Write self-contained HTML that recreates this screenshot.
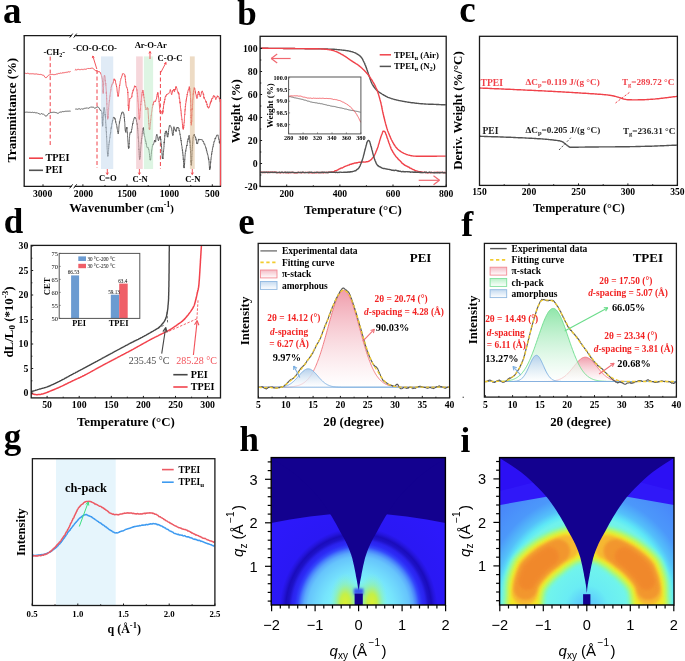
<!DOCTYPE html>
<html><head><meta charset="utf-8"><style>html,body{margin:0;padding:0;background:#fff;}svg{display:block;will-change:transform;}</style></head>
<body><svg width="685" height="661" viewBox="0 0 685 661">
<rect width="685" height="661" fill="#fff"/>
<text x="3" y="23.2" font-size="37" text-anchor="start" font-weight="bold" fill="#000" font-family="Liberation Serif" >a</text>
<line x1="50.2" y1="56.6" x2="50.2" y2="145" stroke="#f0424a" stroke-width="1" stroke-dasharray="4,2.5"/>
<line x1="97" y1="70" x2="97" y2="168" stroke="#f0424a" stroke-width="1" stroke-dasharray="4,2.5"/>
<line x1="160.4" y1="71" x2="160.4" y2="169" stroke="#f0424a" stroke-width="1" stroke-dasharray="4,2.5"/>
<path d="M24.6,112.3 L25.1,112 L25.6,112.3 L26.1,112.3 L26.6,112.1 L27.1,112.2 L27.6,112.2 L28.1,112.3 L28.6,112.3 L29.1,112.3 L29.6,112.3 L30.1,112.5 L30.6,112.3 L31.1,112.3 L31.6,112.5 L32.1,112.3 L32.6,112.3 L33.1,112.7 L33.6,112.5 L34.1,112.6 L34.6,112.4 L35.1,112.6 L35.6,112.8 L36.1,112.6 L36.6,112.9 L37.1,113.1 L37.6,112.9 L38.1,113.4 L38.6,113.5 L39.1,113.9 L39.6,113.9 L40.1,114.2 L40.6,114.2 L41.1,113.7 L41.6,113.6 L42.1,113.9 L42.6,114.1 L43.1,113.9 L43.6,114.2 L44.1,114.7 L44.6,115.1 L45.1,115.7 L45.6,116.1 L46.1,116.3 L46.6,116 L47.1,115.3 L47.6,114.6 L48.1,114.3 L48.6,113.4 L49.1,113.4 L49.6,113.2 L50.1,112.8 L50.6,112.6 L51.1,112.8 L51.6,112.4 L52.1,112.3 L52.6,112.4 L53.1,112.5 L53.6,112.2 L54.1,112.3 L54.6,112.3 L55.1,112.6 L55.6,112.5 L56.1,112.8 L56.6,112.7 L57.1,113 L57.6,113.3 L58.1,113.4 L58.6,113 L59.1,112.7 L59.6,112.3 L60.1,112.3 L60.6,112 L61.1,112.1 L61.6,112 L62.1,111.6 L62.6,111.6 L63.1,111.8 L63.6,111.6 L64.1,111.7 L64.6,111.4 L65.1,111.2 L65.6,111.3 L66.1,111.5 L66.6,111.2 L67.1,111.2 L67.6,111.2 L68.1,111.2 L68.6,111.2 L69.1,111.4 L69.6,111 L70.1,110.9 L70.6,111.3" fill="none" stroke="#5a5a5a" stroke-width="1.0" stroke-linejoin="round" />
<path d="M75.2,109.1 L75.4,109.1 L75.7,109.1 L76.1,109.1 L76.4,109.1 L76.8,109 L77.3,109.1 L77.7,109.4 L78.2,109.1 L78.7,108.8 L79.1,108.9 L79.6,108.8 L80,109 L80.4,109.2 L80.8,109.4 L81.2,109.2 L81.7,108.7 L82.1,109.1 L82.5,109.1 L82.9,109.2 L83.3,109 L83.7,108.7 L84.2,108.7 L84.6,108.2 L85,108.5 L85.4,108.3 L85.8,108.2 L86.2,108.2 L86.7,108 L87.1,108.1 L87.5,107.9 L87.9,108.3 L88.3,108.3 L88.8,108.1 L89.2,107.9 L89.6,107.7 L90,107.5 L90.4,107.1 L90.9,107.1 L91.3,107.1 L91.8,107.2 L92.2,107.4 L92.6,107.1 L93.1,107.1 L93.5,107.3 L93.9,107.4 L94.3,107.7 L94.7,108.3 L95,108 L95.5,107.9 L96,107.6 L96.4,107.4 L96.7,107.4 L97.1,107.1 L97.4,107 L97.7,106.9 L98,106.8 L98.3,107.2 L98.6,107.4 L98.9,108 L99.2,108.1 L99.5,108.7 L99.7,109.3 L99.9,109.2 L100.1,109.6 L100.3,110.4 L100.5,110.5 L100.8,110.2 L101,110.4 L101.2,111 L101.4,111.1 L101.6,111.6 L101.8,112.3 L101.9,112.5 L101.9,113.8 L102,113.7 L102,114.1 L102.1,114.6 L102.1,115.6 L102.1,115.7 L102.2,117 L102.2,117.8 L102.2,118.1 L102.2,117.6 L102.3,117.6 L102.3,118.4 L102.3,119.2 L102.3,120.1 L102.3,121.1 L102.3,121.6 L102.4,121.9 L102.4,122.5 L102.4,122 L102.4,123.2 L102.4,123 L102.4,122.9 L102.4,123.5 L102.4,124.1 L102.5,124.2 L102.5,124.7 L102.5,125.3 L102.5,125.8 L102.5,126 L102.6,125.7 L102.6,125.8 L102.6,126.3 L102.6,125.8 L102.7,125.5 L102.7,124.4 L102.7,124.7 L102.7,125.4 L102.8,125.1 L102.8,124.4 L102.8,124.4 L102.8,124.2 L102.9,124 L102.9,122.5 L102.9,121.5 L102.9,121.5 L103,121.2 L103,120.8 L103,119.5 L103.1,119.4 L103.1,119.7 L103.1,119.2 L103.1,119.3 L103.2,118.2 L103.2,117.2 L103.2,117.1 L103.3,116.5 L103.3,114.5 L103.3,113.5 L103.3,113.5 L103.4,112.9 L103.4,113.4 L103.4,113.4 L103.5,113 L103.5,112 L103.5,111.3 L103.6,111.2 L103.6,110.6 L103.6,110.5 L103.6,110.2 L103.7,110.2 L103.7,109.8 L103.8,108.8 L104,107.4 L104.1,107.4 L104.3,107.6 L104.4,109 L104.6,109.3 L104.7,110.2 L104.9,111.8 L105,113.3 L105,113.9 L105.1,114.1 L105.1,114.8 L105.1,114.4 L105.1,115.1 L105.2,114.5 L105.2,114.8 L105.2,115.4 L105.3,116 L105.3,116.1 L105.3,116.2 L105.3,116.1 L105.4,115.8 L105.4,116 L105.4,117.7 L105.5,117.4 L105.5,117.5 L105.5,117.8 L105.5,118.6 L105.6,119.3 L105.6,119.7 L105.6,119.9 L105.7,120.6 L105.7,120.7 L105.7,121.7 L105.7,122.9 L105.8,122.8 L105.8,123.4 L105.8,123.6 L105.9,124 L105.9,124 L105.9,124.8 L105.9,125.5 L106,126.6 L106,127.9 L106,127.3 L106.1,128.1 L106.1,128 L106.1,128.2 L106.2,128.3 L106.2,129.3 L106.2,130.3 L106.2,130.6 L106.3,131 L106.3,131.1 L106.3,131.4 L106.3,131.3 L106.4,132 L106.4,131.7 L106.4,133.6 L106.4,134.4 L106.5,134.2 L106.5,134.4 L106.5,134.7 L106.5,135.3 L106.6,135.9 L106.6,137.2 L106.6,137.1 L106.6,136.6 L106.6,137.5 L106.7,138.3 L106.7,138.4 L106.7,139.4 L106.7,139.8 L106.8,139.9 L106.8,140.6 L106.8,140.6 L106.8,141.2 L106.9,142.7 L106.9,143.5 L106.9,144 L106.9,144.2 L107,144.6 L107,144.5 L107,145.2 L107,145.4 L107,145.8 L107.1,147.1 L107.1,147.1 L107.1,147.6 L107.1,148.1 L107.2,149 L107.2,149.1 L107.2,149.7 L107.2,150.1 L107.3,150.3 L107.3,150.4 L107.3,150.4 L107.3,151.5 L107.4,151.4 L107.4,152.4 L107.4,153.2 L107.4,152.9 L107.5,152.7 L107.5,152.7 L107.5,153 L107.5,154 L107.6,153.8 L107.6,153.6 L107.6,153.4 L107.6,154 L107.7,154.6 L107.7,155.4 L107.7,155.3 L107.7,155.3 L107.8,155.2 L107.8,156.4 L107.9,156.4 L107.9,156.1 L108,155.3 L108,154.8 L108.1,154.4 L108.1,154 L108.1,153.9 L108.2,153.1 L108.2,153.5 L108.3,152.4 L108.3,152.2 L108.4,151.9 L108.4,151.5 L108.5,151.3 L108.5,150.4 L108.5,149.7 L108.6,149.5 L108.6,149.1 L108.7,148 L108.7,147.5 L108.8,146.1 L108.8,145.8 L108.9,144.3 L108.9,144.7 L109,143.8 L109,143.8 L109.1,143.4 L109.1,142.5 L109.2,142.4 L109.3,142.6 L109.3,141.5 L109.4,141.8 L109.4,141.2 L109.5,140.1 L109.5,139.6 L109.6,139.4 L109.6,139.3 L109.7,138.4 L109.7,137.8 L109.8,137.7 L109.9,137.4 L109.9,137.7 L110,137.2 L110,136.8 L110.1,135.6 L110.2,134.8 L110.2,134 L110.3,133.9 L110.3,133.9 L110.4,134.1 L110.5,133.8 L110.5,132.7 L110.6,132.2 L110.7,132.7 L110.7,131.9 L110.8,131.5 L110.8,130.3 L110.9,129.4 L111,129.2 L111,129 L111.1,129 L111.1,128.6 L111.2,127.6 L111.2,128.6 L111.3,128.1 L111.4,126.7 L111.5,127.1 L111.6,126.7 L111.6,125.9 L111.7,125.3 L111.8,125 L111.9,123.4 L112,123.7 L112.1,123.4 L112.2,123.2 L112.3,122.4 L112.3,121.8 L112.4,122.2 L112.5,120.1 L112.6,120.8 L112.7,121 L112.7,119.8 L112.8,119.5 L112.9,119.1 L113,118.8 L113.1,118.2 L113.1,117.8 L113.2,118 L113.6,117.2 L113.9,117.2 L114.2,117.5 L114.6,117.6 L114.7,118.7 L114.8,119.2 L114.9,118.3 L115,118.6 L115.1,118.8 L115.2,119.5 L115.4,119.4 L115.5,120.7 L115.6,120.8 L115.7,122.1 L115.8,121.8 L115.9,123 L116.1,123.3 L116.2,123.8 L116.3,124.1 L116.4,124.5 L116.5,124.2 L116.6,124.6 L116.6,124.9 L116.7,125.4 L116.8,125.9 L116.9,126.9 L117,127.5 L117,127.8 L117.1,127.6 L117.2,128.9 L117.3,129.1 L117.4,129.6 L117.5,130.4 L117.5,130.9 L117.6,131.4 L117.7,131.8 L117.8,131.4 L117.8,132.3 L117.9,132.6 L118,133.2 L118.1,133.2 L118.1,133 L118.2,133.7 L118.3,133.4 L118.3,133.6 L118.4,133.4 L118.4,133.2 L118.5,133.1 L118.5,132.7 L118.5,131.7 L118.6,131.2 L118.6,131.5 L118.7,130.7 L118.7,130 L118.7,129.6 L118.8,129.5 L118.8,128.5 L118.9,128 L118.9,127.3 L118.9,126.6 L119,126.6 L119,125.8 L119.1,125.4 L119.1,125.1 L119.2,124.7 L119.2,124.3 L119.3,124 L119.4,123 L119.4,121.6 L119.5,122 L119.6,122.4 L119.7,121.5 L119.8,121 L119.9,120.9 L120,119.9 L120.1,119.4 L120.2,118.8 L120.3,118.6 L120.4,118.1 L120.5,118.3 L120.6,117.1 L120.8,116.3 L120.9,115.4 L121,115.4 L121.1,115 L121.2,114.6 L121.4,114.6 L121.5,113.7 L121.6,113 L121.7,113.8 L121.8,113.4 L121.9,112.6 L122,112.9 L122.1,112.6 L122.2,112 L122.5,111.9 L122.7,112.1 L123,112.3 L123.2,112.2 L123.4,113.2 L123.6,113.1 L123.8,113.8 L124,115.1 L124,114.9 L124.1,115.6 L124.1,116 L124.2,116.6 L124.2,116.8 L124.2,117.8 L124.3,117.2 L124.3,117.4 L124.4,117.7 L124.4,118.3 L124.4,119.1 L124.5,119 L124.5,120 L124.5,120.9 L124.6,121.2 L124.6,120.9 L124.7,121.8 L124.7,122.5 L124.7,122.5 L124.8,122.9 L124.8,123.3 L124.8,123.4 L124.9,124.5 L124.9,125.6 L124.9,126.1 L125,126.1 L125,126.6 L125,127.1 L125.1,128.3 L125.1,128.2 L125.2,128.8 L125.2,128.9 L125.2,129.7 L125.3,129.5 L125.3,130.1 L125.3,130.1 L125.4,130.7 L125.4,130.3 L125.4,130.7 L125.5,131.5 L125.5,131.8 L125.7,131.5 L125.8,132.4 L125.9,131.4 L126.1,130.1 L126.2,128.8 L126.3,127.5 L126.5,127.7 L126.6,127.9 L126.8,128.7 L126.8,128 L126.9,127.3 L126.9,127 L126.9,127.2 L127,127.9 L127,128.1 L127,128.2 L127.1,129.4 L127.1,129.7 L127.1,130.5 L127.2,131.5 L127.2,131.4 L127.2,131.7 L127.3,132.8 L127.3,132.5 L127.4,133 L127.4,133.2 L127.4,134 L127.5,134.5 L127.5,135.3 L127.5,135.8 L127.6,136.9 L127.6,137 L127.7,137.6 L127.7,138.5 L127.7,138.5 L127.8,138.9 L127.8,139.6 L127.9,140.1 L127.9,141.1 L127.9,141.2 L128,141.2 L128,142.3 L128,142.5 L128.1,142.9 L128.1,143.4 L128.2,144.5 L128.2,145.1 L128.2,145.4 L128.3,145.7 L128.3,145.7 L128.3,146.8 L128.4,147.2 L128.4,146.7 L128.4,147.3 L128.5,146.8 L128.5,146.7 L128.5,146.8 L128.6,147.9 L128.6,148.6 L128.6,148.2 L128.7,147.7 L128.7,148.2 L128.8,147.5 L128.8,148 L128.8,147 L128.9,147.2 L128.9,146.3 L129,146.8 L129,146.1 L129,145.2 L129.1,144.9 L129.1,143.4 L129.1,143.4 L129.2,143.3 L129.2,143.8 L129.2,142.4 L129.3,142.3 L129.3,142 L129.3,141.3 L129.4,140.3 L129.4,139.6 L129.4,138.6 L129.5,138.3 L129.5,137.2 L129.5,136.7 L129.6,136.4 L129.6,135.6 L129.6,134.8 L129.7,134.7 L129.7,134.6 L129.8,134.5 L129.8,134.3 L129.8,134.5 L129.9,133.8 L129.9,133.9 L130.2,132.1 L130.4,132.1 L130.7,132.4 L131,133 L131.3,131.6 L131.4,132 L131.4,131.2 L131.5,130.5 L131.6,129.5 L131.7,129.8 L131.7,129.1 L131.8,129.2 L131.9,128.7 L132,128.5 L132.1,127.9 L132.1,127 L132.2,126.4 L132.3,126.1 L132.4,125.9 L132.5,125.1 L132.5,125.1 L132.6,123.7 L132.7,123.1 L132.8,123.4 L132.9,123.2 L132.9,123.7 L133,123.4 L133.1,122.3 L133.2,121.2 L133.4,120.8 L133.5,120.3 L133.7,120.2 L133.8,119.3 L134,118.6 L134.1,118 L134.3,117.9 L134.4,117.4 L134.6,117.3 L134.7,117.7 L134.9,117.6 L135,117.2 L135.2,117.8 L135.3,118.3 L135.4,118 L135.6,118.1 L135.7,117.9 L135.9,118.1 L136,118.4 L136.2,118.7 L136.3,119.4 L136.5,121.1 L136.6,122 L136.7,122.1 L136.9,122.8 L137,123.4 L137.1,124.1 L137.1,123.5 L137.2,124.1 L137.2,124.1 L137.3,124.6 L137.3,125.1 L137.3,124.1 L137.4,124.1 L137.4,125.5 L137.5,126.9 L137.5,127.6 L137.5,127.3 L137.6,127.7 L137.6,128.5 L137.6,128.7 L137.7,128.2 L137.7,129.4 L137.7,129.6 L137.8,130.2 L137.8,129.9 L137.8,130.3 L137.9,131.7 L137.9,131.9 L137.9,132.6 L138,133.7 L138,133.9 L138,134.1 L138.1,134.4 L138.1,135.1 L138.1,135.6 L138.2,136 L138.2,137 L138.2,137.3 L138.2,137.9 L138.3,137.6 L138.3,137.9 L138.3,138.6 L138.4,138.6 L138.4,138.5 L138.4,139.2 L138.5,139.6 L138.5,140.4 L138.5,141.5 L138.5,141.4 L138.6,141.3 L138.6,141.7 L138.6,142.1 L138.7,142.5 L138.7,143.6 L138.7,144.2 L138.7,144.7 L138.8,144.9 L138.8,145.8 L138.8,146.1 L138.8,147.2 L138.9,147.3 L138.9,147.6 L138.9,148.4 L138.9,149.6 L139,148.9 L139,149.7 L139,149.6 L139,149.7 L139.1,150.4 L139.1,151.6 L139.1,151.5 L139.1,152.1 L139.2,153.6 L139.2,154.5 L139.2,154.4 L139.2,155.1 L139.2,155.3 L139.3,155.4 L139.3,155.5 L139.3,156.6 L139.3,156.6 L139.4,157 L139.4,157.1 L139.4,156.9 L139.4,157.5 L139.5,158.8 L139.5,158.4 L139.5,158.6 L139.6,159.4 L139.6,159.5 L139.6,159.4 L139.6,159.7 L139.7,159.7 L139.7,159.5 L139.7,159.1 L139.8,159 L139.8,158.3 L139.8,158.6 L139.9,158.6 L139.9,158.3 L139.9,157.5 L140,157.5 L140,156.7 L140,157.2 L140.1,156.6 L140.1,156.9 L140.1,156.2 L140.2,156.2 L140.2,156 L140.2,155.8 L140.3,155 L140.3,153.6 L140.4,153.7 L140.4,153 L140.4,152 L140.5,151.4 L140.5,151.4 L140.6,151.4 L140.6,151 L140.6,150.7 L140.7,150.4 L140.7,149.4 L140.7,148.8 L140.8,148.1 L140.8,147.4 L140.9,146.9 L140.9,146.6 L140.9,145.8 L141,145.5 L141,145.4 L141.1,144.6 L141.1,144.4 L141.1,143.4 L141.2,142.7 L141.2,143.3 L141.3,142.6 L141.3,142.7 L141.4,141.1 L141.4,139.8 L141.5,139.9 L141.5,139.7 L141.6,138.4 L141.6,138.8 L141.7,138.7 L141.7,137.9 L141.8,137.8 L141.8,137.5 L141.9,136.9 L141.9,136 L142,135.9 L142.1,135.1 L142.1,134.5 L142.2,133.5 L142.2,133.4 L142.3,133.7 L142.3,132.8 L142.4,132.2 L142.4,131.3 L142.5,131.2 L142.5,131.3 L142.6,130.9 L142.7,130.8 L142.7,130.8 L142.8,129.8 L142.8,129.3 L142.9,129.5 L142.9,129 L143,128.4 L143,128.5 L143.1,128.6 L143.1,128.9 L143.2,128.2 L143.3,128.3 L143.4,128.6 L143.4,127.5 L143.5,128.6 L143.6,129 L143.6,128.8 L143.7,130.4 L143.8,131 L143.9,131.6 L143.9,133 L144,133.6 L144.1,133.3 L144.2,133.8 L144.3,135.1 L144.4,135.8 L144.5,136.4 L144.5,136.2 L144.6,136.7 L144.7,136.5 L144.8,136.7 L144.9,137.4 L144.9,137.6 L145,138.3 L145.1,138.5 L145.2,139 L145.3,140.3 L145.4,140.6 L145.5,141.1 L145.6,140.6 L145.7,140.8 L145.7,141.8 L145.8,141.5 L145.9,142 L146,142.5 L146.1,143.6 L146.2,143.1 L146.3,143.6 L146.4,144.2 L146.5,144.7 L146.5,144.4 L146.6,145.6 L146.7,146.1 L146.9,147.1 L147.1,147.5 L147.3,147.8 L147.5,147.6 L147.7,147.6 L147.9,147.3 L148,147.9 L148.2,147.8 L148.4,148.9 L148.6,149.7 L148.7,149.6 L148.7,150 L148.8,149.7 L148.9,150 L149,150.5 L149,150.8 L149.1,151.5 L149.2,152.3 L149.3,152.8 L149.3,153.2 L149.4,153.6 L149.5,153.7 L149.5,155.1 L149.6,155.6 L149.7,156.9 L149.8,156.7 L149.8,157.1 L149.9,158 L150,158.9 L150,159.4 L150.1,159.7 L150.2,159 L150.3,159.4 L150.3,160.2 L150.4,158.9 L150.5,159.2 L150.5,160.1 L150.6,159 L150.6,158.9 L150.7,159.4 L150.8,159 L150.8,158.4 L150.9,158.2 L150.9,157.4 L151,157.2 L151,156.5 L151.1,156.3 L151.2,155.2 L151.2,154.7 L151.3,154.3 L151.3,152.8 L151.4,153.1 L151.5,152.5 L151.5,151.8 L151.6,150.8 L151.6,150.6 L151.7,149.9 L151.8,150 L151.8,150.2 L151.9,149.3 L152,148.5 L152,148.1 L152.1,147.7 L152.2,147.6 L152.3,146.2 L152.5,146.3 L152.6,145.9 L152.7,145.2 L152.9,144.2 L153.1,144.5 L153.2,144.6 L153.4,144.1 L153.5,143.8 L153.7,143.5 L153.9,142.9 L154,142.7 L154.2,141.6 L154.3,141.7 L154.5,140.2 L154.6,140.9 L154.7,141.3 L154.8,141.3 L154.9,140.4 L155.2,140.2 L155.3,141.3 L155.4,141.7 L155.5,142 L155.6,141.8 L155.6,142.1 L155.7,141.3 L155.7,140.6 L155.8,140.5 L155.9,140.4 L155.9,139.5 L156,138.3 L156.1,137.4 L156.2,136.6 L156.2,136.6 L156.3,135.9 L156.4,135.8 L156.5,135 L156.6,134.9 L156.6,135.1 L156.7,134.5 L156.8,135.1 L156.9,135 L157.1,134.8 L157.2,135.2 L157.3,135.8 L157.5,136.1 L157.6,136.6 L157.7,137.6 L157.9,137.4 L158,139.4 L158.2,139.9 L158.3,140.3 L158.5,140.8 L158.7,140 L159,139 L159.2,138 L159.4,137.5 L159.7,137.5 L159.9,136.6 L160.1,137.7 L160.2,137.2 L160.2,136.7 L160.3,137.8 L160.4,137.6 L160.4,138.3 L160.5,137.7 L160.6,138.7 L160.6,138.7 L160.7,139.9 L160.7,139.2 L160.8,139.6 L160.8,139.8 L160.9,140.8 L161,140.9 L161,141.6 L161.1,142.4 L161.1,142.8 L161.2,143.6 L161.2,144.3 L161.3,143.9 L161.3,145.4 L161.4,145.2 L161.4,145.4 L161.5,147.1 L161.5,146.9 L161.6,147.3 L161.6,148.2 L161.6,148.1 L161.7,148.6 L161.7,149.1 L161.8,149.6 L161.8,149.6 L161.8,151 L161.9,151.5 L161.9,152.3 L162,152.7 L162,152.8 L162,154 L162.1,153.9 L162.1,154.9 L162.1,154.8 L162.2,154.9 L162.2,155.6 L162.3,157.4 L162.3,157.8 L162.3,157.7 L162.4,157.9 L162.4,158.6 L162.5,158.1 L162.5,157.2 L162.5,157.2 L162.6,157.8 L162.6,157.7 L162.7,158 L162.7,159 L162.8,158.5 L162.8,157.9 L162.9,157.9 L162.9,158.3 L163,158.6 L163,158 L163,157 L163.1,156.1 L163.1,155 L163.2,154.4 L163.2,154.7 L163.3,154.4 L163.3,153.8 L163.4,152.5 L163.4,152 L163.5,151.1 L163.5,151.6 L163.6,150.8 L163.6,150 L163.7,149.4 L163.7,149 L163.8,148.7 L163.8,148 L163.8,147.9 L163.9,147.6 L163.9,147.6 L163.9,147.3 L164,147 L164,146 L164,145.5 L164.1,143.8 L164.1,143.4 L164.2,143.2 L164.2,141.8 L164.2,142.8 L164.3,143 L164.3,142.5 L164.3,143.2 L164.4,141.2 L164.4,140.9 L164.4,140.5 L164.5,139.7 L164.5,140.2 L164.6,140.1 L164.6,139.5 L164.6,138.2 L164.7,137.9 L164.7,137.5 L164.7,137.4 L164.8,136.1 L164.8,135.5 L164.9,136.1 L164.9,135.8 L164.9,135.4 L165,135.1 L165,133.4 L165.1,133.9 L165.3,132.3 L165.4,131.4 L165.6,131.7 L165.7,132.2 L165.9,132.3 L166,131.5 L166.2,130.9 L166.3,131.4 L166.4,131.6 L166.5,130.9 L166.6,132.5 L166.7,131.9 L166.8,133.1 L166.9,134.1 L167,135.2 L167.1,135.6 L167.2,136.5 L167.3,136.8 L167.5,136.4 L167.6,136.3 L167.7,137.2 L167.8,135.8 L167.8,136.3 L167.9,135.8 L167.9,134.7 L168,134.4 L168.1,134.7 L168.1,133 L168.2,133.8 L168.3,134.2 L168.3,133.3 L168.4,132.6 L168.5,132.2 L168.5,132.1 L168.6,130.8 L168.7,130.2 L168.7,130 L168.8,128.7 L168.9,128.8 L169,128.4 L169,128.4 L169.1,127.2 L169.2,127 L169.2,126.9 L169.3,126.6 L169.4,125.7 L169.4,126.3 L169.5,125.9 L169.8,125.4 L170.1,125.3 L170.4,126 L170.7,126.4 L171,126.6 L171.3,127.9 L171.4,128 L171.5,128.4 L171.6,128.8 L171.7,128.6 L171.7,129.4 L171.8,130.2 L171.9,129.9 L172,130.7 L172.1,131.4 L172.2,132.5 L172.2,132.8 L172.3,133.3 L172.4,134.1 L172.5,133.7 L172.6,133.8 L172.6,134.2 L172.7,134.9 L172.8,135.7 L172.9,135.3 L173,134.9 L173,134.2 L173.1,134 L173.2,134.5 L173.2,133.6 L173.3,132.6 L173.4,132.9 L173.4,131.9 L173.5,131 L173.6,129.9 L173.6,130.1 L173.7,129.3 L173.8,127.8 L173.9,126.7 L173.9,127.2 L174,127 L174.1,127.5 L174.3,127.8 L174.4,128.7 L174.6,129.4 L174.8,128.8 L175,129.2 L175.2,129.4 L175.3,130.7 L175.5,130.2 L175.7,131.2 L175.9,130.3 L176.1,131.2 L176.2,131.5 L176.3,130 L176.5,129.7 L176.7,129 L176.8,127.8 L177,128.2 L177.1,127.3 L177.3,127.7 L177.4,127.4 L177.6,128 L177.7,127.1 L177.8,127.4 L178,127.3 L178.1,127.1 L178.3,127.9 L178.4,128 L178.6,128 L178.8,128.5 L178.9,128.3 L179,129.7 L179.2,131.1 L179.3,130.4 L179.5,131.2 L179.6,131.3 L179.6,131.4 L179.7,132.4 L179.8,133.6 L179.8,133.6 L179.9,133.5 L180,134.6 L180,134.3 L180.1,134.2 L180.2,134.3 L180.2,135.4 L180.3,135.7 L180.4,136.1 L180.4,136.1 L180.5,136.8 L180.6,137.2 L180.6,138.6 L180.7,138.6 L180.8,138.2 L180.8,139.7 L180.9,140 L181,140.2 L181,140.7 L181.1,141 L181.2,140.2 L181.2,141.1 L181.3,142.5 L181.4,143.2 L181.4,142.9 L181.5,143.1 L181.5,143.8 L181.6,145.3 L181.6,145.3 L181.7,145.4 L181.7,145.3 L181.8,145.4 L181.8,145.7 L181.9,146.3 L181.9,146.3 L182,146.7 L182,146.8 L182.1,148.3 L182.1,149 L182.2,149.1 L182.3,149.4 L182.3,150.3 L182.4,150.6 L182.4,150.6 L182.5,149.6 L182.5,149.7 L182.6,151.3 L182.6,151.9 L182.7,152.2 L182.7,151.9 L182.8,153.3 L182.8,153.2 L182.8,154 L182.9,154.6 L182.9,154.8 L183,154.7 L183,155.7 L183.1,155.4 L183.1,155.8 L183.2,156.6 L183.2,158 L183.2,158.1 L183.3,158.8 L183.3,159.6 L183.4,158.7 L183.4,159.3 L183.4,160.1 L183.5,160.7 L183.5,162.1 L183.6,162.3 L183.6,163.3 L183.6,164.3 L183.7,164.4 L183.7,165 L183.7,166.1 L183.7,166.6 L183.8,166.6 L183.8,165.7 L183.8,166 L183.9,166.5 L183.9,167.1 L183.9,167.4 L184,167.5 L184,167 L184.1,167.6 L184.1,168.1 L184.1,167.8 L184.2,167.6 L184.2,167.8 L184.2,167.1 L184.3,167.1 L184.3,167.2 L184.3,166.3 L184.3,165.9 L184.4,165.1 L184.4,164.4 L184.4,163.3 L184.5,163.7 L184.5,164.9 L184.5,163.8 L184.6,164 L184.6,163.6 L184.6,162.4 L184.7,162.2 L184.7,161.1 L184.7,159.4 L184.8,159.8 L184.8,159.2 L184.8,158.6 L184.9,158.6 L184.9,158.5 L184.9,157.6 L185,157.1 L185,156.7 L185,155.6 L185.1,155.7 L185.1,154.8 L185.2,154.7 L185.2,154.7 L185.2,154.6 L185.3,152.9 L185.3,152.4 L185.4,152 L185.5,151.3 L185.5,151 L185.6,150.7 L185.7,150.5 L185.8,151.4 L185.8,150.6 L185.9,149.9 L186,149 L186.1,148.6 L186.2,148.2 L186.3,148.3 L186.4,147.2 L186.4,147 L186.5,146.3 L186.6,145.3 L186.7,145.9 L186.8,145.5 L186.9,145.5 L186.9,146 L187,145.9 L187.1,144.9 L187.2,144.3 L187.3,143.3 L187.3,142.7 L187.4,141.4 L187.5,141.7 L187.6,141.3 L187.7,141.4 L187.8,141.6 L187.8,140.1 L187.9,139.7 L188,139 L188.1,139.3 L188.2,138.5 L188.2,138.9 L188.3,139.4 L188.4,139.4 L188.5,139.3 L188.5,138.3 L188.6,137.5 L188.8,136.2 L188.9,136.2 L189.1,135.3 L189.2,135.3 L189.3,136.8 L189.5,137.8 L189.6,137.7 L189.8,140 L189.9,140.3 L189.9,140 L189.9,141.3 L190,142.2 L190,141.9 L190,142.4 L190,141.6 L190.1,142.6 L190.1,142.6 L190.1,143.6 L190.1,143.5 L190.2,143.7 L190.2,144.7 L190.2,145.4 L190.2,145.5 L190.3,145.1 L190.3,146.1 L190.3,147.4 L190.3,148.1 L190.4,147.5 L190.4,148.2 L190.4,148.9 L190.4,150.2 L190.5,150.3 L190.5,150.5 L190.5,151.8 L190.5,151.3 L190.6,151.5 L190.6,151.7 L190.6,153.2 L190.6,153.3 L190.7,154.3 L190.7,154.3 L190.7,155.7 L190.7,156.2 L190.8,156.1 L190.8,157 L190.8,157.5 L190.8,157.8 L190.9,157.7 L190.9,159.3 L190.9,159.5 L190.9,159.5 L191,159.9 L191,160.3 L191,160 L191,161.2 L191,160.6 L191.1,161.8 L191.1,161 L191.1,161 L191.1,162.5 L191.2,162 L191.2,162.7 L191.2,163.2 L191.2,164.2 L191.2,165 L191.3,165 L191.3,164.9 L191.3,165.2 L191.3,165.3 L191.4,163.9 L191.4,164.4 L191.4,163.7 L191.4,165.2 L191.5,165.1 L191.5,164 L191.5,164.6 L191.6,163.2 L191.6,163.1 L191.6,161.9 L191.6,161.6 L191.6,161.5 L191.7,160.3 L191.7,160.5 L191.7,160.7 L191.7,160.8 L191.8,160.3 L191.8,159.5 L191.8,158.9 L191.8,157.5 L191.8,156.6 L191.9,156.9 L191.9,155.4 L191.9,154.7 L191.9,154.8 L192,154 L192,152.8 L192,152.2 L192,151.5 L192.1,150.7 L192.1,150.3 L192.1,150.7 L192.1,149.9 L192.2,149.7 L192.2,149 L192.2,148.7 L192.3,148.8 L192.3,148.5 L192.3,147.8 L192.4,147.1 L192.4,147.3 L192.4,146.4 L192.5,145.1 L192.5,145.4 L192.5,145.3 L192.6,144.6 L192.6,143.7 L192.6,144.1 L192.7,144 L192.7,143.3 L192.7,142.5 L192.8,142.2 L192.8,142.4 L192.8,141 L192.9,140.9 L192.9,139.1 L192.9,138.7 L193,138.9 L193,138.6 L193.1,137.5 L193.1,137.9 L193.1,137.8 L193.2,137.7 L193.2,136.9 L193.2,136.4 L193.3,136 L193.3,135.9 L193.4,135.7 L193.4,135.3 L193.5,135.5 L193.5,135.8 L193.8,134.8 L194.1,135.1 L194.4,134.1 L194.7,136.3 L195,136.1 L195.3,136.6 L195.4,137.2 L195.5,138 L195.6,138.2 L195.7,137.6 L195.8,138.2 L195.9,138.3 L196,139.7 L196.1,140.1 L196.2,139.4 L196.3,140.2 L196.4,141.3 L196.5,141.4 L196.6,142.5 L196.7,142.1 L196.8,142.8 L196.9,143.9 L197,144 L197.1,143.5 L197.2,143.3 L197.4,144 L197.5,144 L197.6,143.6 L197.7,143.3 L197.8,142.5 L198,141.8 L198.1,141.1 L198.2,140.3 L198.3,140.4 L198.5,139.2 L198.6,140.1 L198.8,139.7 L198.9,138.9 L199.2,139.4 L199.6,140 L199.9,139.8 L200.3,139.1 L200.6,139.7 L201,140.1 L201.3,140 L201.7,139.5 L202,139.5 L202.3,140.1 L202.7,140.4 L203.1,141.6 L203.2,141.1 L203.4,141.9 L203.5,141.7 L203.7,142.4 L203.8,142.8 L204,143.8 L204.1,144.1 L204.3,143.9 L204.5,144.3 L204.6,143.8 L204.8,144.5 L205,145.4 L205.1,145.9 L205.3,146 L205.5,146.7 L205.6,147.3 L205.8,147.9 L205.9,147.6 L206,148.5 L206.1,148.7 L206.2,148.4 L206.3,148.9 L206.4,150.1 L206.5,151.1 L206.6,150.9 L206.7,150.6 L206.9,150.9 L207,151.8 L207.1,152.9 L207.2,153 L207.3,153 L207.4,154.1 L207.5,154.4 L207.6,154.1 L207.7,154.4 L207.8,155.3 L207.9,155.4 L208,155.8 L208.1,155.8 L208.2,156.7 L208.3,157.8 L208.4,158.5 L208.4,158.1 L208.5,157.8 L208.6,159.1 L208.7,159.6 L208.7,159 L208.8,160.4 L208.9,160.4 L208.9,160.6 L209,161.3 L209,161.2 L209.1,161.5 L209.1,163.3 L209.2,163.6 L209.2,164.4 L209.3,165.5 L209.3,165.8 L209.3,166 L209.4,166.6 L209.4,167.7 L209.4,167.9 L209.5,167.6 L209.5,168.9 L209.6,169.4 L209.6,168.3 L209.7,168.6 L209.7,169.9 L209.7,168.5 L209.8,167.8 L209.8,168.5 L209.9,168.1 L209.9,167.2 L210,168.3 L210,167.8 L210.1,167.8 L210.1,168 L210.2,167.4 L210.2,166.3 L210.3,167.2 L210.3,166.8 L210.4,165.8 L210.4,164.8 L210.5,163.6 L210.5,163.7 L210.6,162.5 L210.6,163.2 L210.7,161.4 L210.7,161.7 L210.8,160.5 L210.9,159.7 L210.9,159.9 L211,159.5 L211,159.4 L211.1,158.1 L211.1,157.7 L211.2,157.2 L211.2,157.1 L211.3,157.2 L211.4,156.5 L211.4,155.5 L211.5,155.3 L211.5,154 L211.6,153.7 L211.7,154.4 L211.7,153.6 L211.8,153.7 L211.8,152.9 L211.9,152 L212,151.9 L212,151.8 L212.1,151.3 L212.2,151 L212.2,151.4 L212.3,150.6 L212.4,150.1 L212.4,149.1 L212.5,149.2 L212.6,148.2 L212.6,148 L212.7,147.4 L212.8,147.5 L212.9,147.3 L212.9,147.3 L213,146.6 L213.1,146.4 L213.2,146.7 L213.3,145.2 L213.4,144.1 L213.6,144.3 L213.7,143.8 L213.8,143.3 L214,141.5 L214.1,141.5 L214.2,141.9 L214.4,141.7 L214.5,141.2 L214.7,140.6 L214.8,139.9 L214.9,139.4 L215.1,139.3 L215.2,138 L215.3,138.9 L215.5,137.9 L215.6,138.5 L215.7,138.5 L215.8,137.5 L216.1,136.7 L216.3,136.4 L216.5,136.4 L216.8,135.1 L217,135.1 L217.2,135.2 L217.4,134.9 L217.6,135.2 L217.7,135 L217.8,135 L217.9,134.9 L218,135.1 L218.2,136.3 L218.3,137 L218.4,137.7 L218.5,137.7 L218.6,138.4 L218.7,139.3 L218.8,138.9 L219,139 L219.1,139.3 L219.2,140.2 L219.3,141 L219.3,142.4 L219.4,142.9 L219.5,141.3 L219.8,142.7 L220,143.1 L220.1,144 L220.2,143.5" fill="none" stroke="#5a5a5a" stroke-width="1.0" stroke-linejoin="round" />
<path d="M24.6,73.2 L25.1,73.4 L25.6,73.3 L26.1,73.5 L26.6,73.5 L27.1,73.3 L27.6,73.3 L28.1,73.7 L28.6,73.4 L29.1,73.5 L29.6,73.9 L30.1,73.6 L30.6,73.8 L31.1,73.7 L31.6,73.8 L32.1,73.6 L32.6,73.8 L33.1,74 L33.6,73.8 L34.1,74 L34.6,74 L35.1,73.7 L35.6,74.1 L36.1,74.1 L36.6,73.9 L37.1,73.9 L37.6,74.3 L38.1,74.2 L38.6,74.4 L39.1,74.5 L39.6,74.5 L40.1,74.7 L40.6,74.4 L41.1,74.7 L41.6,74.6 L42.1,75 L42.6,75.1 L43.1,75 L43.6,75.3 L44.1,75.8 L44.6,76.8 L45.1,77.1 L45.6,77.7 L46.1,77.7 L46.6,77.5 L47.1,76.8 L47.6,76.1 L48.1,75.7 L48.6,75.3 L49.1,75.1 L49.6,74.8 L50.1,74.8 L50.6,74.6 L51.1,74.6 L51.6,74.4 L52.1,74.1 L52.6,74.5 L53.1,74.6 L53.6,74.6 L54.1,74.5 L54.6,74.6 L55.1,74.3 L55.6,74.5 L56.1,74.3 L56.6,74 L57.1,73.7 L57.6,74 L58.1,73.9 L58.6,73.4 L59.1,73.6 L59.6,73.4 L60.1,73.1 L60.6,73.1 L61.1,73.3 L61.6,73.2 L62.1,72.7 L62.6,72.9 L63.1,72.6 L63.6,72.8 L64.1,72.5 L64.6,72.7 L65.1,72.7 L65.6,72.4 L66.1,72.6 L66.6,72.2 L67.1,72 L67.6,72.2 L68.1,71.8 L68.6,71.8 L69.1,71.9 L69.6,71.9 L70.1,71.6 L70.6,71.5" fill="none" stroke="#f24c54" stroke-width="1.0" stroke-linejoin="round" />
<path d="M75.2,70.4 L75.4,69.7 L75.7,69.3 L76.1,69.7 L76.4,69.9 L76.8,69.8 L77.3,69.8 L77.7,69.3 L78.2,69.4 L78.7,69.3 L79.1,69.4 L79.6,69.7 L80,69.6 L80.4,69.7 L80.8,69.4 L81.2,69.3 L81.7,69.4 L82.1,69.3 L82.5,69.6 L82.9,69.3 L83.3,69.6 L83.7,69.2 L84.2,69.4 L84.6,69.1 L85,69.4 L85.4,69.3 L85.9,69.2 L86.3,69.2 L86.7,68.9 L87.2,68.6 L87.6,68.2 L88.1,68.7 L88.5,68.5 L88.9,68.4 L89.3,68.5 L89.7,68.9 L90,68.3 L90.5,68.4 L91,68.2 L91.5,68.3 L91.9,67.8 L92.3,67.9 L92.6,68.2 L93,68.6 L93.3,69 L93.7,68.9 L94,69.3 L94.2,69.6 L94.5,69.7 L94.7,69.8 L95,70.4 L95.5,70.6 L96,70.3 L96.5,70.6 L96.8,70.6 L97,71.2 L97.2,71.6 L97.5,72 L97.7,72.3 L98,72.1 L98.3,71.6 L98.6,71.1 L99,71.5 L99.2,71.3 L99.4,71.7 L99.6,71.9 L99.8,72 L100.1,72.7 L100.3,72.6 L100.6,73.5 L100.8,73.4 L101,73.7 L101.2,74.5 L101.4,75.3 L101.5,75.9 L101.6,76.3 L101.7,76.3 L101.8,76.1 L101.8,76.8 L101.9,77.2 L102,77.1 L102,78 L102.1,78.4 L102.2,78.3 L102.2,79 L102.3,78.9 L102.3,79.2 L102.4,80.1 L102.4,80 L102.5,80.8 L102.5,80.9 L102.6,82.1 L102.6,82.2 L102.7,82.8 L102.7,82.7 L102.7,83.3 L102.7,84.5 L102.8,85.1 L102.8,84.8 L102.8,86 L102.8,87 L102.9,87.2 L102.9,88.3 L102.9,88.2 L102.9,88.8 L102.9,89.8 L102.9,90.7 L103,91.4 L103,91 L103,90.6 L103,91.5 L103,91.4 L103.1,92 L103.1,91.9 L103.1,92.9 L103.1,93.4 L103.1,93.6 L103.2,93.4 L103.2,93.3 L103.2,93 L103.2,93 L103.3,92.9 L103.3,92.8 L103.3,92.2 L103.3,92.8 L103.3,92.2 L103.4,92.2 L103.4,92 L103.4,90.7 L103.4,89.5 L103.4,89.9 L103.5,89.2 L103.5,88.7 L103.5,88.1 L103.5,87.7 L103.6,86.7 L103.6,86.3 L103.6,85.7 L103.6,85.4 L103.7,83.9 L103.7,84.2 L103.7,83.9 L103.7,82.7 L103.7,82.1 L103.8,81.9 L103.8,81.9 L103.8,81.3 L103.8,81.4 L103.9,80.6 L103.9,79.6 L103.9,79 L103.9,79.1 L104,78.4 L104,78.4 L104,78.4 L104,78.1 L104.1,78 L104.1,77.3 L104.1,77 L104.4,75.2 L104.7,75.5 L105,76.9 L105,77.2 L105.1,77.3 L105.1,77.3 L105.1,78.1 L105.2,78.8 L105.2,79 L105.2,79.9 L105.3,80.4 L105.3,80.8 L105.3,80.5 L105.4,80.2 L105.4,81 L105.5,81.5 L105.5,82.1 L105.5,82.5 L105.6,83.2 L105.6,83.1 L105.7,83.7 L105.7,83.5 L105.7,83.1 L105.8,83.8 L105.8,85.2 L105.9,84.9 L105.9,86 L105.9,86.2 L106,86.6 L106,87.3 L106.1,87.9 L106.1,88.1 L106.1,88.8 L106.2,89.6 L106.2,90.5 L106.3,90.6 L106.3,91.9 L106.3,92.7 L106.3,93.6 L106.4,92.6 L106.4,92.9 L106.4,92.3 L106.4,93.2 L106.4,93.9 L106.5,93.7 L106.5,93.7 L106.5,94.6 L106.5,95.4 L106.5,95.5 L106.6,96 L106.6,95.5 L106.6,96.2 L106.6,97.2 L106.6,98 L106.7,99.2 L106.7,99 L106.7,98.6 L106.7,99.7 L106.7,100.2 L106.8,101 L106.8,101.9 L106.8,102.5 L106.8,103.5 L106.8,104.2 L106.9,103.6 L106.9,104.1 L106.9,105.5 L106.9,105.5 L106.9,106.3 L107,106.5 L107,106.7 L107,107.9 L107,108.6 L107,108.6 L107.1,109.3 L107.1,109 L107.1,109.3 L107.1,110.3 L107.2,110.8 L107.2,110.7 L107.2,111.5 L107.2,112.1 L107.2,113 L107.3,113.6 L107.3,113.6 L107.3,113.6 L107.3,114 L107.3,114.3 L107.4,115.3 L107.4,116.1 L107.4,116.6 L107.4,116.6 L107.4,116.4 L107.5,117 L107.5,116.9 L107.5,117.1 L107.5,116.6 L107.6,116.9 L107.6,118 L107.6,117.6 L107.6,117.2 L107.6,117.7 L107.7,118.7 L107.7,119.3 L107.7,118.8 L107.7,118.6 L107.8,118.6 L107.8,118.2 L107.8,118.4 L107.9,118.3 L107.9,117.6 L107.9,117.6 L108,117.5 L108,117.1 L108.1,116.6 L108.1,117 L108.1,117.5 L108.2,116.7 L108.2,115.9 L108.2,115.7 L108.3,115 L108.3,114.2 L108.3,114.4 L108.4,113.3 L108.4,112.5 L108.4,111.9 L108.5,111.2 L108.5,110.8 L108.6,110.7 L108.6,110.7 L108.6,110.1 L108.7,109.3 L108.7,108 L108.7,107.5 L108.8,106.7 L108.8,106.3 L108.9,106.3 L108.9,105.7 L108.9,105 L109,104.1 L109,103.8 L109.1,103.4 L109.1,102.6 L109.2,102.2 L109.2,102.3 L109.3,101.1 L109.3,100.8 L109.4,100.1 L109.4,100.7 L109.5,100.4 L109.5,100 L109.6,99.5 L109.6,99 L109.7,98.5 L109.7,97.3 L109.8,97.2 L109.9,97.1 L109.9,95.9 L110,96.1 L110,95.9 L110.1,94.7 L110.2,94.3 L110.2,93.9 L110.3,93.4 L110.3,93.4 L110.4,92.4 L110.5,92.2 L110.5,92.1 L110.6,92 L110.7,91.6 L110.7,91 L110.8,90.9 L110.8,89.6 L110.9,89.9 L111,89.5 L111,88.6 L111.1,88.4 L111.1,87.5 L111.2,86.8 L111.2,87.1 L111.3,86.9 L111.4,86.9 L111.6,86 L111.7,85.1 L111.9,84.6 L112,85.2 L112.2,84.7 L112.3,84 L112.4,83.4 L112.6,82.8 L112.7,82.8 L112.8,82.9 L113,83.2 L113.1,83.2 L113.2,82.7 L113.4,81.6 L113.6,80.6 L113.8,79.2 L114,78.8 L114.2,79.1 L114.4,79 L114.6,79.5 L114.7,79.1 L114.8,79.9 L114.9,80.2 L115,80.5 L115.1,80.9 L115.2,80.3 L115.4,80.8 L115.5,81.2 L115.6,82.7 L115.7,83 L115.8,83.2 L115.9,84.1 L116.1,84.1 L116.2,85.3 L116.3,85.3 L116.4,85.8 L116.5,85.8 L116.5,86.7 L116.6,86.2 L116.7,87.3 L116.8,87.5 L116.8,88.2 L116.9,88.4 L117,89.3 L117.1,90 L117.1,90.8 L117.2,91.3 L117.3,92 L117.4,92.8 L117.4,92.8 L117.5,92.7 L117.6,92.8 L117.7,93.8 L117.7,94.1 L117.8,95 L117.9,95.2 L117.9,95 L118,95.7 L118.1,96.6 L118.1,96.2 L118.2,95.6 L118.3,95.3 L118.3,95.8 L118.4,95.3 L118.4,95 L118.5,95.1 L118.5,94.8 L118.6,94.4 L118.7,93.7 L118.7,93.1 L118.8,92.9 L118.8,92.5 L118.8,92.2 L118.9,91.4 L118.9,91 L119,90.6 L119,90 L119.1,89.6 L119.2,89.3 L119.2,88.6 L119.3,87.9 L119.3,86.9 L119.4,86.7 L119.4,86.3 L119.5,85.7 L119.6,85 L119.7,85 L119.7,85.6 L119.8,84.9 L119.9,84.1 L120,83.6 L120.1,82.7 L120.2,82.3 L120.2,81.6 L120.3,81 L120.4,80.9 L120.5,80.6 L120.6,80.2 L120.7,79.5 L120.8,79.3 L120.9,78.6 L121,78.7 L121.1,78.2 L121.2,78 L121.3,78 L121.5,77.6 L121.7,76.4 L121.9,75.9 L122.1,75.8 L122.3,74.9 L122.5,73.7 L122.7,73.9 L123,73.8 L123.2,73.9 L123.4,73.8 L123.5,73.7 L123.7,73.6 L124,74.1 L124.2,74.1 L124.4,74.3 L124.6,74.4 L124.8,75.5 L125,76.1 L125,76.6 L125.1,75.8 L125.1,76.5 L125.2,76.9 L125.2,77.2 L125.3,78.3 L125.3,78.7 L125.4,78.8 L125.4,79 L125.5,80.3 L125.5,80.7 L125.6,81.1 L125.6,81 L125.7,82 L125.7,82.4 L125.8,82.5 L125.8,82.8 L125.8,82.6 L125.9,83.6 L125.9,83.6 L126,84.6 L126,84.7 L126.1,84.9 L126.1,85.5 L126.2,86 L126.3,86 L126.4,86.5 L126.5,87.2 L126.6,87.4 L126.7,87.1 L126.9,87.4 L127,87.5 L127.1,87.7 L127.2,88.3 L127.3,88.8 L127.4,89.2 L127.5,89.1 L127.6,90.2 L127.7,91.1 L127.7,91.3 L127.8,91.8 L127.8,93 L127.8,92.4 L127.8,92.2 L127.8,93.2 L127.9,93.3 L127.9,94.5 L127.9,94.4 L127.9,94.7 L128,95.7 L128,96.5 L128,96.9 L128,97.4 L128,97.7 L128,97.9 L128.1,98.4 L128.1,99.5 L128.1,100.1 L128.1,100.4 L128.1,100.9 L128.2,101.7 L128.2,102.5 L128.2,102.6 L128.2,102.9 L128.2,103.4 L128.2,104.9 L128.3,105 L128.3,105.6 L128.3,105 L128.3,105.8 L128.3,105.6 L128.3,105.7 L128.4,106.2 L128.4,106.8 L128.4,107.4 L128.4,107.9 L128.4,108.3 L128.5,108.3 L128.5,109.7 L128.5,109.6 L128.5,109.8 L128.6,110.5 L128.6,110.5 L128.6,110.3 L128.6,110.2 L128.7,110.7 L128.7,109.7 L128.8,109 L128.8,109 L128.9,107.9 L128.9,107.7 L129,108.1 L129,107.5 L129,107.1 L129.1,106.9 L129.1,105.8 L129.2,105.5 L129.2,104.6 L129.3,103.7 L129.3,103.3 L129.4,102.9 L129.4,102.3 L129.5,101.5 L129.5,101.6 L129.6,101.5 L129.6,101 L129.7,100.2 L129.7,99.2 L129.8,98.7 L129.8,98.1 L129.9,98.3 L130.2,98 L130.6,98.4 L130.9,98.4 L131.3,97.7 L131.4,97.5 L131.5,97.2 L131.6,97.1 L131.7,97.2 L131.8,96.2 L131.9,96.6 L132,94.8 L132.1,93.8 L132.2,93.1 L132.3,92.7 L132.4,92.7 L132.5,93.3 L132.6,92.4 L132.7,92.4 L132.8,91.6 L132.9,91.2 L133,90.4 L133.1,91.1 L133.3,90.3 L133.4,89.3 L133.6,89.8 L133.8,88.9 L134,88.3 L134.2,87.6 L134.4,86.7 L134.6,85.8 L134.8,85.8 L135,86.5 L135.1,86.3 L135.3,86 L135.4,86.5 L135.6,86 L135.7,86.8 L135.9,86.8 L136,86.6 L136.1,87.3 L136.3,87.8 L136.4,88 L136.5,88.5 L136.6,89.4 L136.8,90.3 L136.9,90.2 L137,89.6 L137.1,91.6 L137.1,91.6 L137.2,91.8 L137.2,92.3 L137.3,92.4 L137.3,93.3 L137.4,92.9 L137.4,93.4 L137.4,93.3 L137.5,94.6 L137.5,94.8 L137.5,95.6 L137.6,96.4 L137.6,95.9 L137.6,96.3 L137.7,97 L137.7,97.4 L137.7,97.7 L137.8,98.5 L137.8,99.1 L137.8,99.1 L137.9,99.4 L137.9,100.2 L137.9,100.6 L138,101 L138,100.9 L138,102.2 L138.1,102.4 L138.1,102.8 L138.1,103.2 L138.2,103.6 L138.2,104.1 L138.2,104.1 L138.3,104.8 L138.3,105.7 L138.3,106.1 L138.3,106.7 L138.4,107.1 L138.4,107.4 L138.4,108.5 L138.5,108.4 L138.5,109 L138.5,109.8 L138.5,110.2 L138.6,110.1 L138.6,110.3 L138.6,111.7 L138.6,111.7 L138.7,112.3 L138.7,113.2 L138.7,113.6 L138.8,113.4 L138.8,113.4 L138.8,114.3 L138.8,114.8 L138.9,115.5 L138.9,116.2 L138.9,116.7 L139,116.6 L139,116.5 L139,117.7 L139,117.9 L139.1,117.8 L139.1,117.5 L139.1,118.5 L139.2,118.4 L139.2,118.4 L139.2,119.2 L139.3,119.5 L139.3,119.7 L139.3,119.1 L139.4,118 L139.4,118.1 L139.4,118.4 L139.5,118.3 L139.5,118.8 L139.5,118.7 L139.6,117.9 L139.6,118 L139.7,117.5 L139.7,117 L139.7,117.2 L139.8,115.9 L139.8,116.1 L139.8,116.1 L139.9,114.5 L139.9,114.2 L140,113.8 L140,112.9 L140,112.5 L140.1,111.9 L140.1,111.6 L140.2,111 L140.2,109.8 L140.2,110.2 L140.3,110.1 L140.3,109.1 L140.4,109 L140.4,109.2 L140.5,107.6 L140.5,106.9 L140.5,106.3 L140.6,106.2 L140.6,105.6 L140.7,104.6 L140.7,105 L140.8,104.4 L140.8,104.3 L140.8,104.7 L140.9,103.4 L140.9,102.7 L141,102.6 L141.1,101.9 L141.1,101.5 L141.2,100.9 L141.2,101.5 L141.3,100.7 L141.3,99.9 L141.4,99.2 L141.4,98.6 L141.5,97.3 L141.5,96.9 L141.6,96.9 L141.7,95.9 L141.7,95.6 L141.8,95.2 L141.8,94.6 L141.9,95.4 L141.9,94.8 L142,94.2 L142,93.2 L142.1,92.9 L142.1,92.4 L142.2,92.1 L142.3,91.9 L142.3,92.7 L142.4,92.5 L142.4,92.4 L142.5,92.2 L142.5,92.6 L142.6,91.3 L142.6,90.3 L142.7,90.3 L142.8,90.3 L142.9,90.4 L143,90.2 L143.1,90.9 L143.1,91.9 L143.2,92 L143.3,92.2 L143.4,93.1 L143.5,93.3 L143.5,93.6 L143.6,94.4 L143.7,94 L143.8,95.9 L143.9,96.3 L144,97.1 L144.1,97.4 L144.1,97.8 L144.2,97.4 L144.2,98.7 L144.3,99.1 L144.3,99.4 L144.4,101 L144.4,100.2 L144.5,100.8 L144.5,101 L144.6,100.8 L144.6,102.3 L144.7,101.9 L144.8,102.6 L144.8,103.1 L144.9,103.7 L144.9,103.8 L145,105 L145,105.4 L145.1,105.2 L145.2,105.3 L145.2,106.1 L145.3,106.2 L145.3,107 L145.4,107.6 L145.5,107.7 L145.5,107.3 L145.6,107.5 L145.6,108.4 L145.7,108.6 L145.7,109.8 L145.8,109.6 L146.1,110 L146.4,109.5 L146.8,108.3 L147.1,107.4 L147.4,107.4 L147.7,108 L147.7,108.2 L147.8,108.1 L147.8,109.2 L147.8,109.2 L147.9,109.6 L147.9,108.4 L147.9,108.9 L148,109.1 L148,109.9 L148,110.3 L148.1,110.5 L148.1,111.2 L148.1,112.2 L148.2,113.1 L148.2,113.1 L148.2,114 L148.3,114 L148.3,114.8 L148.3,114.8 L148.4,115.9 L148.4,117.3 L148.4,117.2 L148.5,118 L148.5,117.6 L148.5,117.9 L148.6,119.7 L148.6,119.8 L148.6,120.4 L148.7,120 L148.7,120.7 L148.7,121 L148.8,122.3 L148.8,122.4 L148.8,124 L148.9,123.6 L148.9,124.2 L148.9,123.7 L149,124.3 L149,125.5 L149,125.8 L149.1,125.7 L149.1,126.5 L149.1,127.3 L149.2,127.7 L149.2,128.2 L149.2,127.7 L149.3,128.8 L149.3,129.1 L149.3,128.2 L149.4,129.4 L149.4,129.1 L149.4,129.5 L149.5,128.6 L149.5,128.8 L149.6,128.4 L149.6,129.2 L149.7,129.2 L149.7,128.8 L149.8,128.8 L149.8,129.3 L149.8,128.6 L149.9,128.7 L149.9,127.8 L150,127 L150.1,126.8 L150.1,126.6 L150.2,126.5 L150.2,126.5 L150.2,125.7 L150.3,125.1 L150.3,125 L150.4,124.5 L150.5,123.8 L150.5,123.3 L150.6,121.7 L150.6,121.3 L150.7,120.3 L150.7,120.1 L150.8,120.2 L150.8,119 L150.9,119.1 L150.9,118.3 L151,117.8 L151,117.2 L151.1,117.2 L151.1,116.3 L151.2,115.1 L151.2,115.3 L151.2,115 L151.3,115 L151.4,114.7 L151.4,113.6 L151.5,113.4 L151.6,113 L151.6,112.5 L151.7,112.1 L151.8,111.8 L151.8,111 L151.9,110.6 L152,110.6 L152,109.5 L152.1,109.2 L152.2,108.4 L152.2,107.8 L152.3,107.5 L152.4,107.5 L152.4,107.8 L152.5,107.1 L152.6,107 L152.6,106.7 L152.7,106.1 L152.8,104.3 L152.8,104.6 L152.9,104.6 L153,104 L153,104 L153.1,104.5 L153.3,103 L153.6,102.3 L153.8,102.5 L154.1,101.3 L154.3,100.9 L154.6,101.2 L154.8,101.5 L155,101.6 L155.2,101.3 L155.5,101.7 L155.7,101 L155.9,99.8 L156.1,99.4 L156.3,99.3 L156.5,98.9 L156.6,97.6 L156.7,97.7 L156.8,96.9 L156.9,96.6 L156.9,96.8 L157,96 L157.1,95.1 L157.2,94.6 L157.3,93.9 L157.4,94.5 L157.4,94.2 L157.5,94 L157.6,93.2 L157.7,92.9 L157.8,93.2 L157.8,92.4 L157.9,93.4 L158,93.2 L158.1,93.8 L158.1,94.4 L158.2,94.4 L158.3,95.1 L158.4,95.9 L158.4,97 L158.5,97.3 L158.6,98.2 L158.7,98.4 L158.7,98.5 L158.8,99.3 L158.9,99.4 L158.9,100 L159,100.7 L159,101.4 L159.1,101.6 L159.1,101.1 L159.2,102.2 L159.2,102.6 L159.2,102.7 L159.3,102.8 L159.3,103.7 L159.3,104.3 L159.4,105 L159.4,105.2 L159.4,106.3 L159.5,106.3 L159.5,106.9 L159.5,107.3 L159.6,108.1 L159.6,108 L159.6,108.4 L159.7,108.8 L159.7,109 L159.7,109.3 L159.8,109.5 L159.8,110.5 L159.8,111.6 L159.9,111.3 L159.9,112 L159.9,111.8 L160,111.9 L160,112.1 L160.1,112.7 L160.1,113.2 L160.5,112.8 L161,111.6 L161.4,111.6 L161.8,112.2 L162.2,114.2 L162.6,113.4 L162.7,112.7 L162.7,113.2 L162.8,111.2 L162.8,110.4 L162.9,112.2 L163,111.2 L163,110.9 L163.1,110.3 L163.1,109.4 L163.2,109.1 L163.3,108.1 L163.3,108.5 L163.4,108.5 L163.4,108.2 L163.5,106.9 L163.6,105.5 L163.6,105.3 L163.7,104.7 L163.8,105 L163.8,103.9 L163.9,103.5 L164,103.6 L164,103.7 L164.1,103.3 L164.2,102.2 L164.2,101.7 L164.3,102.7 L164.4,102.5 L164.4,101.2 L164.5,101.8 L164.6,100.9 L164.7,100.3 L164.8,99.3 L164.8,99.9 L164.9,99.3 L165,98.8 L165.1,97.7 L165.3,96.7 L165.4,96.8 L165.6,96.5 L165.7,97 L165.9,95.8 L166,95.3 L166.2,95.6 L166.3,95.5 L166.5,94.5 L166.6,95 L166.8,94.7 L167.2,94.5 L167.5,94.1 L167.9,94.3 L168.2,93.6 L168.6,93.1 L168.8,93.4 L169.1,92.9 L169.3,92.4 L169.5,92.3 L169.8,91.6 L170,91.2 L170.2,89.6 L170.4,89.6 L170.6,90.6 L170.7,90.5 L170.9,91 L171,91.9 L171.1,92.5 L171.3,93.6 L171.4,94.1 L171.5,94.1 L171.7,94.7 L171.8,94 L172,93.3 L172.1,93.2 L172.2,93 L172.4,92.3 L172.5,91.1 L172.7,90.4 L172.8,90.3 L172.9,90.3 L173.1,90.8 L173.2,90 L173.5,89.7 L173.8,89 L174.1,90.8 L174.3,91.8 L174.6,91.6 L174.7,90.9 L174.8,89.2 L175,89.9 L175.1,89.1 L175.2,89.7 L175.3,89.3 L175.4,89.2 L175.5,88.1 L175.7,88.1 L175.8,86.7 L175.9,87.4 L176,87.2 L176.2,86.6 L176.3,87 L176.5,87.1 L176.6,88.1 L176.8,88.4 L176.9,88.5 L177.1,89.3 L177.2,89.9 L177.4,90.6 L177.6,91.4 L177.8,92.3 L178,92.5 L178.2,93.4 L178.4,91.9 L178.6,92.7 L178.7,93.7 L178.8,93.2 L178.8,93.7 L178.9,94.3 L179,93.9 L179,94.3 L179.1,95.4 L179.1,95.7 L179.2,97.1 L179.3,98.6 L179.3,98.3 L179.4,97.8 L179.5,98.5 L179.5,98.5 L179.6,98.3 L179.6,98.8 L179.7,99.2 L179.7,99.7 L179.8,100.8 L179.8,101.7 L179.9,102 L179.9,101.9 L179.9,102.5 L180,102.7 L180,103.2 L180.1,103 L180.1,101.9 L180.2,103.7 L180.2,104 L180.3,104.5 L180.3,105.2 L180.4,105.7 L180.4,106.1 L180.5,107.5 L180.5,107.7 L180.6,108.1 L180.6,107.9 L180.7,108.4 L180.7,109.2 L180.8,109.5 L180.8,110.1 L180.9,109.9 L180.9,110.7 L181,110.5 L181,111 L181.1,111.2 L181.1,112.1 L181.2,113.2 L181.2,113.6 L181.3,113.4 L181.3,114.1 L181.3,115.1 L181.4,115.7 L181.4,116.1 L181.5,115.7 L181.5,115.9 L181.6,116.2 L181.6,116.6 L181.7,117.5 L181.7,118 L181.8,118.3 L181.8,119.1 L181.9,119 L181.9,119.4 L181.9,120 L182,119.7 L182,120 L182.1,120 L182.1,120.3 L182.2,121.1 L182.2,121.7 L182.3,122.8 L182.4,123.6 L182.4,123.6 L182.5,125.5 L182.6,126.5 L182.7,125.9 L182.7,126.1 L182.8,126.5 L182.9,127.3 L182.9,128.1 L183,128.3 L183.1,127.1 L183.2,129.3 L183.2,129.5 L183.3,129.4 L183.3,128.5 L183.4,128.4 L183.4,128.6 L183.5,127.9 L183.5,128.2 L183.6,127.6 L183.6,128 L183.7,127.1 L183.7,127.2 L183.8,125.4 L183.8,125.9 L183.9,125.3 L183.9,124.4 L183.9,124.4 L184,123.4 L184,123.3 L184.1,123 L184.1,122.7 L184.2,122.9 L184.2,122.3 L184.3,122.4 L184.3,121.2 L184.4,120.1 L184.4,119.3 L184.4,118.6 L184.5,117.4 L184.5,117.3 L184.5,116.4 L184.6,116.2 L184.6,115.9 L184.6,115.4 L184.7,114.6 L184.7,114.7 L184.7,114.4 L184.8,114.9 L184.8,114.5 L184.8,114.3 L184.9,113.2 L184.9,112.5 L184.9,111.4 L185,110.9 L185,111.2 L185,110.7 L185.1,110.3 L185.1,109.6 L185.1,110.2 L185.2,109.5 L185.2,109.6 L185.2,108.8 L185.3,108.7 L185.3,107.5 L185.4,106.4 L185.4,107 L185.4,106.4 L185.5,106.2 L185.5,106.3 L185.6,106 L185.6,105.3 L185.7,104 L185.7,103.3 L185.8,103.1 L185.8,103.2 L185.9,102.9 L186,102.5 L186,101.5 L186.1,101.1 L186.1,101.3 L186.2,100.2 L186.3,99.6 L186.3,99.9 L186.4,100.3 L186.4,99.7 L186.5,99 L186.6,97.9 L186.6,97.6 L186.7,96.9 L186.7,96.9 L186.8,97.1 L186.9,96.7 L187,96.7 L187.1,95.3 L187.1,94.2 L187.2,94.8 L187.3,94.8 L187.4,93.5 L187.5,93.3 L187.6,92.3 L187.6,92.2 L187.7,92.2 L187.8,92.4 L187.9,91.4 L188,90.5 L188.2,90.5 L188.4,89.7 L188.6,89.9 L188.9,88.4 L189.1,87.9 L189.3,86.6 L189.5,88.2 L189.6,89.3 L189.6,89.4 L189.7,89.2 L189.7,88.3 L189.8,88.2 L189.8,88.8 L189.8,90.5 L189.9,91.1 L189.9,90.7 L190,91.2 L190,91.7 L190.1,92.2 L190.1,91.8 L190.2,92.1 L190.2,93.2 L190.3,93.9 L190.3,93.9 L190.3,95.7 L190.4,95.8 L190.4,95.7 L190.5,96.6 L190.5,97.4 L190.5,97.6 L190.6,99.1 L190.6,99.8 L190.6,99.6 L190.6,100 L190.6,100.3 L190.7,100.1 L190.7,100.8 L190.7,100.6 L190.7,100.9 L190.7,101.7 L190.7,101.3 L190.7,101.7 L190.7,101.9 L190.8,103 L190.8,103.2 L190.8,104.8 L190.8,105.7 L190.8,105.3 L190.8,105.7 L190.8,105.9 L190.8,106.4 L190.8,107.2 L190.9,108.4 L190.9,109.6 L190.9,110.4 L190.9,109.3 L190.9,109.4 L190.9,109.9 L190.9,110.3 L190.9,111 L190.9,111.9 L190.9,112 L191,112.2 L191,114.2 L191,114.6 L191,115.8 L191,115.2 L191,116.2 L191,117.1 L191,117.6 L191,117 L191,117.6 L191.1,117.4 L191.1,117.3 L191.1,118 L191.1,118.9 L191.1,119.1 L191.1,119.5 L191.1,120.3 L191.1,120.2 L191.1,120.9 L191.1,121.6 L191.2,122.1 L191.2,122.4 L191.2,121.9 L191.2,122.1 L191.2,122.2 L191.2,123 L191.2,122.2 L191.2,122.9 L191.3,122.4 L191.3,123.4 L191.3,123.4 L191.3,123.7 L191.3,124.4 L191.3,125.3 L191.3,124.3 L191.4,124.3 L191.4,123.2 L191.4,123.4 L191.4,123.2 L191.5,123.7 L191.5,123.5 L191.5,123.3 L191.5,122.4 L191.5,122.1 L191.6,121.4 L191.6,121.4 L191.6,120.3 L191.6,120.5 L191.7,120.8 L191.7,121.6 L191.7,121.2 L191.7,120.6 L191.8,119.7 L191.8,119.4 L191.8,118.1 L191.8,117.4 L191.9,115.5 L191.9,114.9 L191.9,115.2 L191.9,113.6 L192,113.5 L192,113 L192,112.3 L192.1,112.1 L192.1,111.5 L192.1,110.4 L192.1,110.1 L192.2,108.8 L192.2,109.7 L192.2,109.2 L192.2,109.3 L192.3,108.2 L192.3,108.9 L192.3,108.6 L192.4,107.9 L192.4,107.3 L192.4,106.8 L192.4,105.7 L192.5,105.3 L192.5,104.8 L192.5,104.6 L192.6,104.9 L192.6,104.7 L192.6,103.9 L192.6,103.4 L192.7,102.5 L192.7,101.6 L192.7,100.4 L192.8,99.6 L192.8,99.1 L192.8,99.2 L192.9,98.9 L192.9,99 L192.9,99.1 L192.9,98.8 L193,98 L193,97.1 L193,96.6 L193.1,96.6 L193.1,95.6 L193.1,94.5 L193.2,94.5 L193.2,95 L193.2,95.1 L193.2,94.8 L193.3,93.1 L193.3,92.9 L193.3,93.1 L193.4,93.3 L193.4,93.7 L193.4,92.3 L193.4,92.1 L193.5,90.9 L193.5,90.8 L193.7,89.6 L193.8,89.3 L194,88.8 L194.1,87.5 L194.3,87.7 L194.4,88.3 L194.6,89.3 L194.7,88.8 L194.8,88.5 L194.8,88.7 L194.9,89.9 L195,90 L195.1,90.5 L195.2,91.2 L195.2,91.1 L195.3,92.3 L195.4,91.8 L195.5,93.5 L195.6,93.4 L195.7,93.4 L195.7,93.6 L195.8,93.7 L195.9,94 L196,94.6 L196.2,95 L196.3,96.1 L196.4,97.2 L196.6,97.5 L196.7,98.2 L196.8,98.1 L197,98.5 L197.1,98.3 L197.2,97.7 L197.3,97.9 L197.3,97.6 L197.4,97 L197.5,96.7 L197.6,96.6 L197.6,95.4 L197.7,94.8 L197.8,94.8 L197.9,94.3 L198,94.1 L198.1,94.7 L198.2,92.9 L198.2,92.6 L198.3,91.9 L198.4,92.4 L198.5,92.1 L198.6,91 L198.7,91.7 L198.8,91.7 L199,91.8 L199.1,92.2 L199.2,92.9 L199.4,92.9 L199.5,93.5 L199.6,95 L199.8,94.9 L199.9,95.2 L200,96.3 L200.2,96.1 L200.3,96.4 L200.4,96.8 L200.5,96.2 L200.6,96.1 L200.7,95.5 L200.8,95.3 L200.9,95.2 L201,94.8 L201.1,94.4 L201.2,94 L201.3,93.7 L201.4,92.4 L201.5,92.1 L201.6,92.6 L201.7,91.8 L201.8,91.3 L202.1,91.2 L202.3,90.9 L202.6,91.9 L202.8,92.4 L203.1,93 L203.2,93.7 L203.3,94.6 L203.4,93.8 L203.5,94.1 L203.6,94.6 L203.7,94.4 L203.7,95.7 L203.8,97.4 L203.9,97.8 L204,98.4 L204.1,97.2 L204.2,97.5 L204.3,97.4 L204.4,98.5 L204.7,99 L204.9,99.2 L205.2,99.7 L205.5,100.3 L205.8,101.6 L205.9,102.1 L206,102.3 L206.1,101.2 L206.3,102.4 L206.4,102.6 L206.5,102.1 L206.6,102.9 L206.8,103.4 L206.9,103.9 L207,105 L207.1,104.5 L207.2,105.5 L207.4,106.6 L207.5,106 L207.6,107.2 L207.7,106.8 L208.1,107.1 L208.4,108.2 L208.8,108.1 L209.1,106.8 L209.2,106.6 L209.3,107.1 L209.4,106.5 L209.6,106 L209.7,105.7 L209.8,105.4 L209.9,104.6 L210,103.8 L210.1,103.8 L210.3,104.1 L210.4,102 L210.5,102.4 L210.7,102.7 L210.8,101.6 L211,102.1 L211.1,100.7 L211.3,101 L211.4,101.4 L211.6,101.3 L211.7,98.9 L211.9,98.9 L212,98.2 L212.2,98.4 L212.4,98.8 L212.6,98.3 L212.9,98.4 L213.1,96.6 L213.3,95.9 L213.5,95.5 L213.8,96 L214,96.6 L214.2,95.9 L214.4,95.8 L214.7,96.9 L214.9,96.6 L215.1,97.7 L215.3,97.7 L215.6,98.2 L215.8,99.6 L216,98.9 L216.2,98.4 L216.5,97.4 L216.7,97.3 L216.9,97.6 L217.1,97.1 L217.4,95.7 L217.6,96 L217.8,96.9 L218,96.2 L218.2,96.4 L218.4,96.4 L218.6,96.7 L218.8,96.9 L219,97.1 L219.2,98.3 L219.4,98.9 L219.5,98.2 L219.7,98.7 L219.8,99.5 L220,99.9 L220.1,101 L220.1,101.5 L220.2,102.2" fill="none" stroke="#f24c54" stroke-width="1.0" stroke-linejoin="round" />
<rect x="101" y="56.4" width="12.2" height="112.6" fill="#c2d7ee" stroke="none" stroke-width="1" opacity="0.5"/>
<rect x="136.1" y="56.4" width="6.6" height="112.6" fill="#eeb0b8" stroke="none" stroke-width="1" opacity="0.5"/>
<rect x="143.9" y="56.4" width="9.2" height="112.6" fill="#bcecc8" stroke="none" stroke-width="1" opacity="0.5"/>
<rect x="189.9" y="56.4" width="4.8" height="112.6" fill="#dcb88a" stroke="none" stroke-width="1" opacity="0.5"/>
<line x1="24.2" y1="35.6" x2="24.2" y2="186.3" stroke="#1a1a1a" stroke-width="1.3" />
<line x1="220.5" y1="35.6" x2="220.5" y2="186.3" stroke="#1a1a1a" stroke-width="1.3" />
<line x1="23.6" y1="35.6" x2="71.7" y2="35.6" stroke="#1a1a1a" stroke-width="1.3" />
<line x1="74.7" y1="35.6" x2="221.1" y2="35.6" stroke="#1a1a1a" stroke-width="1.3" />
<line x1="23.6" y1="186.3" x2="71.7" y2="186.3" stroke="#1a1a1a" stroke-width="1.3" />
<line x1="74.7" y1="186.3" x2="221.1" y2="186.3" stroke="#1a1a1a" stroke-width="1.3" />
<line x1="69.7" y1="37.6" x2="72.7" y2="33.6" stroke="#1a1a1a" stroke-width="1" />
<line x1="73.7" y1="37.6" x2="76.7" y2="33.6" stroke="#1a1a1a" stroke-width="1" />
<line x1="69.7" y1="188.3" x2="72.7" y2="184.3" stroke="#1a1a1a" stroke-width="1" />
<line x1="73.7" y1="188.3" x2="76.7" y2="184.3" stroke="#1a1a1a" stroke-width="1" />
<line x1="220.5" y1="99" x2="220.5" y2="185.6" stroke="#f24c54" stroke-width="1.2" />
<line x1="43" y1="186.3" x2="43" y2="184.3" stroke="#1a1a1a" stroke-width="1" />
<line x1="82.9" y1="186.3" x2="82.9" y2="184.3" stroke="#1a1a1a" stroke-width="1" />
<line x1="127" y1="186.3" x2="127" y2="184.3" stroke="#1a1a1a" stroke-width="1" />
<line x1="169.4" y1="186.3" x2="169.4" y2="184.3" stroke="#1a1a1a" stroke-width="1" />
<line x1="212.3" y1="186.3" x2="212.3" y2="184.3" stroke="#1a1a1a" stroke-width="1" />
<line x1="105" y1="186.3" x2="105" y2="185.1" stroke="#1a1a1a" stroke-width="1" />
<line x1="148.2" y1="186.3" x2="148.2" y2="185.1" stroke="#1a1a1a" stroke-width="1" />
<line x1="190.8" y1="186.3" x2="190.8" y2="185.1" stroke="#1a1a1a" stroke-width="1" />
<text x="42.6" y="196.7" font-size="9.7" text-anchor="middle" font-weight="bold" fill="#000" font-family="Liberation Serif" >3000</text>
<text x="83.5" y="196.7" font-size="9.7" text-anchor="middle" font-weight="bold" fill="#000" font-family="Liberation Serif" >2000</text>
<text x="127" y="196.7" font-size="9.7" text-anchor="middle" font-weight="bold" fill="#000" font-family="Liberation Serif" >1500</text>
<text x="169.4" y="196.7" font-size="9.7" text-anchor="middle" font-weight="bold" fill="#000" font-family="Liberation Serif" >1000</text>
<text x="212.3" y="196.7" font-size="9.7" text-anchor="middle" font-weight="bold" fill="#000" font-family="Liberation Serif" >500</text>
<text x="69.2" y="211.9" font-size="12.9" text-anchor="start" font-weight="bold" fill="#000" font-family="Liberation Serif" >Wavenumber</text>
<text x="146.3" y="211.9" font-size="10.8" font-weight="bold" font-family="Liberation Serif">(cm<tspan dy="-4.8" font-size="8">-1</tspan><tspan dy="4.8">)</tspan></text>
<text transform="translate(16.2,110.2) rotate(-90)" font-size="12.9" text-anchor="middle" font-weight="bold" fill="#000" font-family="Liberation Serif">Transmittance (%)</text>
<text x="54.2" y="55.1" font-size="8.6" text-anchor="middle" font-weight="bold" fill="#000" font-family="Liberation Serif" >-CH<tspan font-size="6" dy="1.5">2</tspan><tspan dy="-1.5">-</tspan></text>
<text x="95" y="50.9" font-size="8.6" text-anchor="middle" font-weight="bold" fill="#000" font-family="Liberation Serif" >-CO-O-CO-</text>
<text x="150.7" y="47.9" font-size="8.6" text-anchor="middle" font-weight="bold" fill="#000" font-family="Liberation Serif" >Ar-O-Ar</text>
<text x="170" y="61" font-size="8.6" text-anchor="middle" font-weight="bold" fill="#000" font-family="Liberation Serif" >C-O-C</text>
<text x="107.8" y="180.5" font-size="8.6" text-anchor="middle" font-weight="bold" fill="#000" font-family="Liberation Serif" >C=O</text>
<text x="140.2" y="182" font-size="8.6" text-anchor="middle" font-weight="bold" fill="#000" font-family="Liberation Serif" >C-N</text>
<text x="192.8" y="182" font-size="8.6" text-anchor="middle" font-weight="bold" fill="#000" font-family="Liberation Serif" >C-N</text>
<line x1="107.3" y1="169" x2="107.3" y2="174.5" stroke="#f0424a" stroke-width="0.9" />
<line x1="107.3" y1="174.5" x2="108.4" y2="172.6" stroke="#f0424a" stroke-width="0.9" />
<line x1="107.3" y1="174.5" x2="106.2" y2="172.6" stroke="#f0424a" stroke-width="0.9" />
<line x1="139.4" y1="169" x2="139.4" y2="174.5" stroke="#f0424a" stroke-width="0.9" />
<line x1="139.4" y1="174.5" x2="140.5" y2="172.6" stroke="#f0424a" stroke-width="0.9" />
<line x1="139.4" y1="174.5" x2="138.3" y2="172.6" stroke="#f0424a" stroke-width="0.9" />
<line x1="192.3" y1="169" x2="192.3" y2="174.5" stroke="#f0424a" stroke-width="0.9" />
<line x1="192.3" y1="174.5" x2="193.4" y2="172.6" stroke="#f0424a" stroke-width="0.9" />
<line x1="192.3" y1="174.5" x2="191.2" y2="172.6" stroke="#f0424a" stroke-width="0.9" />
<line x1="150" y1="59" x2="150" y2="51.5" stroke="#f0424a" stroke-width="0.9" />
<line x1="150" y1="51.5" x2="148.9" y2="53.4" stroke="#f0424a" stroke-width="0.9" />
<line x1="150" y1="51.5" x2="151.1" y2="53.4" stroke="#f0424a" stroke-width="0.9" />
<line x1="96.8" y1="69" x2="92.8" y2="56" stroke="#f0424a" stroke-width="0.9" />
<line x1="92.8" y1="56" x2="92.3" y2="58.1" stroke="#f0424a" stroke-width="0.9" />
<line x1="92.8" y1="56" x2="94.4" y2="57.5" stroke="#f0424a" stroke-width="0.9" />
<line x1="160.8" y1="72.5" x2="166" y2="62.5" stroke="#f0424a" stroke-width="0.9" />
<line x1="166" y1="62.5" x2="164.1" y2="63.7" stroke="#f0424a" stroke-width="0.9" />
<line x1="166" y1="62.5" x2="166.1" y2="64.7" stroke="#f0424a" stroke-width="0.9" />
<line x1="29" y1="158.2" x2="43" y2="158.2" stroke="#f0424a" stroke-width="1.6" />
<text x="45.4" y="160.8" font-size="10.3" text-anchor="start" font-weight="bold" fill="#000" font-family="Liberation Serif" >TPEI</text>
<line x1="29" y1="170.3" x2="43" y2="170.3" stroke="#525252" stroke-width="1.6" />
<text x="45.4" y="173.3" font-size="10.3" text-anchor="start" font-weight="bold" fill="#000" font-family="Liberation Serif" >PEI</text>
<text x="237.2" y="24.5" font-size="35" text-anchor="start" font-weight="bold" fill="#000" font-family="Liberation Serif" >b</text>
<path d="M260.6,48.3 L261,48.3 L261.4,48.3 L261.8,48.3 L262.2,48.3 L262.7,48.3 L263.2,48.3 L263.7,48.3 L264.2,48.3 L264.8,48.3 L265.4,48.3 L266,48.3 L266.6,48.3 L267.3,48.3 L267.9,48.3 L268.6,48.4 L269.3,48.4 L270,48.4 L270.7,48.4 L271.4,48.4 L272.2,48.4 L272.9,48.4 L273.7,48.4 L274.5,48.4 L275.3,48.4 L276.1,48.4 L276.9,48.4 L277.7,48.4 L278.5,48.4 L279.3,48.4 L280.1,48.4 L280.9,48.4 L281.8,48.4 L282.6,48.4 L283.4,48.5 L284.2,48.5 L285.1,48.5 L285.9,48.5 L286.7,48.5 L287.5,48.5 L288.3,48.5 L289.1,48.5 L289.9,48.5 L290.7,48.5 L291.5,48.5 L292.3,48.5 L293.1,48.5 L293.8,48.5 L294.6,48.5 L295.3,48.6 L296,48.6 L296.7,48.6 L297.4,48.6 L298.1,48.6 L298.7,48.6 L299.4,48.6 L300,48.6 L300.8,48.6 L301.7,48.6 L302.5,48.6 L303.3,48.6 L304.1,48.6 L305,48.7 L305.8,48.7 L306.6,48.7 L307.4,48.7 L308.2,48.7 L309,48.7 L309.8,48.7 L310.6,48.7 L311.3,48.7 L312.1,48.7 L312.9,48.8 L313.6,48.8 L314.4,48.8 L315.1,48.8 L315.9,48.8 L316.6,48.8 L317.3,48.8 L318,48.8 L318.8,48.8 L319.5,48.9 L320.1,48.9 L320.8,48.9 L321.5,48.9 L322.2,48.9 L322.8,48.9 L323.5,48.9 L324.1,48.9 L324.7,49 L325.3,49 L325.9,49 L326.5,49 L327.1,49 L327.7,49 L328.2,49.1 L328.8,49.1 L329.3,49.1 L330.4,49.1 L331.4,49.2 L332.4,49.2 L333.3,49.3 L334.2,49.3 L335,49.4 L335.8,49.4 L336.5,49.5 L337.2,49.6 L337.9,49.6 L338.5,49.7 L339.2,49.7 L339.7,49.8 L340.3,49.9 L340.9,49.9 L341.5,50 L342,50.1 L342.6,50.1 L343.2,50.2 L344.1,50.3 L344.9,50.4 L345.7,50.5 L346.5,50.6 L347.2,50.7 L347.9,50.8 L348.5,50.9 L349.1,51.1 L349.8,51.2 L350.3,51.3 L350.9,51.5 L351.5,51.6 L352.3,51.8 L353.1,52.1 L353.8,52.4 L354.5,52.6 L355.2,52.9 L355.8,53.2 L356.4,53.6 L357,53.9 L357.7,54.3 L358.3,54.7 L359,55.2 L359.6,55.6 L360.1,56.1 L360.7,56.6 L361.2,57.2 L361.6,57.7 L362,58.3 L362.4,58.9 L362.7,59.5 L363,60.1 L363.3,60.8 L363.7,61.5 L364,62.2 L364.3,62.8 L364.6,63.4 L364.8,64.1 L365.1,64.8 L365.4,65.4 L365.7,66.1 L366,66.9 L366.2,67.6 L366.5,68.3 L366.8,69.1 L367,69.7 L367.3,70.4 L367.5,71.1 L367.7,71.8 L368,72.5 L368.2,73.2 L368.4,74 L368.7,74.7 L368.9,75.4 L369.1,76.1 L369.4,76.8 L369.6,77.4 L369.9,78.2 L370.1,78.9 L370.4,79.6 L370.6,80.3 L370.9,81 L371.1,81.7 L371.4,82.4 L371.7,83 L372,83.7 L372.3,84.3 L372.7,84.9 L373,85.5 L373.4,86.1 L373.8,86.7 L374.2,87.3 L374.7,87.8 L375.1,88.4 L375.6,88.9 L376,89.4 L376.5,89.9 L377,90.4 L377.6,90.9 L378.1,91.4 L378.7,91.8 L379.3,92.3 L379.9,92.7 L380.6,93.1 L381.3,93.5 L382,94 L382.5,94.3 L383.1,94.6 L383.6,95 L384.2,95.3 L384.8,95.6 L385.4,96 L386,96.3 L386.6,96.6 L387.3,97 L388,97.3 L388.8,97.6 L389.6,97.9 L390.4,98.2 L391,98.4 L391.5,98.6 L392.1,98.8 L392.8,98.9 L393.4,99.1 L394.1,99.3 L394.7,99.5 L395.4,99.6 L396.1,99.8 L396.8,100 L397.5,100.1 L398.2,100.3 L398.9,100.5 L399.7,100.6 L400.4,100.8 L401.2,100.9 L401.9,101.1 L402.7,101.2 L403.4,101.4 L404.2,101.5 L404.8,101.6 L405.5,101.7 L406.1,101.8 L406.8,101.9 L407.5,102.1 L408.2,102.2 L408.9,102.3 L409.6,102.4 L410.3,102.5 L411,102.6 L411.7,102.7 L412.4,102.8 L413.1,102.8 L413.8,102.9 L414.5,103 L415.2,103.1 L415.9,103.2 L416.7,103.3 L417.4,103.4 L418.1,103.4 L418.8,103.5 L419.5,103.6 L420.2,103.6 L420.9,103.7 L421.6,103.8 L422.4,103.8 L423.1,103.9 L423.9,103.9 L424.7,104 L425.4,104 L426.2,104.1 L427,104.1 L427.8,104.1 L428.6,104.2 L429.3,104.2 L430.1,104.2 L430.9,104.3 L431.6,104.3 L432.4,104.3 L433.1,104.3 L433.8,104.4 L434.5,104.4 L435.1,104.4 L435.7,104.4 L436.4,104.5 L436.9,104.5 L437.5,104.5 L438.6,104.5 L439.6,104.6 L440.6,104.6 L441.4,104.7 L442.3,104.7 L443,104.7 L443.7,104.7 L444.3,104.8 L444.8,104.8 L445.3,104.8 L445.7,104.8" fill="none" stroke="#525252" stroke-width="1.4" stroke-linejoin="round" />
<path d="M260.6,48.3 L261,48.3 L261.4,48.3 L261.8,48.3 L262.2,48.3 L262.7,48.3 L263.2,48.3 L263.7,48.3 L264.3,48.3 L264.9,48.3 L265.5,48.3 L266.1,48.3 L266.7,48.3 L267.4,48.3 L268,48.3 L268.7,48.4 L269.4,48.4 L270.2,48.4 L270.9,48.4 L271.6,48.4 L272.4,48.4 L273.2,48.4 L274,48.4 L274.7,48.4 L275.5,48.4 L276.4,48.4 L277.2,48.4 L278,48.4 L278.8,48.4 L279.6,48.4 L280.5,48.4 L281.3,48.4 L282.1,48.4 L283,48.4 L283.8,48.5 L284.6,48.5 L285.5,48.5 L286.3,48.5 L287.1,48.5 L287.9,48.5 L288.7,48.5 L289.5,48.5 L290.3,48.5 L291.1,48.5 L291.9,48.5 L292.6,48.5 L293.4,48.5 L294.1,48.5 L294.8,48.5 L295.6,48.6 L296.2,48.6 L296.9,48.6 L297.6,48.6 L298.2,48.6 L298.8,48.6 L299.4,48.6 L300,48.6 L300.9,48.6 L301.8,48.6 L302.7,48.6 L303.6,48.6 L304.5,48.6 L305.3,48.7 L306.1,48.7 L306.9,48.7 L307.7,48.7 L308.5,48.7 L309.3,48.7 L310.1,48.7 L310.8,48.7 L311.5,48.7 L312.3,48.7 L313,48.7 L313.7,48.7 L314.4,48.8 L315,48.8 L315.7,48.8 L316.3,48.8 L317,48.8 L317.6,48.8 L318.2,48.8 L318.8,48.9 L319.4,48.9 L320,48.9 L320.6,48.9 L321.1,48.9 L321.7,49 L322.2,49 L322.8,49 L323.3,49.1 L323.8,49.1 L324.9,49.2 L325.9,49.3 L326.9,49.4 L327.7,49.5 L328.5,49.6 L329.2,49.7 L329.9,49.8 L330.6,49.9 L331.2,50.1 L331.8,50.2 L332.4,50.4 L333,50.5 L333.6,50.7 L334.2,50.9 L334.8,51.1 L335.5,51.3 L336.2,51.6 L336.9,51.9 L337.6,52.2 L338.2,52.5 L338.9,52.8 L339.5,53.1 L340.1,53.4 L340.7,53.8 L341.3,54.1 L341.9,54.5 L342.6,54.8 L343.2,55.2 L343.8,55.6 L344.4,55.9 L345,56.3 L345.6,56.7 L346.2,57.1 L346.8,57.5 L347.4,57.9 L347.9,58.3 L348.5,58.7 L349.1,59.2 L349.7,59.6 L350.3,60 L350.9,60.4 L351.5,60.8 L352.1,61.2 L352.7,61.6 L353.3,62 L353.9,62.3 L354.5,62.7 L355.1,63.1 L355.7,63.5 L356.3,63.9 L356.9,64.2 L357.5,64.6 L358.1,65 L358.7,65.4 L359.2,65.9 L359.8,66.3 L360.3,66.8 L360.9,67.2 L361.4,67.7 L362,68.2 L362.5,68.7 L363,69.2 L363.6,69.7 L364.1,70.3 L364.6,70.8 L365,71.3 L365.5,71.8 L366,72.3 L366.4,72.7 L366.8,73.2 L367.4,73.9 L367.9,74.5 L368.4,75.1 L368.9,75.7 L369.3,76.3 L369.7,76.9 L370.1,77.5 L370.6,78.1 L371,78.8 L371.4,79.4 L371.8,80 L372.2,80.6 L372.6,81.2 L372.9,81.8 L373.3,82.5 L373.7,83.1 L374.1,83.8 L374.4,84.4 L374.8,85.1 L375.1,85.7 L375.4,86.4 L375.7,87 L376,87.7 L376.3,88.3 L376.6,89 L376.8,89.6 L377.1,90.3 L377.4,91 L377.6,91.8 L377.9,92.6 L378.1,93.2 L378.3,93.8 L378.5,94.4 L378.7,95.1 L378.9,95.7 L379.1,96.4 L379.3,97.1 L379.5,97.8 L379.7,98.5 L379.9,99.2 L380.1,100 L380.3,100.7 L380.5,101.5 L380.7,102.3 L380.9,102.9 L381,103.6 L381.2,104.2 L381.3,104.9 L381.5,105.6 L381.6,106.3 L381.8,107 L381.9,107.7 L382,108.5 L382.2,109.2 L382.3,109.9 L382.5,110.6 L382.6,111.4 L382.8,112.1 L382.9,112.8 L383.1,113.5 L383.2,114.1 L383.4,114.8 L383.6,115.5 L383.7,116.3 L383.9,117 L384.1,117.8 L384.3,118.5 L384.5,119.2 L384.6,120 L384.8,120.7 L385,121.4 L385.2,122.1 L385.4,122.8 L385.5,123.4 L385.7,124.1 L385.9,124.7 L386,125.3 L386.2,125.9 L386.5,126.8 L386.7,127.6 L386.9,128.3 L387.2,129 L387.4,129.7 L387.6,130.4 L387.8,131 L388.1,131.7 L388.3,132.3 L388.6,133 L388.9,133.7 L389.2,134.4 L389.5,135.2 L389.8,135.9 L390.1,136.6 L390.4,137.3 L390.7,138.1 L391,138.7 L391.3,139.4 L391.6,140 L392,140.7 L392.3,141.4 L392.7,142.1 L393,142.7 L393.4,143.3 L393.7,143.9 L394,144.5 L394.4,145 L394.9,145.7 L395.3,146.3 L395.8,147 L396.2,147.5 L396.7,148.1 L397.3,148.7 L397.8,149.2 L398.4,149.7 L399,150.2 L399.6,150.7 L400.2,151.1 L400.9,151.6 L401.5,152 L402.1,152.4 L402.8,152.7 L403.4,153.1 L404,153.4 L404.7,153.7 L405.3,153.9 L405.9,154.2 L406.6,154.5 L407.3,154.7 L407.9,154.9 L408.6,155.1 L409.3,155.2 L410,155.4 L410.6,155.6 L411.2,155.7 L411.8,155.8 L412.5,155.9 L413.3,156 L414.4,156.1 L414.9,156.1 L415.4,156.1 L416,156.2 L416.5,156.2 L417.1,156.2 L417.7,156.2 L418.3,156.2 L419,156.2 L419.7,156.2 L420.5,156.2 L421.3,156.2 L422.1,156.2 L423,156.2 L424,156.2 L425,156.2 L425.6,156.2 L426.2,156.2 L426.8,156.2 L427.5,156.2 L428.2,156.2 L429,156.2 L429.8,156.2 L430.6,156.2 L431.4,156.2 L432.2,156.2 L433,156.2 L433.9,156.2 L434.7,156.2 L435.6,156.2 L436.4,156.2 L437.3,156.1 L438.1,156.1 L438.9,156.1 L439.7,156.1 L440.5,156.1 L441.2,156.1 L441.9,156.1 L442.6,156.1 L443.2,156.1 L443.8,156.1 L444.4,156.1 L444.9,156.1 L445.3,156.1 L445.7,156.1" fill="none" stroke="#f0424a" stroke-width="1.4" stroke-linejoin="round" />
<path d="M260.6,172.3 L261,172.3 L261.4,172.2 L261.8,172.2 L262.2,172.5 L262.7,172.5 L263.2,172.3 L263.7,172.1 L264.3,172.5 L264.8,172.3 L265.4,172.5 L266,172.3 L266.6,172.1 L267.3,172.5 L267.9,172.2 L268.6,172.6 L269.3,172.2 L270,172.3 L270.7,172.1 L271.4,172.3 L272.2,172.5 L272.9,172.2 L273.7,172.2 L274.5,172.2 L275.3,172.2 L276.1,172.5 L276.9,172.3 L277.7,172.6 L278.5,172.6 L279.3,172.5 L280.1,172.7 L280.9,172.7 L281.8,172.4 L282.6,172.6 L283.4,172.6 L284.3,172.4 L285.1,172.7 L285.9,172.3 L286.7,172.6 L287.5,172.7 L288.4,172.6 L289.2,172.7 L290,172.6 L290.8,172.5 L291.5,172.4 L292.3,172.5 L293.1,172.5 L293.8,172.7 L294.6,172.8 L295.3,172.8 L296,172.5 L296.7,172.8 L297.4,172.8 L298.1,172.4 L298.7,172.6 L299.4,172.4 L300,172.4 L300.8,172.6 L301.7,172.7 L302.5,172.4 L303.3,172.5 L304.2,172.6 L305,172.6 L305.8,172.4 L306.7,172.4 L307.5,172.4 L308.3,172.5 L309.1,172.8 L309.9,172.4 L310.7,172.7 L311.5,172.7 L312.3,172.8 L313.1,172.7 L313.9,172.4 L314.6,172.5 L315.4,172.8 L316.2,172.7 L316.9,172.8 L317.6,172.3 L318.4,172.7 L319.1,172.5 L319.8,172.7 L320.4,172.6 L321.1,172.5 L321.8,172.5 L322.4,172.3 L323.1,172.7 L323.7,172.7 L324.3,172.6 L324.9,172.5 L325.5,172.6 L326,172.4 L326.6,172.3 L327.1,172.5 L327.6,172.6 L328.1,172.5 L328.6,172.5 L329,172.1 L330.6,172.1 L331.8,171.9 L332.7,171.9 L333.4,171.9 L333.9,171.6 L334.3,171.4 L334.6,171.1 L335,170.8 L335.4,170.6 L336,170.7 L336.7,170.5 L337.4,170 L338.1,169.8 L338.8,169.2 L339.6,168.8 L340.3,168.5 L341,168.2 L341.7,167.9 L342.3,168 L343,167.5 L343.7,167.1 L344.4,166.7 L345.1,166.4 L345.8,166.1 L346.4,165.9 L347.1,165.7 L347.7,165.3 L348.4,165.1 L349,165.1 L349.7,164.5 L350.4,164.3 L351.1,164.4 L351.8,163.9 L352.5,163.8 L353.2,163.5 L353.9,163.5 L354.6,163 L355.4,162.9 L356.1,163 L356.9,162.6 L357.7,162.7 L358.4,162.4 L359.2,162.2 L360,162.3 L360.7,162.2 L361.5,161.9 L362.3,162.1 L363.1,162 L363.9,162 L364.6,162.1 L365.3,162.1 L366,161.8 L366.8,161.6 L367.5,161.7 L368.1,161.5 L368.7,161.2 L369.4,161 L370,160.4 L370.5,160.2 L371,159.7 L371.5,159.4 L372,158.6 L372.5,157.9 L373,157.6 L373.5,156.8 L374,156.2 L374.3,155.6 L374.6,155 L374.9,154.2 L375.2,153.8 L375.5,153.1 L375.8,152.3 L376.1,151.5 L376.4,150.7 L376.7,150.1 L377,149.4 L377.2,148.7 L377.5,148.1 L377.7,147.6 L378,146.7 L378.2,146 L378.4,144.9 L378.6,144.5 L378.9,143.6 L379.1,143 L379.3,142 L379.5,141.4 L379.7,140.6 L379.9,140 L380.1,139.2 L380.3,138.7 L380.5,138.2 L380.8,137.1 L381.1,136.2 L381.4,135.5 L381.6,134.7 L381.9,134.3 L382.1,133.7 L382.3,133 L382.5,132.6 L383.1,131.1 L383.7,131.2 L384.2,131.3 L384.8,131.6 L385.5,132.8 L385.7,133.7 L385.9,134.2 L386.2,134.7 L386.4,135.3 L386.6,135.9 L386.9,136.8 L387.1,137.8 L387.4,138.4 L387.7,138.9 L388,139.9 L388.2,140.4 L388.4,141.4 L388.7,142.1 L388.9,142.8 L389.2,143.3 L389.4,144 L389.7,144.6 L389.9,145.4 L390.2,146.2 L390.5,146.9 L390.8,147.6 L391,148.5 L391.3,149.2 L391.6,149.5 L392,150.5 L392.3,150.9 L392.7,151.5 L393,152.4 L393.4,152.7 L393.8,153.3 L394.2,154.3 L394.6,154.6 L395,155.2 L395.5,156 L396,156.7 L396.4,157 L396.9,157.7 L397.4,157.9 L397.9,158.9 L398.4,159.2 L398.9,159.8 L399.5,160.2 L400,160.7 L400.5,161.4 L401.1,161.8 L401.6,162.6 L402.1,163.2 L402.6,163.3 L403,163.9 L403.7,164.4 L404.4,164.9 L405,165.4 L405.5,165.5 L406.1,166 L406.7,166 L407.3,166.5 L408,166.8 L408.6,167 L409.2,167.3 L409.8,168 L410.5,168.2 L411.2,168.5 L411.8,168.8 L412.5,169.3 L413.1,169.5 L413.8,169.6 L414.4,170.2 L415.1,170.5 L415.9,170.7 L416.5,170.9 L417.2,171.1 L417.9,171.2 L418.6,171.7 L419.3,171.7 L420,171.6 L420.6,172.1 L421.1,172 L421.5,172 L422,172.5 L422.6,172.2 L423.4,172.4 L424.4,172.3 L425.8,172.5 L426.3,172.5 L426.8,172.7 L427.4,172.8 L428.1,172.7 L428.8,172.6 L429.5,172.5 L430.2,172.8 L431,172.4 L431.9,172.5 L432.7,172.6 L433.5,172.5 L434.4,172.6 L435.2,172.4 L436.1,172.4 L437,172.3 L437.8,172.5 L438.7,172.4 L439.5,172.7 L440.3,172.4 L441.1,172.4 L441.8,172.6 L442.5,172.4 L443.2,172.7 L443.8,172.5 L444.3,172.3 L444.9,172.6 L445.3,172.7 L445.7,172.5" fill="none" stroke="#f0424a" stroke-width="1.4" stroke-linejoin="round" />
<path d="M260.6,172.2 L261,172.3 L261.4,172.3 L261.8,172.5 L262.2,172.5 L262.7,172.1 L263.1,172.2 L263.6,172.5 L264.2,172.3 L264.7,172.3 L265.3,172.3 L265.8,172.1 L266.4,172.1 L267,172.5 L267.7,172.3 L268.3,172.3 L269,172.4 L269.6,172.5 L270.3,172.5 L271,172.1 L271.7,172.4 L272.5,172.1 L273.2,172.4 L273.9,172.5 L274.7,172.3 L275.5,172.3 L276.2,172.5 L277,172.5 L277.8,172.6 L278.6,172.4 L279.4,172.3 L280.2,172.5 L281,172.4 L281.8,172.1 L282.6,172.2 L283.4,172.6 L284.3,172.4 L285.1,172.1 L285.9,172.5 L286.7,172.5 L287.6,172.2 L288.4,172.6 L289.2,172.2 L290,172.4 L290.8,172.5 L291.6,172.4 L292.4,172.3 L293.2,172.4 L294,172.5 L294.8,172.6 L295.6,172.6 L296.3,172.6 L297.1,172.6 L297.8,172.4 L298.6,172.3 L299.3,172.6 L300,172.6 L300.7,172.3 L301.4,172.5 L302.1,172.3 L302.9,172.2 L303.6,172.4 L304.3,172.6 L305.1,172.4 L305.8,172.6 L306.6,172.6 L307.3,172.6 L308.1,172.3 L308.9,172.6 L309.6,172.2 L310.4,172.4 L311.2,172.2 L312,172.3 L312.8,172.6 L313.5,172.6 L314.3,172.7 L315.1,172.4 L315.9,172.4 L316.7,172.2 L317.5,172.4 L318.2,172.6 L319,172.3 L319.8,172.6 L320.6,172.3 L321.3,172.6 L322.1,172.2 L322.9,172.6 L323.6,172.2 L324.4,172.2 L325.1,172.4 L325.8,172.5 L326.6,172.5 L327.3,172.3 L328,172.5 L328.7,172.2 L329.4,172.3 L330.1,172.3 L330.8,172.2 L331.5,172.1 L332.1,172.2 L332.8,172.4 L333.4,172.4 L334,172.3 L334.6,172.4 L335.2,172.3 L335.8,172.5 L336.4,172.1 L337,172.5 L337.5,172.5 L338,172.4 L338.6,172.4 L339.1,172.6 L339.5,172.1 L340,172.1 L341.4,172.3 L342.7,172.4 L343.9,172.3 L344.9,172.2 L345.8,172.2 L346.5,172.2 L347.2,172.3 L347.8,171.9 L348.4,172.2 L348.9,171.9 L349.3,172.2 L349.8,171.9 L350.2,172.1 L350.6,171.8 L351,171.8 L351.5,171.7 L352,171.8 L352.9,171.4 L353.8,171.2 L354.5,171 L355.2,170.6 L355.8,170.7 L356.4,170.1 L356.9,169.6 L357.5,169.2 L358,168.9 L358.4,168.5 L358.8,167.9 L359.2,167.5 L359.5,166.6 L359.9,166.3 L360.2,165.5 L360.5,164.6 L360.8,163.8 L361.1,163.3 L361.4,162.5 L361.7,161.8 L362,161.1 L362.2,160.3 L362.4,159.6 L362.6,159 L362.8,158.2 L363,157.7 L363.2,157 L363.4,156.1 L363.6,155.3 L363.8,154.9 L364,153.8 L364.2,153.5 L364.3,152.6 L364.5,151.8 L364.7,151 L364.8,150.8 L365,149.8 L365.2,149.3 L365.4,148.4 L365.6,147.7 L365.8,146.6 L366,146.2 L366.2,145.2 L366.4,144.7 L366.5,144.3 L366.7,143.5 L366.8,142.8 L367,142.4 L367.5,141.2 L367.9,140.8 L368.3,140.5 L368.8,140.4 L369.2,140.9 L369.8,141.9 L370,142.5 L370.2,143 L370.3,143.9 L370.5,144.3 L370.7,145.1 L370.9,146 L371.1,146.6 L371.4,147.4 L371.6,148.4 L371.8,149.4 L372,149.9 L372.2,150.6 L372.4,151.3 L372.6,152.1 L372.7,152.7 L372.9,153.6 L373.1,154.3 L373.3,154.8 L373.5,155.7 L373.7,156.6 L373.9,157 L374.1,157.9 L374.3,158.2 L374.5,159 L374.8,159.8 L375.1,160.8 L375.4,161.2 L375.7,161.9 L376,162.7 L376.3,163.6 L376.6,164 L377,164.7 L377.5,165.1 L377.9,165.8 L378.5,165.8 L379,166.6 L379.6,166.7 L380.3,167 L381,167.5 L381.6,167.7 L382.2,168.2 L382.8,168.4 L383.5,168.5 L384.2,168.4 L385,168.6 L385.7,168.9 L386.5,169 L387.2,169.1 L388,169.3 L388.7,169.4 L389.4,169.5 L390.1,169.6 L390.9,169.8 L391.6,170.2 L392.4,170.2 L393.1,170.2 L393.9,170.5 L394.6,170.5 L395.3,170.2 L396,170.3 L396.7,170.5 L397.3,170.7 L397.9,171.1 L398.4,170.7 L398.9,171.2 L399.5,171.3 L400.2,171.2 L401,171.5 L401.9,171.7 L403,171.4 L403.5,171.7 L404,171.7 L404.6,171.8 L405.2,171.6 L405.7,171.9 L406.3,171.6 L407,171.6 L407.6,171.8 L408.3,171.8 L408.9,171.9 L409.6,171.8 L410.3,172.2 L411.1,172 L411.8,172.1 L412.5,172 L413.3,172.3 L414.1,172 L414.9,172.4 L415.7,172 L416.5,172.4 L417.4,172.2 L418.2,172.3 L419.1,172.1 L420,172.5 L420.6,172.2 L421.2,172.5 L421.9,172.4 L422.6,172.6 L423.3,172.6 L424.1,172.5 L424.8,172.2 L425.6,172.6 L426.4,172.2 L427.2,172.6 L428,172.6 L428.9,172.3 L429.7,172.2 L430.6,172.6 L431.4,172.4 L432.2,172.6 L433.1,172.6 L433.9,172.7 L434.7,172.5 L435.6,172.7 L436.4,172.7 L437.2,172.7 L438,172.5 L438.7,172.7 L439.5,172.5 L440.2,172.8 L440.9,172.5 L441.5,172.6 L442.2,172.3 L442.8,172.4 L443.4,172.8 L443.9,172.6 L444.4,172.7 L444.9,172.6 L445.3,172.7 L445.7,172.6" fill="none" stroke="#525252" stroke-width="1.4" stroke-linejoin="round" />
<rect x="260.1" y="36.3" width="186.1" height="150.2" fill="none" stroke="#1a1a1a" stroke-width="1.3" />
<line x1="260.1" y1="186.5" x2="260.1" y2="185.3" stroke="#1a1a1a" stroke-width="1" />
<line x1="286.7" y1="186.5" x2="286.7" y2="184.5" stroke="#1a1a1a" stroke-width="1" />
<line x1="313.3" y1="186.5" x2="313.3" y2="185.3" stroke="#1a1a1a" stroke-width="1" />
<line x1="339.9" y1="186.5" x2="339.9" y2="184.5" stroke="#1a1a1a" stroke-width="1" />
<line x1="366.4" y1="186.5" x2="366.4" y2="185.3" stroke="#1a1a1a" stroke-width="1" />
<line x1="393" y1="186.5" x2="393" y2="184.5" stroke="#1a1a1a" stroke-width="1" />
<line x1="419.6" y1="186.5" x2="419.6" y2="185.3" stroke="#1a1a1a" stroke-width="1" />
<line x1="446.2" y1="186.5" x2="446.2" y2="184.5" stroke="#1a1a1a" stroke-width="1" />
<text x="286.7" y="196.6" font-size="9.6" text-anchor="middle" font-weight="bold" fill="#000" font-family="Liberation Serif" >200</text>
<text x="339.9" y="196.6" font-size="9.6" text-anchor="middle" font-weight="bold" fill="#000" font-family="Liberation Serif" >400</text>
<text x="393" y="196.6" font-size="9.6" text-anchor="middle" font-weight="bold" fill="#000" font-family="Liberation Serif" >600</text>
<text x="446.2" y="196.6" font-size="9.6" text-anchor="middle" font-weight="bold" fill="#000" font-family="Liberation Serif" >800</text>
<line x1="260.1" y1="186.5" x2="262.1" y2="186.5" stroke="#1a1a1a" stroke-width="1" />
<line x1="260.1" y1="175" x2="261.3" y2="175" stroke="#1a1a1a" stroke-width="1" />
<line x1="260.1" y1="163.5" x2="262.1" y2="163.5" stroke="#1a1a1a" stroke-width="1" />
<line x1="260.1" y1="152" x2="261.3" y2="152" stroke="#1a1a1a" stroke-width="1" />
<line x1="260.1" y1="140.5" x2="262.1" y2="140.5" stroke="#1a1a1a" stroke-width="1" />
<line x1="260.1" y1="129" x2="261.3" y2="129" stroke="#1a1a1a" stroke-width="1" />
<line x1="260.1" y1="117.5" x2="262.1" y2="117.5" stroke="#1a1a1a" stroke-width="1" />
<line x1="260.1" y1="106" x2="261.3" y2="106" stroke="#1a1a1a" stroke-width="1" />
<line x1="260.1" y1="94.5" x2="262.1" y2="94.5" stroke="#1a1a1a" stroke-width="1" />
<line x1="260.1" y1="83" x2="261.3" y2="83" stroke="#1a1a1a" stroke-width="1" />
<line x1="260.1" y1="71.5" x2="262.1" y2="71.5" stroke="#1a1a1a" stroke-width="1" />
<line x1="260.1" y1="60" x2="261.3" y2="60" stroke="#1a1a1a" stroke-width="1" />
<line x1="260.1" y1="48.5" x2="262.1" y2="48.5" stroke="#1a1a1a" stroke-width="1" />
<text x="257.6" y="189.9" font-size="9.8" text-anchor="end" font-weight="bold" fill="#000" font-family="Liberation Serif" >-20</text>
<text x="257.6" y="166.9" font-size="9.8" text-anchor="end" font-weight="bold" fill="#000" font-family="Liberation Serif" >0</text>
<text x="257.6" y="143.9" font-size="9.8" text-anchor="end" font-weight="bold" fill="#000" font-family="Liberation Serif" >20</text>
<text x="257.6" y="120.9" font-size="9.8" text-anchor="end" font-weight="bold" fill="#000" font-family="Liberation Serif" >40</text>
<text x="257.6" y="97.9" font-size="9.8" text-anchor="end" font-weight="bold" fill="#000" font-family="Liberation Serif" >60</text>
<text x="257.6" y="74.9" font-size="9.8" text-anchor="end" font-weight="bold" fill="#000" font-family="Liberation Serif" >80</text>
<text x="257.6" y="51.9" font-size="9.8" text-anchor="end" font-weight="bold" fill="#000" font-family="Liberation Serif" >100</text>
<text x="352.9" y="213.5" font-size="12.9" text-anchor="middle" font-weight="bold" fill="#000" font-family="Liberation Serif" >Temperature (°C)</text>
<text transform="translate(239.5,111.2) rotate(-90)" font-size="12.9" text-anchor="middle" font-weight="bold" fill="#000" font-family="Liberation Serif">Weight (%)</text>
<line x1="290.6" y1="58.5" x2="271.2" y2="58.5" stroke="#f06870" stroke-width="1.2" />
<line x1="271.2" y1="58.5" x2="277.2" y2="54" stroke="#f06870" stroke-width="1.2" />
<line x1="271.2" y1="58.5" x2="277.2" y2="63" stroke="#f06870" stroke-width="1.2" />
<line x1="418.7" y1="180.3" x2="439.5" y2="180.3" stroke="#f06870" stroke-width="1.2" />
<line x1="439.5" y1="180.3" x2="433.5" y2="175.8" stroke="#f06870" stroke-width="1.2" />
<line x1="439.5" y1="180.3" x2="433.5" y2="184.8" stroke="#f06870" stroke-width="1.2" />
<line x1="379.7" y1="54.8" x2="391" y2="54.8" stroke="#f0424a" stroke-width="1.5" />
<text x="393.9" y="57.8" font-size="8.8" text-anchor="start" font-weight="bold" fill="#000" font-family="Liberation Serif" >TPEI<tspan font-size="6.5" dy="2">u</tspan><tspan dy="-2"> (Air)</tspan></text>
<line x1="379.7" y1="66.4" x2="391" y2="66.4" stroke="#525252" stroke-width="1.5" />
<text x="393.9" y="69.4" font-size="8.8" text-anchor="start" font-weight="bold" fill="#000" font-family="Liberation Serif" >TPEI<tspan font-size="6.5" dy="2">u</tspan><tspan dy="-2"> (N</tspan><tspan font-size="6.5" dy="2">2</tspan><tspan dy="-2">)</tspan></text>
<rect x="288.6" y="77" width="72.3" height="56.9" fill="#fff" stroke="none" stroke-width="1" />
<path d="M288.6,96.6 L288.9,96.5 L289.2,96.7 L289.6,96.6 L290,96.6 L290.5,96.7 L291,97.1 L291.6,97 L292.1,97.2 L292.7,97.2 L293.3,97.5 L293.9,97.5 L294.4,97.8 L295,97.7 L295.5,97.9 L295.9,98.1 L296.4,98.1 L296.9,98.3 L297.3,98.2 L297.8,98.5 L298.3,98.5 L298.8,98.8 L299.3,98.8 L299.8,98.8 L300.4,99 L300.9,99 L301.4,99.2 L301.9,99.4 L302.5,99.4 L303,99.5 L303.5,99.8 L304,99.8 L304.5,100.1 L305,100.1 L305.5,100.2 L306,100.6 L306.5,100.6 L307,100.7 L307.6,101.1 L308.1,101.2 L308.6,101.2 L309.1,101.5 L309.6,101.4 L310.1,101.8 L310.6,101.9 L311.1,101.9 L311.6,102.1 L312.1,102.1 L312.6,102.4 L313.1,102.4 L313.6,102.5 L314.1,102.6 L314.6,102.6 L315,102.6 L315.5,102.8 L316,103 L316.4,102.9 L316.9,102.9 L317.4,103.2 L317.9,103 L318.4,103.4 L318.9,103.2 L319.4,103.3 L320,103.6 L320.4,103.7 L320.9,103.7 L321.4,103.7 L321.8,103.8 L322.3,103.8 L322.8,104.2 L323.3,104.3 L323.8,104.3 L324.3,104.4 L324.8,104.6 L325.3,104.7 L325.8,104.8 L326.3,105 L326.8,104.9 L327.3,105.3 L327.8,105.3 L328.3,105.3 L328.8,105.5 L329.3,105.5 L329.8,105.7 L330.3,105.9 L330.8,106 L331.3,106.1 L331.9,106.2 L332.4,106.3 L332.9,106.3 L333.4,106.3 L333.9,106.7 L334.4,106.5 L334.9,106.7 L335.4,106.7 L335.9,107 L336.4,107.1 L336.9,107 L337.4,107.3 L337.9,107.3 L338.5,107.5 L339,107.7 L339.5,107.7 L340,107.7 L340.5,107.9 L341,108 L341.5,108 L342,108.3 L342.5,108.3 L343,108.4 L343.5,108.5 L343.9,108.7 L344.4,108.9 L344.9,108.8 L345.4,109 L345.9,109.1 L346.4,109.1 L346.9,109.3 L347.5,109.5 L348,109.6 L348.5,109.8 L349,109.8 L349.5,110 L350,110.1 L350.5,110.2 L351,110.3 L351.6,110.4 L352.1,110.5 L352.7,110.5 L353.3,110.6 L353.9,110.9 L354.5,110.8 L355.1,111 L355.6,111.2 L356.2,111.2 L356.8,111.4 L357.3,111.4 L357.8,111.6 L358.3,111.8 L358.8,111.6 L359.2,111.8 L359.6,112 L360,112 L360.3,112.2 L360.6,112.1" fill="none" stroke="#525252" stroke-width="0.8" stroke-linejoin="round" />
<path d="M288.6,96.3 L288.9,96.1 L289.3,96.1 L289.8,96.2 L290.4,95.9 L291,96.2 L291.6,95.8 L292.3,95.9 L293,96.1 L293.4,96 L293.9,95.7 L294.4,95.7 L294.9,96 L295.4,95.9 L296,95.7 L296.5,95.8 L297.1,96 L297.6,95.8 L298.2,95.9 L298.8,96.3 L299.3,96 L299.9,96.4 L300.4,96.1 L300.9,96.2 L301.4,96.3 L301.9,96.7 L302.3,96.7 L302.8,97 L303.3,97.1 L303.8,97.2 L304.4,97.1 L304.9,97.4 L305.4,97.3 L305.9,97.8 L306.5,97.7 L307,97.8 L307.6,98.1 L308.1,98.2 L308.6,98 L309.1,98 L309.6,98.2 L310.1,98.3 L310.6,98 L311.1,98.1 L311.6,98.4 L312.1,98.4 L312.7,98.4 L313.2,98.2 L313.7,98.1 L314.3,98.4 L314.8,98.1 L315.4,98.3 L315.9,98.2 L316.5,98.4 L317,98.2 L317.5,98.3 L318,98.5 L318.5,98.4 L319.1,98.5 L319.6,98.2 L320.2,98.2 L320.7,98.4 L321.3,98.3 L321.8,98.5 L322.4,98.3 L322.9,98.1 L323.5,98.3 L324,98.2 L324.5,98.5 L325,98.5 L325.5,98.5 L326,98.2 L326.5,98.4 L326.9,98.2 L327.3,98.6 L328,98.3 L328.6,98.6 L329.2,98.7 L329.7,98.5 L330.2,98.7 L330.7,98.6 L331.2,98.7 L331.6,98.9 L332.1,98.9 L332.5,99.1 L333,99.3 L333.6,99.5 L334.2,99.3 L334.7,99.5 L335.3,99.6 L335.8,99.6 L336.4,99.7 L336.9,99.8 L337.4,100.1 L337.9,100 L338.4,100.4 L339,100.2 L339.5,100.5 L339.9,100.6 L340.4,100.8 L340.9,101 L341.4,101.3 L342,101.7 L342.4,101.9 L342.9,102.2 L343.3,102.2 L343.8,102.4 L344.3,102.7 L344.8,103.1 L345.3,103.2 L345.7,103.7 L346.2,103.9 L346.6,103.9 L347,104.4 L347.5,104.7 L348,104.9 L348.5,105.3 L348.9,105.8 L349.3,106.2 L349.7,106.4 L350.1,106.6 L350.5,106.8 L350.9,107.3 L351.3,107.7 L351.7,108.2 L352,108.6 L352.4,109 L352.7,109.3 L353.1,110.1 L353.5,110.5 L353.8,110.8 L354.2,111.2 L354.5,111.4 L354.8,111.9 L355.2,112.2 L355.5,112.7 L355.8,113.2 L356.1,113.6 L356.5,114.2 L356.8,114.6 L357.1,115 L357.3,115.7 L357.6,116.2 L357.9,116.4 L358.1,116.8 L358.3,117.2 L358.5,117.7 L358.8,118.2 L359,118.7 L359.2,119.1 L359.5,119.8 L359.8,120.3 L360,121.2 L360.3,121.3 L360.5,121.8 L360.6,122.3" fill="none" stroke="#f0424a" stroke-width="0.8" stroke-linejoin="round" />
<rect x="288.6" y="77" width="72.3" height="56.9" fill="none" stroke="#555" stroke-width="1" />
<text x="288.6" y="139.6" font-size="6.2" text-anchor="middle" font-weight="bold" fill="#000" font-family="Liberation Serif" >280</text>
<line x1="288.6" y1="133.9" x2="288.6" y2="132.4" stroke="#555" stroke-width="0.7" />
<text x="303.1" y="139.6" font-size="6.2" text-anchor="middle" font-weight="bold" fill="#000" font-family="Liberation Serif" >300</text>
<line x1="303.1" y1="133.9" x2="303.1" y2="132.4" stroke="#555" stroke-width="0.7" />
<text x="317.5" y="139.6" font-size="6.2" text-anchor="middle" font-weight="bold" fill="#000" font-family="Liberation Serif" >320</text>
<line x1="317.5" y1="133.9" x2="317.5" y2="132.4" stroke="#555" stroke-width="0.7" />
<text x="332" y="139.6" font-size="6.2" text-anchor="middle" font-weight="bold" fill="#000" font-family="Liberation Serif" >340</text>
<line x1="332" y1="133.9" x2="332" y2="132.4" stroke="#555" stroke-width="0.7" />
<text x="346.4" y="139.6" font-size="6.2" text-anchor="middle" font-weight="bold" fill="#000" font-family="Liberation Serif" >360</text>
<line x1="346.4" y1="133.9" x2="346.4" y2="132.4" stroke="#555" stroke-width="0.7" />
<text x="360.9" y="139.6" font-size="6.2" text-anchor="middle" font-weight="bold" fill="#000" font-family="Liberation Serif" >380</text>
<line x1="360.9" y1="133.9" x2="360.9" y2="132.4" stroke="#555" stroke-width="0.7" />
<text x="287.4" y="80" font-size="6.2" text-anchor="end" font-weight="bold" fill="#000" font-family="Liberation Serif" >100.0</text>
<line x1="288.6" y1="77.8" x2="290.1" y2="77.8" stroke="#555" stroke-width="0.7" />
<text x="287.4" y="91.7" font-size="6.2" text-anchor="end" font-weight="bold" fill="#000" font-family="Liberation Serif" >99.5</text>
<line x1="288.6" y1="89.5" x2="290.1" y2="89.5" stroke="#555" stroke-width="0.7" />
<text x="287.4" y="103.4" font-size="6.2" text-anchor="end" font-weight="bold" fill="#000" font-family="Liberation Serif" >99.0</text>
<line x1="288.6" y1="101.2" x2="290.1" y2="101.2" stroke="#555" stroke-width="0.7" />
<text x="287.4" y="115.1" font-size="6.2" text-anchor="end" font-weight="bold" fill="#000" font-family="Liberation Serif" >98.5</text>
<line x1="288.6" y1="112.9" x2="290.1" y2="112.9" stroke="#555" stroke-width="0.7" />
<text x="287.4" y="126.8" font-size="6.2" text-anchor="end" font-weight="bold" fill="#000" font-family="Liberation Serif" >98.0</text>
<line x1="288.6" y1="124.6" x2="290.1" y2="124.6" stroke="#555" stroke-width="0.7" />
<text transform="translate(272.6,105.7) rotate(-90)" font-size="9" text-anchor="middle" font-weight="bold" fill="#000" font-family="Liberation Serif">Weight (%)</text>
<text x="459.3" y="22.4" font-size="37" text-anchor="start" font-weight="bold" fill="#000" font-family="Liberation Serif" >c</text>
<path d="M479.5,88 L479.9,88 L480.3,88 L480.7,88.1 L481.1,88.1 L481.6,88.1 L482.1,88.1 L482.6,88.1 L483.1,88.2 L483.6,88.2 L484.2,88.2 L484.8,88.2 L485.4,88.3 L486,88.3 L486.6,88.3 L487.3,88.3 L487.9,88.4 L488.6,88.4 L489.3,88.4 L490,88.5 L490.7,88.5 L491.5,88.5 L492.2,88.6 L493,88.6 L493.7,88.6 L494.5,88.7 L495.3,88.7 L496.1,88.7 L496.9,88.8 L497.7,88.8 L498.5,88.8 L499.3,88.9 L500.1,88.9 L500.9,88.9 L501.7,89 L502.6,89 L503.4,89 L504.2,89.1 L505,89.1 L505.9,89.2 L506.7,89.2 L507.5,89.2 L508.3,89.3 L509.2,89.3 L510,89.3 L510.8,89.4 L511.6,89.4 L512.4,89.4 L513.2,89.5 L514,89.5 L514.8,89.6 L515.6,89.6 L516.3,89.6 L517.1,89.7 L517.8,89.7 L518.6,89.7 L519.3,89.8 L520,89.8 L520.7,89.8 L521.4,89.9 L522.1,89.9 L522.8,89.9 L523.5,90 L524.2,90 L524.9,90 L525.6,90.1 L526.3,90.1 L527,90.1 L527.8,90.2 L528.5,90.2 L529.2,90.2 L529.9,90.3 L530.6,90.3 L531.3,90.3 L532,90.4 L532.7,90.4 L533.4,90.4 L534.1,90.5 L534.8,90.5 L535.5,90.5 L536.2,90.6 L536.9,90.6 L537.6,90.6 L538.3,90.7 L539,90.7 L539.7,90.7 L540.4,90.8 L541.1,90.8 L541.8,90.8 L542.5,90.9 L543.2,90.9 L543.9,90.9 L544.6,91 L545.3,91 L546,91.1 L546.7,91.1 L547.4,91.1 L548.1,91.2 L548.8,91.2 L549.5,91.2 L550.2,91.3 L550.9,91.3 L551.6,91.3 L552.3,91.4 L553,91.4 L553.7,91.5 L554.4,91.5 L555.1,91.5 L555.8,91.6 L556.5,91.6 L557.2,91.6 L557.9,91.7 L558.6,91.7 L559.3,91.8 L560,91.8 L560.7,91.8 L561.4,91.9 L562.1,91.9 L562.9,92 L563.6,92 L564.3,92 L565.1,92.1 L565.8,92.1 L566.6,92.2 L567.4,92.2 L568.1,92.3 L568.9,92.3 L569.7,92.4 L570.4,92.4 L571.2,92.4 L572,92.5 L572.8,92.5 L573.6,92.6 L574.3,92.6 L575.1,92.7 L575.9,92.7 L576.7,92.8 L577.5,92.8 L578.2,92.9 L579,92.9 L579.8,93 L580.6,93 L581.3,93.1 L582.1,93.1 L582.8,93.2 L583.6,93.2 L584.3,93.2 L585.1,93.3 L585.8,93.3 L586.5,93.4 L587.3,93.4 L588,93.5 L588.7,93.5 L589.4,93.6 L590.1,93.6 L590.7,93.7 L591.4,93.7 L592.1,93.7 L592.7,93.8 L593.4,93.8 L594,93.9 L594.6,93.9 L595.2,94 L595.8,94 L596.4,94 L596.9,94.1 L597.5,94.1 L598,94.2 L598.5,94.2 L599,94.2 L599.5,94.3 L600,94.3 L601.4,94.4 L602.6,94.5 L603.8,94.6 L604.8,94.7 L605.7,94.8 L606.5,94.9 L607.2,94.9 L607.9,95 L608.5,95.1 L609,95.2 L609.5,95.2 L610,95.3 L610.4,95.4 L610.9,95.5 L611.3,95.5 L611.8,95.6 L612.3,95.7 L612.8,95.8 L613.8,96 L614.6,96.2 L615.4,96.4 L616.2,96.6 L616.9,96.8 L617.5,97 L618.2,97.2 L618.8,97.4 L619.4,97.6 L620,97.8 L620.8,98 L621.6,98.3 L622.3,98.5 L623,98.8 L623.7,99 L624.3,99.1 L625,99.3 L625.7,99.4 L626.3,99.6 L627,99.6 L627.7,99.7 L628.5,99.8 L629.6,99.8 L630.2,99.8 L630.7,99.8 L631.4,99.8 L632,99.9 L632.7,99.9 L633.4,99.9 L634.2,99.9 L634.9,99.9 L635.7,99.9 L636.5,99.9 L637.4,99.9 L638.2,99.8 L639.1,99.8 L640,99.8 L640.6,99.8 L641.2,99.8 L641.8,99.7 L642.5,99.7 L643.1,99.7 L643.7,99.7 L644.4,99.7 L645.1,99.6 L645.7,99.6 L646.4,99.6 L647.1,99.5 L647.8,99.5 L648.6,99.5 L649.3,99.4 L650.1,99.4 L650.8,99.3 L651.6,99.3 L652.4,99.2 L653.3,99.1 L654.1,99.1 L655,99 L655.6,98.9 L656.3,98.9 L656.9,98.8 L657.7,98.7 L658.4,98.7 L659.1,98.6 L659.9,98.5 L660.7,98.4 L661.5,98.3 L662.4,98.2 L663.2,98.1 L664,98 L664.9,97.9 L665.7,97.8 L666.5,97.7 L667.3,97.6 L668.2,97.5 L669,97.4 L669.8,97.3 L670.5,97.2 L671.3,97.1 L672,97 L672.7,96.9 L673.4,96.8 L674,96.8 L674.6,96.7 L675.2,96.6 L675.7,96.6 L676.2,96.5 L676.6,96.4 L677,96.4" fill="none" stroke="#f0424a" stroke-width="1.4" stroke-linejoin="round" />
<path d="M479.5,136.3 L479.9,136.3 L480.3,136.3 L480.7,136.3 L481.2,136.4 L481.7,136.4 L482.2,136.4 L482.7,136.4 L483.3,136.4 L483.9,136.4 L484.5,136.5 L485.2,136.5 L485.8,136.5 L486.5,136.5 L487.2,136.5 L487.9,136.6 L488.6,136.6 L489.4,136.6 L490.1,136.6 L490.9,136.6 L491.7,136.7 L492.5,136.7 L493.3,136.7 L494.1,136.7 L494.9,136.8 L495.7,136.8 L496.5,136.8 L497.4,136.8 L498.2,136.9 L499,136.9 L499.8,136.9 L500.7,137 L501.5,137 L502.3,137 L503.1,137 L503.9,137.1 L504.7,137.1 L505.5,137.1 L506.3,137.2 L507.1,137.2 L507.8,137.2 L508.6,137.2 L509.3,137.3 L510,137.3 L510.7,137.3 L511.5,137.4 L512.2,137.4 L512.9,137.4 L513.7,137.5 L514.4,137.5 L515.2,137.5 L516,137.6 L516.7,137.6 L517.5,137.6 L518.3,137.7 L519,137.7 L519.8,137.7 L520.6,137.8 L521.3,137.8 L522.1,137.8 L522.9,137.9 L523.6,137.9 L524.4,137.9 L525.2,138 L525.9,138 L526.7,138.1 L527.4,138.1 L528.2,138.1 L528.9,138.2 L529.6,138.2 L530.4,138.2 L531.1,138.3 L531.8,138.3 L532.5,138.4 L533.2,138.4 L533.9,138.4 L534.5,138.5 L535.2,138.5 L535.8,138.5 L536.5,138.6 L537.1,138.6 L537.7,138.7 L538.3,138.7 L538.9,138.7 L539.4,138.8 L540,138.8 L541,138.9 L542,138.9 L542.9,139 L543.9,139.1 L544.7,139.1 L545.6,139.2 L546.4,139.3 L547.2,139.4 L547.9,139.4 L548.6,139.5 L549.3,139.6 L550,139.6 L550.7,139.7 L551.3,139.8 L551.9,139.8 L552.5,139.9 L553.1,140 L553.6,140 L554.2,140.1 L554.7,140.2 L555.2,140.2 L555.7,140.3 L556.8,140.4 L557.8,140.6 L558.6,140.7 L559.3,140.8 L559.9,140.9 L560.4,141.1 L560.9,141.2 L561.5,141.4 L562,141.6 L562.7,141.9 L563.3,142.3 L563.9,142.8 L564.5,143.2 L565,143.7 L565.5,144.1 L566,144.5 L566.7,145 L567.4,145.6 L568,146 L568.6,146.5 L569.2,146.8 L569.6,147 L569.7,147.2 L570.2,147.2 L572,147.2 L572.4,147.2 L572.9,147.2 L573.4,147.2 L573.9,147.2 L574.4,147.2 L575,147.2 L575.6,147.2 L576.2,147.2 L576.9,147.2 L577.5,147.2 L578.2,147.2 L578.9,147.1 L579.7,147.1 L580.4,147.1 L581.2,147.1 L582,147.1 L582.8,147.1 L583.7,147.1 L584.5,147.1 L585.4,147 L586.3,147 L587.2,147 L588.1,147 L589,147 L590,147 L590.6,147 L591.2,147 L591.8,147 L592.4,147 L593,147 L593.7,147 L594.3,147 L595,147 L595.6,147 L596.3,147 L597,147 L597.7,147 L598.4,147 L599.1,146.9 L599.8,146.9 L600.6,146.9 L601.3,146.9 L602,146.9 L602.8,146.9 L603.5,146.9 L604.2,146.9 L605,146.9 L605.8,146.9 L606.5,146.9 L607.3,146.9 L608,146.9 L608.8,146.9 L609.6,146.9 L610.3,146.9 L611.1,146.9 L611.8,146.9 L612.6,146.9 L613.4,146.9 L614.1,146.9 L614.9,146.9 L615.6,146.8 L616.4,146.8 L617.1,146.8 L617.8,146.8 L618.6,146.8 L619.3,146.8 L620,146.8 L620.7,146.8 L621.4,146.8 L622.1,146.8 L622.9,146.8 L623.6,146.8 L624.3,146.7 L625,146.7 L625.8,146.7 L626.5,146.7 L627.2,146.7 L627.9,146.7 L628.7,146.7 L629.4,146.7 L630.1,146.6 L630.8,146.6 L631.6,146.6 L632.3,146.6 L633,146.6 L633.7,146.6 L634.5,146.6 L635.2,146.6 L635.9,146.5 L636.6,146.5 L637.4,146.5 L638.1,146.5 L638.8,146.5 L639.5,146.5 L640.2,146.5 L640.9,146.4 L641.6,146.4 L642.4,146.4 L643.1,146.4 L643.8,146.4 L644.5,146.4 L645.2,146.3 L645.9,146.3 L646.6,146.3 L647.3,146.3 L647.9,146.3 L648.6,146.2 L649.3,146.2 L650,146.2 L650.8,146.2 L651.5,146.2 L652.3,146.1 L653.1,146.1 L653.9,146.1 L654.7,146 L655.5,146 L656.4,146 L657.2,146 L658,145.9 L658.8,145.9 L659.7,145.9 L660.5,145.8 L661.3,145.8 L662.1,145.8 L663,145.7 L663.8,145.7 L664.6,145.6 L665.4,145.6 L666.2,145.6 L666.9,145.5 L667.7,145.5 L668.4,145.5 L669.2,145.4 L669.9,145.4 L670.6,145.4 L671.2,145.4 L671.9,145.3 L672.5,145.3 L673.1,145.3 L673.7,145.2 L674.3,145.2 L674.8,145.2 L675.3,145.2 L675.8,145.2 L676.2,145.1 L676.6,145.1 L677,145.1" fill="none" stroke="#525252" stroke-width="1.4" stroke-linejoin="round" />
<line x1="559" y1="150" x2="570.8" y2="137.7" stroke="#525252" stroke-width="1" stroke-dasharray="2.2,1.6"/>
<line x1="615.5" y1="103" x2="629.6" y2="92.3" stroke="#f0424a" stroke-width="1" stroke-dasharray="2.2,1.6"/>
<rect x="479.5" y="36.3" width="197.9" height="149.1" fill="none" stroke="#1a1a1a" stroke-width="1.3" />
<line x1="479.5" y1="185.4" x2="479.5" y2="183.4" stroke="#1a1a1a" stroke-width="1" />
<line x1="504.2" y1="185.4" x2="504.2" y2="184.2" stroke="#1a1a1a" stroke-width="1" />
<line x1="529" y1="185.4" x2="529" y2="183.4" stroke="#1a1a1a" stroke-width="1" />
<line x1="553.7" y1="185.4" x2="553.7" y2="184.2" stroke="#1a1a1a" stroke-width="1" />
<line x1="578.5" y1="185.4" x2="578.5" y2="183.4" stroke="#1a1a1a" stroke-width="1" />
<line x1="603.2" y1="185.4" x2="603.2" y2="184.2" stroke="#1a1a1a" stroke-width="1" />
<line x1="627.9" y1="185.4" x2="627.9" y2="183.4" stroke="#1a1a1a" stroke-width="1" />
<line x1="652.7" y1="185.4" x2="652.7" y2="184.2" stroke="#1a1a1a" stroke-width="1" />
<line x1="677.4" y1="185.4" x2="677.4" y2="183.4" stroke="#1a1a1a" stroke-width="1" />
<text x="479.5" y="194.9" font-size="9.6" text-anchor="middle" font-weight="bold" fill="#000" font-family="Liberation Serif" >150</text>
<text x="529" y="194.9" font-size="9.6" text-anchor="middle" font-weight="bold" fill="#000" font-family="Liberation Serif" >200</text>
<text x="578.5" y="194.9" font-size="9.6" text-anchor="middle" font-weight="bold" fill="#000" font-family="Liberation Serif" >250</text>
<text x="627.9" y="194.9" font-size="9.6" text-anchor="middle" font-weight="bold" fill="#000" font-family="Liberation Serif" >300</text>
<text x="677.4" y="194.9" font-size="9.6" text-anchor="middle" font-weight="bold" fill="#000" font-family="Liberation Serif" >350</text>
<text x="578.8" y="211.9" font-size="12.1" text-anchor="middle" font-weight="bold" fill="#000" font-family="Liberation Serif" >Temperature (°C)</text>
<text transform="translate(461.5,110.5) rotate(-90)" font-size="12.9" text-anchor="middle" font-weight="bold" fill="#000" font-family="Liberation Serif">Deriv. Weight (%/°C)</text>
<text x="480.5" y="86" font-size="9.6" text-anchor="start" font-weight="bold" fill="#f0424a" font-family="Liberation Serif" >TPEI</text>
<text x="525.5" y="85.4" font-size="9.2" text-anchor="start" font-weight="bold" fill="#f0424a" font-family="Liberation Serif" >ΔC<tspan font-size="6.5" dy="2">p</tspan><tspan dy="-2">=0.119 J/(g °C)</tspan></text>
<text x="621.9" y="85.4" font-size="9.2" text-anchor="start" font-weight="bold" fill="#f0424a" font-family="Liberation Serif" >T<tspan font-size="6.5" dy="2">g</tspan><tspan dy="-2">=289.72 °C</tspan></text>
<text x="482.5" y="133.5" font-size="9.6" text-anchor="start" font-weight="bold" fill="#222" font-family="Liberation Serif" >PEI</text>
<text x="525.5" y="133.4" font-size="9.2" text-anchor="start" font-weight="bold" fill="#222" font-family="Liberation Serif" >ΔC<tspan font-size="6.5" dy="2">p</tspan><tspan dy="-2">=0.205 J/(g °C)</tspan></text>
<text x="622.9" y="134.3" font-size="9.2" text-anchor="start" font-weight="bold" fill="#222" font-family="Liberation Serif" >T<tspan font-size="6.5" dy="2">g</tspan><tspan dy="-2">=236.31 °C</tspan></text>
<text x="3.8" y="232.7" font-size="35" text-anchor="start" font-weight="bold" fill="#000" font-family="Liberation Serif" >d</text>
<path d="M31.2,391.6 L31.6,391.5 L32.1,391.3 L32.6,391.2 L33.3,391 L34,390.8 L34.7,390.6 L35.5,390.3 L36.3,390.1 L37.1,389.9 L37.8,389.6 L38.6,389.4 L39.3,389.2 L40,389 L40.7,388.8 L41.3,388.6 L42,388.4 L42.6,388.3 L43.2,388.1 L43.9,387.9 L44.5,387.7 L45.1,387.6 L45.8,387.3 L46.5,387.1 L47.3,386.8 L48.1,386.5 L48.7,386.3 L49.3,386 L49.9,385.8 L50.5,385.5 L51.2,385.2 L51.8,384.9 L52.5,384.6 L53.2,384.3 L53.9,384 L54.6,383.6 L55.3,383.3 L56,383 L56.6,382.6 L57.3,382.3 L58,382 L58.7,381.6 L59.4,381.3 L60,381 L60.6,380.7 L61.3,380.4 L61.9,380 L62.5,379.7 L63.1,379.4 L63.7,379.1 L64.2,378.8 L64.8,378.4 L65.4,378.1 L66,377.8 L66.6,377.5 L67.2,377.1 L67.8,376.8 L68.5,376.4 L69.1,376.1 L69.7,375.7 L70.4,375.4 L71.1,375 L71.7,374.7 L72.3,374.4 L72.8,374.1 L73.4,373.7 L74,373.4 L74.7,373.1 L75.3,372.8 L75.9,372.4 L76.5,372.1 L77.2,371.8 L77.8,371.4 L78.5,371.1 L79.1,370.7 L79.8,370.4 L80.4,370 L81.1,369.7 L81.7,369.4 L82.4,369 L83,368.7 L83.7,368.3 L84.3,368 L85,367.6 L85.6,367.3 L86.2,367 L86.8,366.6 L87.4,366.3 L88,366 L88.7,365.6 L89.3,365.3 L89.9,365 L90.5,364.7 L91.1,364.3 L91.8,364 L92.4,363.6 L93,363.3 L93.6,363 L94.3,362.6 L94.9,362.3 L95.5,362 L96.1,361.6 L96.8,361.3 L97.4,361 L98,360.6 L98.6,360.3 L99.3,359.9 L99.9,359.6 L100.5,359.3 L101.2,358.9 L101.8,358.6 L102.4,358.2 L103,357.9 L103.7,357.6 L104.3,357.2 L104.9,356.9 L105.6,356.5 L106.2,356.2 L106.8,355.8 L107.4,355.5 L108.1,355.2 L108.7,354.8 L109.3,354.5 L110,354.1 L110.6,353.8 L111.2,353.4 L111.9,353.1 L112.5,352.8 L113.1,352.4 L113.7,352.1 L114.4,351.7 L115,351.4 L115.6,351.1 L116.3,350.7 L116.9,350.4 L117.6,350 L118.3,349.6 L118.9,349.3 L119.6,348.9 L120.3,348.6 L121,348.2 L121.6,347.8 L122.3,347.5 L123,347.1 L123.6,346.8 L124.3,346.4 L124.9,346.1 L125.6,345.7 L126.2,345.4 L126.8,345.1 L127.4,344.8 L127.9,344.5 L128.5,344.2 L129,343.9 L129.5,343.7 L130,343.4 L130.9,342.9 L131.7,342.5 L132.4,342.2 L133.1,341.8 L133.7,341.5 L134.3,341.2 L134.8,341 L135.3,340.7 L135.9,340.5 L136.4,340.2 L137,339.9 L137.6,339.6 L138.2,339.3 L138.9,338.9 L139.5,338.6 L140.1,338.3 L140.7,338 L141.3,337.6 L142,337.3 L142.6,337 L143.2,336.6 L143.8,336.3 L144.5,335.9 L145.1,335.6 L145.7,335.3 L146.4,334.9 L147,334.5 L147.7,334.2 L148.3,333.8 L149,333.4 L149.6,333.1 L150.3,332.7 L150.9,332.3 L151.5,332 L152.1,331.6 L152.7,331.3 L153.4,330.9 L154,330.5 L154.7,330.1 L155.3,329.8 L155.9,329.4 L156.5,329.1 L157.1,328.7 L157.7,328.3 L158.2,328 L158.7,327.6 L159.4,327.1 L159.9,326.5 L160.5,326 L161,325.5 L161.5,324.9 L161.9,324.4 L162.4,323.8 L162.9,323.2 L163.3,322.7 L163.8,322.1 L164.2,321.5 L164.6,320.9 L165,320.2 L165.4,319.4 L165.6,318.8 L165.9,318.1 L166.1,317.4 L166.3,316.7 L166.5,315.9 L166.7,315.1 L166.8,314.4 L167,313.6 L167.2,312.8 L167.3,312.1 L167.4,311.4 L167.5,310.7 L167.6,310 L167.7,309.3 L167.8,308.6 L167.9,307.9 L167.9,307.2 L168,306.4 L168,305.7 L168.1,305 L168.2,304.3 L168.2,303.7 L168.3,303.2 L168.3,302.6 L168.4,302 L168.4,301.4 L168.5,300.7 L168.5,299.8 L168.6,298.7 L168.6,297.5 L168.6,297 L168.6,296.5 L168.6,296 L168.7,295.4 L168.7,294.9 L168.7,294.3 L168.7,293.7 L168.7,293.1 L168.7,292.5 L168.8,291.9 L168.8,291.2 L168.8,290.5 L168.8,289.9 L168.8,289.2 L168.8,288.5 L168.8,287.7 L168.9,287 L168.9,286.2 L168.9,285.5 L168.9,284.7 L168.9,283.9 L168.9,283 L168.9,282.2 L168.9,281.4 L169,280.5 L169,279.6 L169,278.7 L169,277.8 L169,277.2 L169,276.6 L169,276 L169,275.3 L169,274.6 L169,273.9 L169.1,273.2 L169.1,272.5 L169.1,271.7 L169.1,270.9 L169.1,270.2 L169.1,269.4 L169.1,268.6 L169.1,267.7 L169.1,266.9 L169.1,266.1 L169.1,265.3 L169.1,264.4 L169.1,263.6 L169.2,262.8 L169.2,261.9 L169.2,261.1 L169.2,260.3 L169.2,259.4 L169.2,258.6 L169.2,257.8 L169.2,257 L169.2,256.2 L169.2,255.5 L169.2,254.7 L169.2,253.9 L169.2,253.2 L169.2,252.5 L169.2,251.8 L169.3,251.2 L169.3,250.5 L169.3,249.9 L169.3,249.3 L169.3,248.7 L169.3,248.2 L169.3,247.7 L169.3,247.2 L169.3,246.8 L169.3,246.4 L169.3,246" fill="none" stroke="#464646" stroke-width="1.4" stroke-linejoin="round" />
<path d="M31.2,393.4 L31.7,393.5 L32.3,393.7 L33,394 L33.9,394.2 L34.8,394.5 L35.7,394.6 L36.6,394.7 L37.3,394.7 L38,394.6 L38.7,394.6 L39.4,394.5 L40.2,394.4 L41,394.2 L41.7,394 L42.5,393.9 L43.3,393.7 L44,393.5 L44.7,393.3 L45.4,393.1 L46.1,392.8 L46.7,392.6 L47.4,392.3 L48.1,392 L48.8,391.7 L49.5,391.4 L50.2,391.1 L51,390.8 L51.6,390.5 L52.3,390.3 L52.9,390 L53.6,389.8 L54.2,389.5 L54.9,389.2 L55.6,388.9 L56.3,388.6 L57,388.3 L57.7,388 L58.5,387.7 L59.2,387.3 L60,387 L60.6,386.7 L61.2,386.4 L61.8,386.2 L62.4,385.9 L63,385.6 L63.6,385.3 L64.3,385 L64.9,384.6 L65.6,384.3 L66.2,384 L66.9,383.7 L67.6,383.3 L68.3,383 L68.9,382.6 L69.7,382.3 L70.4,382 L71.1,381.6 L71.7,381.3 L72.3,381 L72.9,380.7 L73.6,380.4 L74.2,380.1 L74.8,379.8 L75.5,379.5 L76.1,379.2 L76.8,378.9 L77.5,378.6 L78.1,378.3 L78.8,378 L79.5,377.7 L80.2,377.4 L80.9,377 L81.6,376.7 L82.2,376.4 L82.9,376 L83.6,375.7 L84.3,375.4 L85,375 L85.6,374.7 L86.2,374.4 L86.8,374.1 L87.4,373.7 L88,373.4 L88.7,373.1 L89.3,372.7 L89.9,372.4 L90.5,372 L91.1,371.7 L91.8,371.3 L92.4,371 L93,370.6 L93.6,370.3 L94.3,369.9 L94.9,369.6 L95.5,369.2 L96.1,368.9 L96.8,368.5 L97.4,368.2 L98,367.8 L98.6,367.5 L99.3,367.1 L99.9,366.8 L100.5,366.5 L101.2,366.1 L101.8,365.8 L102.4,365.5 L103,365.1 L103.7,364.8 L104.3,364.4 L104.9,364.1 L105.6,363.8 L106.2,363.4 L106.8,363.1 L107.4,362.8 L108.1,362.4 L108.7,362.1 L109.3,361.8 L110,361.5 L110.6,361.1 L111.2,360.8 L111.9,360.5 L112.5,360.1 L113.1,359.8 L113.7,359.5 L114.4,359.1 L115,358.8 L115.6,358.5 L116.3,358.1 L116.9,357.8 L117.6,357.4 L118.2,357.1 L118.9,356.8 L119.5,356.4 L120.2,356.1 L120.9,355.7 L121.5,355.4 L122.2,355 L122.8,354.7 L123.5,354.4 L124.1,354 L124.7,353.7 L125.4,353.4 L126,353 L126.6,352.7 L127.2,352.4 L127.8,352.1 L128.4,351.8 L128.9,351.5 L129.5,351.2 L130,350.9 L130.8,350.5 L131.5,350.1 L132.2,349.7 L132.9,349.4 L133.5,349 L134.1,348.7 L134.7,348.3 L135.3,348 L135.9,347.7 L136.5,347.3 L137.1,347 L137.6,346.7 L138.2,346.4 L138.8,346.1 L139.4,345.7 L140,345.4 L140.7,345 L141.3,344.7 L141.9,344.3 L142.6,344 L143.2,343.6 L143.9,343.2 L144.5,342.9 L145.1,342.5 L145.8,342.2 L146.4,341.8 L147.1,341.4 L147.7,341.1 L148.4,340.7 L149,340.4 L149.7,340 L150.3,339.7 L151,339.3 L151.7,339 L152.3,338.6 L153,338.3 L153.7,337.9 L154.4,337.6 L155.1,337.2 L155.7,336.9 L156.4,336.6 L157.1,336.2 L157.8,335.9 L158.4,335.6 L159.1,335.2 L159.7,334.9 L160.3,334.6 L161,334.3 L161.6,333.9 L162.3,333.6 L162.9,333.3 L163.6,333 L164.2,332.7 L164.8,332.4 L165.4,332.1 L166,331.8 L166.6,331.5 L167.2,331.2 L167.8,330.9 L168.5,330.6 L169.1,330.2 L169.7,329.8 L170.3,329.5 L170.9,329.1 L171.6,328.7 L172.2,328.3 L172.8,327.9 L173.5,327.4 L174.1,327 L174.7,326.6 L175.3,326.2 L175.9,325.8 L176.5,325.3 L177,325 L177.6,324.6 L178.1,324.2 L178.8,323.7 L179.4,323.3 L180,322.9 L180.5,322.5 L181.1,322.1 L181.6,321.7 L182.1,321.3 L182.6,320.9 L183.1,320.4 L183.7,319.9 L184.2,319.4 L184.7,318.9 L185.2,318.4 L185.6,317.9 L186.1,317.3 L186.6,316.7 L187.1,316.1 L187.6,315.5 L188.1,314.9 L188.5,314.3 L189,313.8 L189.4,313.2 L189.8,312.6 L190.2,312.1 L190.7,311.4 L191.1,310.8 L191.5,310.2 L191.9,309.6 L192.3,309 L192.7,308.4 L193,307.8 L193.3,307.2 L193.6,306.6 L193.9,306 L194.2,305.3 L194.5,304.5 L194.7,303.8 L194.9,303.1 L195.1,302.3 L195.3,301.6 L195.5,300.8 L195.7,300 L195.9,299.3 L196,298.7 L196.2,298 L196.4,297.3 L196.5,296.6 L196.7,295.9 L196.8,295.2 L197,294.5 L197.1,293.7 L197.3,293 L197.4,292.4 L197.6,291.8 L197.7,291.2 L197.9,290.6 L198,290 L198.2,289.4 L198.3,288.7 L198.4,288 L198.6,287.2 L198.7,286.4 L198.8,285.4 L198.9,284.8 L198.9,284.3 L199,283.6 L199,283 L199.1,282.3 L199.1,281.6 L199.2,280.9 L199.3,280.2 L199.3,279.5 L199.4,278.7 L199.4,277.9 L199.5,277.2 L199.5,276.4 L199.6,275.6 L199.6,274.8 L199.7,274.1 L199.7,273.3 L199.8,272.5 L199.8,271.8 L199.9,271 L199.9,270.3 L199.9,269.6 L200,268.8 L200,268.1 L200.1,267.3 L200.1,266.6 L200.2,265.8 L200.2,265 L200.3,264.2 L200.3,263.5 L200.4,262.7 L200.4,261.9 L200.4,261.2 L200.5,260.4 L200.5,259.7 L200.6,259 L200.6,258.3 L200.7,257.6 L200.7,257 L200.7,256.3 L200.8,255.7 L200.8,255.1 L200.9,254.2 L200.9,253.3 L201,252.4 L201,251.6 L201.1,250.7 L201.1,250 L201.2,249.2 L201.2,248.6 L201.3,247.9 L201.3,247.4 L201.3,246.8 L201.4,246.4 L201.4,246" fill="none" stroke="#f2424c" stroke-width="1.5" stroke-linejoin="round" />
<line x1="158" y1="328.5" x2="164.5" y2="324.8" stroke="#555" stroke-width="0.9" stroke-dasharray="2.5,1.5"/>
<line x1="167.6" y1="322.4" x2="166.9" y2="311" stroke="#555" stroke-width="0.9" stroke-dasharray="2.5,1.5"/>
<line x1="169.1" y1="331.2" x2="196.9" y2="318.8" stroke="#f2525a" stroke-width="0.9" stroke-dasharray="2.5,1.5"/>
<line x1="196.9" y1="318.8" x2="198.1" y2="299" stroke="#f2525a" stroke-width="0.9" stroke-dasharray="2.5,1.5"/>
<line x1="161.7" y1="353.6" x2="165.7" y2="327.5" stroke="#444" stroke-width="1.1" />
<line x1="165.7" y1="327.5" x2="162.9" y2="331.6" stroke="#444" stroke-width="1.1" />
<line x1="165.7" y1="327.5" x2="167.2" y2="332.3" stroke="#444" stroke-width="1.1" />
<line x1="193.4" y1="355" x2="197.2" y2="320.6" stroke="#f2525a" stroke-width="1.1" />
<line x1="197.2" y1="320.6" x2="194.5" y2="324.8" stroke="#f2525a" stroke-width="1.1" />
<line x1="197.2" y1="320.6" x2="198.9" y2="325.3" stroke="#f2525a" stroke-width="1.1" />
<rect x="31.2" y="245.4" width="189.3" height="152.5" fill="none" stroke="#1a1a1a" stroke-width="1.3" />
<line x1="47.1" y1="397.9" x2="47.1" y2="395.9" stroke="#1a1a1a" stroke-width="1" />
<line x1="63.2" y1="397.9" x2="63.2" y2="396.7" stroke="#1a1a1a" stroke-width="1" />
<line x1="79.2" y1="397.9" x2="79.2" y2="395.9" stroke="#1a1a1a" stroke-width="1" />
<line x1="95.2" y1="397.9" x2="95.2" y2="396.7" stroke="#1a1a1a" stroke-width="1" />
<line x1="111.3" y1="397.9" x2="111.3" y2="395.9" stroke="#1a1a1a" stroke-width="1" />
<line x1="127.3" y1="397.9" x2="127.3" y2="396.7" stroke="#1a1a1a" stroke-width="1" />
<line x1="143.4" y1="397.9" x2="143.4" y2="395.9" stroke="#1a1a1a" stroke-width="1" />
<line x1="159.5" y1="397.9" x2="159.5" y2="396.7" stroke="#1a1a1a" stroke-width="1" />
<line x1="175.5" y1="397.9" x2="175.5" y2="395.9" stroke="#1a1a1a" stroke-width="1" />
<line x1="191.6" y1="397.9" x2="191.6" y2="396.7" stroke="#1a1a1a" stroke-width="1" />
<line x1="207.6" y1="397.9" x2="207.6" y2="395.9" stroke="#1a1a1a" stroke-width="1" />
<text x="47.1" y="407.6" font-size="9.8" text-anchor="middle" font-weight="bold" fill="#000" font-family="Liberation Serif" >50</text>
<text x="79.2" y="407.6" font-size="9.8" text-anchor="middle" font-weight="bold" fill="#000" font-family="Liberation Serif" >100</text>
<text x="111.3" y="407.6" font-size="9.8" text-anchor="middle" font-weight="bold" fill="#000" font-family="Liberation Serif" >150</text>
<text x="143.4" y="407.6" font-size="9.8" text-anchor="middle" font-weight="bold" fill="#000" font-family="Liberation Serif" >200</text>
<text x="175.5" y="407.6" font-size="9.8" text-anchor="middle" font-weight="bold" fill="#000" font-family="Liberation Serif" >250</text>
<text x="207.6" y="407.6" font-size="9.8" text-anchor="middle" font-weight="bold" fill="#000" font-family="Liberation Serif" >300</text>
<line x1="31.2" y1="393" x2="33.2" y2="393" stroke="#1a1a1a" stroke-width="1" />
<text x="28.3" y="396.4" font-size="9.8" text-anchor="end" font-weight="bold" fill="#000" font-family="Liberation Serif" >0</text>
<line x1="31.2" y1="368.5" x2="33.2" y2="368.5" stroke="#1a1a1a" stroke-width="1" />
<text x="28.3" y="371.9" font-size="9.8" text-anchor="end" font-weight="bold" fill="#000" font-family="Liberation Serif" >5</text>
<line x1="31.2" y1="344" x2="33.2" y2="344" stroke="#1a1a1a" stroke-width="1" />
<text x="28.3" y="347.4" font-size="9.8" text-anchor="end" font-weight="bold" fill="#000" font-family="Liberation Serif" >10</text>
<line x1="31.2" y1="319.5" x2="33.2" y2="319.5" stroke="#1a1a1a" stroke-width="1" />
<text x="28.3" y="322.9" font-size="9.8" text-anchor="end" font-weight="bold" fill="#000" font-family="Liberation Serif" >15</text>
<line x1="31.2" y1="295" x2="33.2" y2="295" stroke="#1a1a1a" stroke-width="1" />
<text x="28.3" y="298.4" font-size="9.8" text-anchor="end" font-weight="bold" fill="#000" font-family="Liberation Serif" >20</text>
<line x1="31.2" y1="270.5" x2="33.2" y2="270.5" stroke="#1a1a1a" stroke-width="1" />
<text x="28.3" y="273.9" font-size="9.8" text-anchor="end" font-weight="bold" fill="#000" font-family="Liberation Serif" >25</text>
<line x1="31.2" y1="246" x2="33.2" y2="246" stroke="#1a1a1a" stroke-width="1" />
<text x="28.3" y="249.4" font-size="9.8" text-anchor="end" font-weight="bold" fill="#000" font-family="Liberation Serif" >30</text>
<line x1="31.2" y1="380.8" x2="32.4" y2="380.8" stroke="#1a1a1a" stroke-width="1" />
<line x1="31.2" y1="356.2" x2="32.4" y2="356.2" stroke="#1a1a1a" stroke-width="1" />
<line x1="31.2" y1="331.8" x2="32.4" y2="331.8" stroke="#1a1a1a" stroke-width="1" />
<line x1="31.2" y1="307.2" x2="32.4" y2="307.2" stroke="#1a1a1a" stroke-width="1" />
<line x1="31.2" y1="282.8" x2="32.4" y2="282.8" stroke="#1a1a1a" stroke-width="1" />
<line x1="31.2" y1="258.2" x2="32.4" y2="258.2" stroke="#1a1a1a" stroke-width="1" />
<text x="125.9" y="425.9" font-size="12.9" text-anchor="middle" font-weight="bold" fill="#000" font-family="Liberation Serif" >Temperature (°C)</text>
<text transform="translate(12.9,322) rotate(-90)" font-size="12.9" text-anchor="middle" font-weight="bold" font-family="Liberation Serif">dL/L<tspan font-size="9" dy="2.5">0</tspan><tspan dy="-2.5"> (*10</tspan><tspan font-size="9" dy="-5">-3</tspan><tspan dy="5">)</tspan></text>
<text x="128.7" y="364.2" font-size="10" text-anchor="start" font-weight="normal" fill="#4a4a4a" font-family="Liberation Serif" >235.45 °C</text>
<text x="176.3" y="363.6" font-size="10" text-anchor="start" font-weight="normal" fill="#f2525a" font-family="Liberation Serif" >285.28 °C</text>
<line x1="173.3" y1="374.7" x2="187.6" y2="374.7" stroke="#464646" stroke-width="1.6" />
<text x="190.7" y="377.5" font-size="10.2" text-anchor="start" font-weight="bold" fill="#000" font-family="Liberation Serif" >PEI</text>
<line x1="173.3" y1="387" x2="187.6" y2="387" stroke="#f2424c" stroke-width="1.6" />
<text x="190.7" y="390.2" font-size="10.2" text-anchor="start" font-weight="bold" fill="#000" font-family="Liberation Serif" >TPEI</text>
<rect x="59.2" y="253.4" width="80.6" height="65" fill="#fff" stroke="none" stroke-width="1" />
<rect x="71.1" y="275.4" width="8" height="43" fill="#6b9bd1" stroke="none" stroke-width="1" />
<rect x="110.8" y="294.7" width="8.4" height="23.7" fill="#6b9bd1" stroke="none" stroke-width="1" />
<rect x="119.2" y="283.6" width="8.5" height="34.8" fill="#ef5f68" stroke="none" stroke-width="1" />
<rect x="59.2" y="253.4" width="80.6" height="65" fill="none" stroke="#555" stroke-width="1" />
<text x="58" y="320.7" font-size="6.4" text-anchor="end" font-weight="normal" fill="#000" font-family="Liberation Serif" >50</text>
<line x1="59.2" y1="318.4" x2="60.7" y2="318.4" stroke="#555" stroke-width="0.7" />
<text x="58" y="307.7" font-size="6.4" text-anchor="end" font-weight="normal" fill="#000" font-family="Liberation Serif" >55</text>
<line x1="59.2" y1="305.4" x2="60.7" y2="305.4" stroke="#555" stroke-width="0.7" />
<text x="58" y="294.7" font-size="6.4" text-anchor="end" font-weight="normal" fill="#000" font-family="Liberation Serif" >60</text>
<line x1="59.2" y1="292.4" x2="60.7" y2="292.4" stroke="#555" stroke-width="0.7" />
<text x="58" y="281.7" font-size="6.4" text-anchor="end" font-weight="normal" fill="#000" font-family="Liberation Serif" >65</text>
<line x1="59.2" y1="279.4" x2="60.7" y2="279.4" stroke="#555" stroke-width="0.7" />
<text x="58" y="268.7" font-size="6.4" text-anchor="end" font-weight="normal" fill="#000" font-family="Liberation Serif" >70</text>
<line x1="59.2" y1="266.4" x2="60.7" y2="266.4" stroke="#555" stroke-width="0.7" />
<text x="58" y="255.7" font-size="6.4" text-anchor="end" font-weight="normal" fill="#000" font-family="Liberation Serif" >75</text>
<line x1="59.2" y1="253.4" x2="60.7" y2="253.4" stroke="#555" stroke-width="0.7" />
<text x="73.6" y="274.4" font-size="5.2" text-anchor="middle" font-weight="normal" fill="#000" font-family="Liberation Serif" >66.53</text>
<text x="114" y="293.7" font-size="5.2" text-anchor="middle" font-weight="normal" fill="#000" font-family="Liberation Serif" >59.13</text>
<text x="122.8" y="282.5" font-size="5.2" text-anchor="middle" font-weight="normal" fill="#000" font-family="Liberation Serif" >63.4</text>
<rect x="78.3" y="256.4" width="7.7" height="4.6" fill="#6b9bd1" stroke="none" stroke-width="1" />
<text x="87.5" y="260.6" font-size="5.1" text-anchor="start" font-weight="normal" fill="#000" font-family="Liberation Serif" >30 °C-200 °C</text>
<rect x="78.3" y="263.8" width="7.7" height="4.4" fill="#ef5f68" stroke="none" stroke-width="1" />
<text x="87.5" y="267.6" font-size="5.1" text-anchor="start" font-weight="normal" fill="#000" font-family="Liberation Serif" >30 °C-250 °C</text>
<text x="79.1" y="326.2" font-size="8.3" text-anchor="middle" font-weight="bold" fill="#000" font-family="Liberation Serif" >PEI</text>
<text x="118.6" y="326.2" font-size="8.5" text-anchor="middle" font-weight="bold" fill="#000" font-family="Liberation Serif" >TPEI</text>
<text transform="translate(49.5,286.3) rotate(-90)" font-size="8.6" text-anchor="middle" font-weight="bold" fill="#000" font-family="Liberation Serif">CET</text>
<text x="238.3" y="234.2" font-size="37" text-anchor="start" font-weight="bold" fill="#000" font-family="Liberation Serif" >e</text>
<linearGradient id="g291288722" gradientUnits="userSpaceOnUse" x1="0" y1="290.4" x2="0" y2="387.2"><stop offset="0" stop-color="#f09eac"/><stop offset="1" stop-color="#fff" stop-opacity="0.6"/></linearGradient>
<path d="M258.2,387.2 L258.7,387.2 L259.2,387.2 L259.7,387.2 L260.2,387.2 L260.7,387.2 L261.2,387.2 L261.7,387.2 L262.2,387.2 L262.7,387.2 L263.2,387.2 L263.7,387.2 L264.2,387.2 L264.7,387.2 L265.2,387.2 L265.7,387.2 L266.2,387.2 L266.7,387.2 L267.2,387.2 L267.7,387.2 L268.2,387.2 L268.7,387.2 L269.2,387.2 L269.7,387.2 L270.2,387.2 L270.7,387.2 L271.2,387.2 L271.7,387.2 L272.2,387.2 L272.7,387.2 L273.2,387.2 L273.7,387.2 L274.2,387.2 L274.7,387.2 L275.2,387.2 L275.7,387.2 L276.2,387.2 L276.7,387.2 L277.2,387.2 L277.7,387.2 L278.2,387.2 L278.7,387.2 L279.2,387.2 L279.7,387.2 L280.2,387.2 L280.7,387.2 L281.2,387.2 L281.7,387.1 L282.2,387.1 L282.7,387.1 L283.2,387.1 L283.7,387.1 L284.2,387.1 L284.7,387.1 L285.2,387.1 L285.7,387.1 L286.2,387 L286.7,387 L287.2,387 L287.7,387 L288.2,387 L288.7,386.9 L289.2,386.9 L289.7,386.9 L290.2,386.8 L290.7,386.8 L291.2,386.8 L291.7,386.7 L292.2,386.7 L292.7,386.6 L293.2,386.5 L293.7,386.5 L294.2,386.4 L294.7,386.3 L295.2,386.2 L295.7,386.1 L296.2,386 L296.7,385.9 L297.2,385.8 L297.7,385.6 L298.2,385.5 L298.7,385.3 L299.2,385.2 L299.7,385 L300.2,384.8 L300.7,384.6 L301.2,384.4 L301.7,384.1 L302.2,383.9 L302.7,383.6 L303.2,383.3 L303.7,382.9 L304.2,382.6 L304.7,382.2 L305.2,381.8 L305.7,381.4 L306.2,381 L306.7,380.5 L307.2,380 L307.7,379.5 L308.2,378.9 L308.7,378.4 L309.2,377.7 L309.7,377.1 L310.2,376.4 L310.7,375.7 L311.2,374.9 L311.7,374.1 L312.2,373.3 L312.7,372.4 L313.2,371.5 L313.7,370.5 L314.2,369.5 L314.7,368.5 L315.2,367.4 L315.7,366.3 L316.2,365.1 L316.7,363.9 L317.2,362.6 L317.7,361.3 L318.2,360 L318.7,358.6 L319.2,357.2 L319.7,355.8 L320.2,354.3 L320.7,352.8 L321.2,351.2 L321.7,349.6 L322.2,348 L322.7,346.3 L323.2,344.6 L323.7,342.9 L324.2,341.1 L324.7,339.4 L325.2,337.6 L325.7,335.8 L326.2,334 L326.7,332.2 L327.2,330.3 L327.7,328.5 L328.2,326.7 L328.7,324.8 L329.2,323 L329.7,321.2 L330.2,319.4 L330.7,317.6 L331.2,315.9 L331.7,314.1 L332.2,312.4 L332.7,310.8 L333.2,309.2 L333.7,307.6 L334.2,306 L334.7,304.6 L335.2,303.1 L335.7,301.8 L336.2,300.5 L336.7,299.2 L337.2,298.1 L337.7,297 L338.2,296 L338.7,295 L339.2,294.2 L339.7,293.4 L340.2,292.7 L340.7,292.1 L341.2,291.6 L341.7,291.2 L342.2,290.8 L342.7,290.6 L343.2,290.4 L343.7,290.4 L344.2,290.4 L344.7,290.6 L345.2,290.8 L345.7,291.2 L346.2,291.6 L346.7,292.1 L347.2,292.7 L347.7,293.4 L348.2,294.2 L348.7,295 L349.2,296 L349.7,297 L350.2,298.1 L350.7,299.2 L351.2,300.5 L351.7,301.8 L352.2,303.1 L352.7,304.6 L353.2,306 L353.7,307.6 L354.2,309.2 L354.7,310.8 L355.2,312.4 L355.7,314.1 L356.2,315.9 L356.7,317.6 L357.2,319.4 L357.7,321.2 L358.2,323 L358.7,324.8 L359.2,326.7 L359.7,328.5 L360.2,330.3 L360.7,332.2 L361.2,334 L361.7,335.8 L362.2,337.6 L362.7,339.4 L363.2,341.1 L363.7,342.9 L364.2,344.6 L364.7,346.3 L365.2,348 L365.7,349.6 L366.2,351.2 L366.7,352.8 L367.2,354.3 L367.7,355.8 L368.2,357.2 L368.7,358.6 L369.2,360 L369.7,361.3 L370.2,362.6 L370.7,363.9 L371.2,365.1 L371.7,366.3 L372.2,367.4 L372.7,368.5 L373.2,369.5 L373.7,370.5 L374.2,371.5 L374.7,372.4 L375.2,373.3 L375.7,374.1 L376.2,374.9 L376.7,375.7 L377.2,376.4 L377.7,377.1 L378.2,377.7 L378.7,378.4 L379.2,378.9 L379.7,379.5 L380.2,380 L380.7,380.5 L381.2,381 L381.7,381.4 L382.2,381.8 L382.7,382.2 L383.2,382.6 L383.7,382.9 L384.2,383.3 L384.7,383.6 L385.2,383.9 L385.7,384.1 L386.2,384.4 L386.7,384.6 L387.2,384.8 L387.7,385 L388.2,385.2 L388.7,385.3 L389.2,385.5 L389.7,385.6 L390.2,385.8 L390.7,385.9 L391.2,386 L391.7,386.1 L392.2,386.2 L392.7,386.3 L393.2,386.4 L393.7,386.5 L394.2,386.5 L394.7,386.6 L395.2,386.7 L395.7,386.7 L396.2,386.8 L396.7,386.8 L397.2,386.8 L397.7,386.9 L398.2,386.9 L398.7,386.9 L399.2,387 L399.7,387 L400.2,387 L400.7,387 L401.2,387 L401.7,387.1 L402.2,387.1 L402.7,387.1 L403.2,387.1 L403.7,387.1 L404.2,387.1 L404.7,387.1 L405.2,387.1 L405.7,387.1 L406.2,387.2 L406.7,387.2 L407.2,387.2 L407.7,387.2 L408.2,387.2 L408.7,387.2 L409.2,387.2 L409.7,387.2 L410.2,387.2 L410.7,387.2 L411.2,387.2 L411.7,387.2 L412.2,387.2 L412.7,387.2 L413.2,387.2 L413.7,387.2 L414.2,387.2 L414.7,387.2 L415.2,387.2 L415.7,387.2 L416.2,387.2 L416.7,387.2 L417.2,387.2 L417.7,387.2 L418.2,387.2 L418.7,387.2 L419.2,387.2 L419.7,387.2 L420.2,387.2 L420.7,387.2 L421.2,387.2 L421.7,387.2 L422.2,387.2 L422.7,387.2 L423.2,387.2 L423.7,387.2 L424.2,387.2 L424.7,387.2 L425.2,387.2 L425.7,387.2 L426.2,387.2 L426.7,387.2 L427.2,387.2 L427.7,387.2 L428.2,387.2 L428.7,387.2 L429.2,387.2 L429.7,387.2 L430.2,387.2 L430.7,387.2 L431.2,387.2 L431.7,387.2 L432.2,387.2 L432.7,387.2 L433.2,387.2 L433.7,387.2 L434.2,387.2 L434.7,387.2 L435.2,387.2 L435.7,387.2 L436.2,387.2 L436.7,387.2 L437.2,387.2 L437.7,387.2 L438.2,387.2 L438.7,387.2 L439.2,387.2 L439.7,387.2 L440.2,387.2 L440.7,387.2 L441.2,387.2 L441.7,387.2 L442.2,387.2 L442.7,387.2 L443.2,387.2 L443.7,387.2 L444.2,387.2 L444.7,387.2 L445.2,387.2 L445.7,387.2 L446.2,387.2 L446.7,387.2 L447.2,387.2 L447.7,387.2 L448.2,387.2 L448.7,387.2 L449.2,387.2 L449.6,387.2 L258.2,387.2 Z" fill="url(#g291288722)" stroke="none"/>
<path d="M258.2,387.2 L258.7,387.2 L259.2,387.2 L259.7,387.2 L260.2,387.2 L260.7,387.2 L261.2,387.2 L261.7,387.2 L262.2,387.2 L262.7,387.2 L263.2,387.2 L263.7,387.2 L264.2,387.2 L264.7,387.2 L265.2,387.2 L265.7,387.2 L266.2,387.2 L266.7,387.2 L267.2,387.2 L267.7,387.2 L268.2,387.2 L268.7,387.2 L269.2,387.2 L269.7,387.2 L270.2,387.2 L270.7,387.2 L271.2,387.2 L271.7,387.2 L272.2,387.2 L272.7,387.2 L273.2,387.2 L273.7,387.2 L274.2,387.2 L274.7,387.2 L275.2,387.2 L275.7,387.2 L276.2,387.2 L276.7,387.2 L277.2,387.2 L277.7,387.2 L278.2,387.2 L278.7,387.2 L279.2,387.2 L279.7,387.2 L280.2,387.2 L280.7,387.2 L281.2,387.2 L281.7,387.1 L282.2,387.1 L282.7,387.1 L283.2,387.1 L283.7,387.1 L284.2,387.1 L284.7,387.1 L285.2,387.1 L285.7,387.1 L286.2,387 L286.7,387 L287.2,387 L287.7,387 L288.2,387 L288.7,386.9 L289.2,386.9 L289.7,386.9 L290.2,386.8 L290.7,386.8 L291.2,386.8 L291.7,386.7 L292.2,386.7 L292.7,386.6 L293.2,386.5 L293.7,386.5 L294.2,386.4 L294.7,386.3 L295.2,386.2 L295.7,386.1 L296.2,386 L296.7,385.9 L297.2,385.8 L297.7,385.6 L298.2,385.5 L298.7,385.3 L299.2,385.2 L299.7,385 L300.2,384.8 L300.7,384.6 L301.2,384.4 L301.7,384.1 L302.2,383.9 L302.7,383.6 L303.2,383.3 L303.7,382.9 L304.2,382.6 L304.7,382.2 L305.2,381.8 L305.7,381.4 L306.2,381 L306.7,380.5 L307.2,380 L307.7,379.5 L308.2,378.9 L308.7,378.4 L309.2,377.7 L309.7,377.1 L310.2,376.4 L310.7,375.7 L311.2,374.9 L311.7,374.1 L312.2,373.3 L312.7,372.4 L313.2,371.5 L313.7,370.5 L314.2,369.5 L314.7,368.5 L315.2,367.4 L315.7,366.3 L316.2,365.1 L316.7,363.9 L317.2,362.6 L317.7,361.3 L318.2,360 L318.7,358.6 L319.2,357.2 L319.7,355.8 L320.2,354.3 L320.7,352.8 L321.2,351.2 L321.7,349.6 L322.2,348 L322.7,346.3 L323.2,344.6 L323.7,342.9 L324.2,341.1 L324.7,339.4 L325.2,337.6 L325.7,335.8 L326.2,334 L326.7,332.2 L327.2,330.3 L327.7,328.5 L328.2,326.7 L328.7,324.8 L329.2,323 L329.7,321.2 L330.2,319.4 L330.7,317.6 L331.2,315.9 L331.7,314.1 L332.2,312.4 L332.7,310.8 L333.2,309.2 L333.7,307.6 L334.2,306 L334.7,304.6 L335.2,303.1 L335.7,301.8 L336.2,300.5 L336.7,299.2 L337.2,298.1 L337.7,297 L338.2,296 L338.7,295 L339.2,294.2 L339.7,293.4 L340.2,292.7 L340.7,292.1 L341.2,291.6 L341.7,291.2 L342.2,290.8 L342.7,290.6 L343.2,290.4 L343.7,290.4 L344.2,290.4 L344.7,290.6 L345.2,290.8 L345.7,291.2 L346.2,291.6 L346.7,292.1 L347.2,292.7 L347.7,293.4 L348.2,294.2 L348.7,295 L349.2,296 L349.7,297 L350.2,298.1 L350.7,299.2 L351.2,300.5 L351.7,301.8 L352.2,303.1 L352.7,304.6 L353.2,306 L353.7,307.6 L354.2,309.2 L354.7,310.8 L355.2,312.4 L355.7,314.1 L356.2,315.9 L356.7,317.6 L357.2,319.4 L357.7,321.2 L358.2,323 L358.7,324.8 L359.2,326.7 L359.7,328.5 L360.2,330.3 L360.7,332.2 L361.2,334 L361.7,335.8 L362.2,337.6 L362.7,339.4 L363.2,341.1 L363.7,342.9 L364.2,344.6 L364.7,346.3 L365.2,348 L365.7,349.6 L366.2,351.2 L366.7,352.8 L367.2,354.3 L367.7,355.8 L368.2,357.2 L368.7,358.6 L369.2,360 L369.7,361.3 L370.2,362.6 L370.7,363.9 L371.2,365.1 L371.7,366.3 L372.2,367.4 L372.7,368.5 L373.2,369.5 L373.7,370.5 L374.2,371.5 L374.7,372.4 L375.2,373.3 L375.7,374.1 L376.2,374.9 L376.7,375.7 L377.2,376.4 L377.7,377.1 L378.2,377.7 L378.7,378.4 L379.2,378.9 L379.7,379.5 L380.2,380 L380.7,380.5 L381.2,381 L381.7,381.4 L382.2,381.8 L382.7,382.2 L383.2,382.6 L383.7,382.9 L384.2,383.3 L384.7,383.6 L385.2,383.9 L385.7,384.1 L386.2,384.4 L386.7,384.6 L387.2,384.8 L387.7,385 L388.2,385.2 L388.7,385.3 L389.2,385.5 L389.7,385.6 L390.2,385.8 L390.7,385.9 L391.2,386 L391.7,386.1 L392.2,386.2 L392.7,386.3 L393.2,386.4 L393.7,386.5 L394.2,386.5 L394.7,386.6 L395.2,386.7 L395.7,386.7 L396.2,386.8 L396.7,386.8 L397.2,386.8 L397.7,386.9 L398.2,386.9 L398.7,386.9 L399.2,387 L399.7,387 L400.2,387 L400.7,387 L401.2,387 L401.7,387.1 L402.2,387.1 L402.7,387.1 L403.2,387.1 L403.7,387.1 L404.2,387.1 L404.7,387.1 L405.2,387.1 L405.7,387.1 L406.2,387.2 L406.7,387.2 L407.2,387.2 L407.7,387.2 L408.2,387.2 L408.7,387.2 L409.2,387.2 L409.7,387.2 L410.2,387.2 L410.7,387.2 L411.2,387.2 L411.7,387.2 L412.2,387.2 L412.7,387.2 L413.2,387.2 L413.7,387.2 L414.2,387.2 L414.7,387.2 L415.2,387.2 L415.7,387.2 L416.2,387.2 L416.7,387.2 L417.2,387.2 L417.7,387.2 L418.2,387.2 L418.7,387.2 L419.2,387.2 L419.7,387.2 L420.2,387.2 L420.7,387.2 L421.2,387.2 L421.7,387.2 L422.2,387.2 L422.7,387.2 L423.2,387.2 L423.7,387.2 L424.2,387.2 L424.7,387.2 L425.2,387.2 L425.7,387.2 L426.2,387.2 L426.7,387.2 L427.2,387.2 L427.7,387.2 L428.2,387.2 L428.7,387.2 L429.2,387.2 L429.7,387.2 L430.2,387.2 L430.7,387.2 L431.2,387.2 L431.7,387.2 L432.2,387.2 L432.7,387.2 L433.2,387.2 L433.7,387.2 L434.2,387.2 L434.7,387.2 L435.2,387.2 L435.7,387.2 L436.2,387.2 L436.7,387.2 L437.2,387.2 L437.7,387.2 L438.2,387.2 L438.7,387.2 L439.2,387.2 L439.7,387.2 L440.2,387.2 L440.7,387.2 L441.2,387.2 L441.7,387.2 L442.2,387.2 L442.7,387.2 L443.2,387.2 L443.7,387.2 L444.2,387.2 L444.7,387.2 L445.2,387.2 L445.7,387.2 L446.2,387.2 L446.7,387.2 L447.2,387.2 L447.7,387.2 L448.2,387.2 L448.7,387.2 L449.2,387.2" fill="none" stroke="#f07078" stroke-width="0.9" stroke-linejoin="round" />
<linearGradient id="g548128211" gradientUnits="userSpaceOnUse" x1="0" y1="368.8" x2="0" y2="387.2"><stop offset="0" stop-color="#b4d0ec"/><stop offset="1" stop-color="#fff" stop-opacity="0.6"/></linearGradient>
<path d="M258.2,387.2 L258.7,387.2 L259.2,387.2 L259.7,387.2 L260.2,387.2 L260.7,387.2 L261.2,387.2 L261.7,387.2 L262.2,387.2 L262.7,387.2 L263.2,387.2 L263.7,387.2 L264.2,387.2 L264.7,387.2 L265.2,387.2 L265.7,387.2 L266.2,387.2 L266.7,387.2 L267.2,387.2 L267.7,387.2 L268.2,387.2 L268.7,387.2 L269.2,387.2 L269.7,387.2 L270.2,387.2 L270.7,387.2 L271.2,387.2 L271.7,387.2 L272.2,387.2 L272.7,387.2 L273.2,387.2 L273.7,387.2 L274.2,387.2 L274.7,387.2 L275.2,387.2 L275.7,387.1 L276.2,387.1 L276.7,387.1 L277.2,387.1 L277.7,387.1 L278.2,387.1 L278.7,387 L279.2,387 L279.7,387 L280.2,386.9 L280.7,386.9 L281.2,386.8 L281.7,386.8 L282.2,386.7 L282.7,386.7 L283.2,386.6 L283.7,386.5 L284.2,386.4 L284.7,386.3 L285.2,386.2 L285.7,386 L286.2,385.9 L286.7,385.7 L287.2,385.5 L287.7,385.3 L288.2,385.1 L288.7,384.9 L289.2,384.6 L289.7,384.3 L290.2,384 L290.7,383.7 L291.2,383.4 L291.7,383 L292.2,382.6 L292.7,382.2 L293.2,381.8 L293.7,381.3 L294.2,380.8 L294.7,380.4 L295.2,379.8 L295.7,379.3 L296.2,378.8 L296.7,378.2 L297.2,377.7 L297.7,377.1 L298.2,376.5 L298.7,375.9 L299.2,375.3 L299.7,374.8 L300.2,374.2 L300.7,373.6 L301.2,373.1 L301.7,372.6 L302.2,372.1 L302.7,371.6 L303.2,371.1 L303.7,370.7 L304.2,370.3 L304.7,370 L305.2,369.7 L305.7,369.4 L306.2,369.2 L306.7,369 L307.2,368.9 L307.7,368.8 L308.2,368.8 L308.7,368.8 L309.2,368.9 L309.7,369 L310.2,369.2 L310.7,369.4 L311.2,369.7 L311.7,370 L312.2,370.3 L312.7,370.7 L313.2,371.1 L313.7,371.6 L314.2,372.1 L314.7,372.6 L315.2,373.1 L315.7,373.6 L316.2,374.2 L316.7,374.8 L317.2,375.3 L317.7,375.9 L318.2,376.5 L318.7,377.1 L319.2,377.7 L319.7,378.2 L320.2,378.8 L320.7,379.3 L321.2,379.8 L321.7,380.4 L322.2,380.8 L322.7,381.3 L323.2,381.8 L323.7,382.2 L324.2,382.6 L324.7,383 L325.2,383.4 L325.7,383.7 L326.2,384 L326.7,384.3 L327.2,384.6 L327.7,384.9 L328.2,385.1 L328.7,385.3 L329.2,385.5 L329.7,385.7 L330.2,385.9 L330.7,386 L331.2,386.2 L331.7,386.3 L332.2,386.4 L332.7,386.5 L333.2,386.6 L333.7,386.7 L334.2,386.7 L334.7,386.8 L335.2,386.8 L335.7,386.9 L336.2,386.9 L336.7,387 L337.2,387 L337.7,387 L338.2,387.1 L338.7,387.1 L339.2,387.1 L339.7,387.1 L340.2,387.1 L340.7,387.1 L341.2,387.2 L341.7,387.2 L342.2,387.2 L342.7,387.2 L343.2,387.2 L343.7,387.2 L344.2,387.2 L344.7,387.2 L345.2,387.2 L345.7,387.2 L346.2,387.2 L346.7,387.2 L347.2,387.2 L347.7,387.2 L348.2,387.2 L348.7,387.2 L349.2,387.2 L349.7,387.2 L350.2,387.2 L350.7,387.2 L351.2,387.2 L351.7,387.2 L352.2,387.2 L352.7,387.2 L353.2,387.2 L353.7,387.2 L354.2,387.2 L354.7,387.2 L355.2,387.2 L355.7,387.2 L356.2,387.2 L356.7,387.2 L357.2,387.2 L357.7,387.2 L358.2,387.2 L358.7,387.2 L359.2,387.2 L359.7,387.2 L360.2,387.2 L360.7,387.2 L361.2,387.2 L361.7,387.2 L362.2,387.2 L362.7,387.2 L363.2,387.2 L363.7,387.2 L364.2,387.2 L364.7,387.2 L365.2,387.2 L365.7,387.2 L366.2,387.2 L366.7,387.2 L367.2,387.2 L367.7,387.2 L368.2,387.2 L368.7,387.2 L369.2,387.2 L369.7,387.2 L370.2,387.2 L370.7,387.2 L371.2,387.2 L371.7,387.2 L372.2,387.2 L372.7,387.2 L373.2,387.2 L373.7,387.2 L374.2,387.2 L374.7,387.2 L375.2,387.2 L375.7,387.2 L376.2,387.2 L376.7,387.2 L377.2,387.2 L377.7,387.2 L378.2,387.2 L378.7,387.2 L379.2,387.2 L379.7,387.2 L380.2,387.2 L380.7,387.2 L381.2,387.2 L381.7,387.2 L382.2,387.2 L382.7,387.2 L383.2,387.2 L383.7,387.2 L384.2,387.2 L384.7,387.2 L385.2,387.2 L385.7,387.2 L386.2,387.2 L386.7,387.2 L387.2,387.2 L387.7,387.2 L388.2,387.2 L388.7,387.2 L389.2,387.2 L389.7,387.2 L390.2,387.2 L390.7,387.2 L391.2,387.2 L391.7,387.2 L392.2,387.2 L392.7,387.2 L393.2,387.2 L393.7,387.2 L394.2,387.2 L394.7,387.2 L395.2,387.2 L395.7,387.2 L396.2,387.2 L396.7,387.2 L397.2,387.2 L397.7,387.2 L398.2,387.2 L398.7,387.2 L399.2,387.2 L399.7,387.2 L400.2,387.2 L400.7,387.2 L401.2,387.2 L401.7,387.2 L402.2,387.2 L402.7,387.2 L403.2,387.2 L403.7,387.2 L404.2,387.2 L404.7,387.2 L405.2,387.2 L405.7,387.2 L406.2,387.2 L406.7,387.2 L407.2,387.2 L407.7,387.2 L408.2,387.2 L408.7,387.2 L409.2,387.2 L409.7,387.2 L410.2,387.2 L410.7,387.2 L411.2,387.2 L411.7,387.2 L412.2,387.2 L412.7,387.2 L413.2,387.2 L413.7,387.2 L414.2,387.2 L414.7,387.2 L415.2,387.2 L415.7,387.2 L416.2,387.2 L416.7,387.2 L417.2,387.2 L417.7,387.2 L418.2,387.2 L418.7,387.2 L419.2,387.2 L419.7,387.2 L420.2,387.2 L420.7,387.2 L421.2,387.2 L421.7,387.2 L422.2,387.2 L422.7,387.2 L423.2,387.2 L423.7,387.2 L424.2,387.2 L424.7,387.2 L425.2,387.2 L425.7,387.2 L426.2,387.2 L426.7,387.2 L427.2,387.2 L427.7,387.2 L428.2,387.2 L428.7,387.2 L429.2,387.2 L429.7,387.2 L430.2,387.2 L430.7,387.2 L431.2,387.2 L431.7,387.2 L432.2,387.2 L432.7,387.2 L433.2,387.2 L433.7,387.2 L434.2,387.2 L434.7,387.2 L435.2,387.2 L435.7,387.2 L436.2,387.2 L436.7,387.2 L437.2,387.2 L437.7,387.2 L438.2,387.2 L438.7,387.2 L439.2,387.2 L439.7,387.2 L440.2,387.2 L440.7,387.2 L441.2,387.2 L441.7,387.2 L442.2,387.2 L442.7,387.2 L443.2,387.2 L443.7,387.2 L444.2,387.2 L444.7,387.2 L445.2,387.2 L445.7,387.2 L446.2,387.2 L446.7,387.2 L447.2,387.2 L447.7,387.2 L448.2,387.2 L448.7,387.2 L449.2,387.2 L449.6,387.2 L258.2,387.2 Z" fill="url(#g548128211)" stroke="none"/>
<path d="M258.2,387.2 L258.7,387.2 L259.2,387.2 L259.7,387.2 L260.2,387.2 L260.7,387.2 L261.2,387.2 L261.7,387.2 L262.2,387.2 L262.7,387.2 L263.2,387.2 L263.7,387.2 L264.2,387.2 L264.7,387.2 L265.2,387.2 L265.7,387.2 L266.2,387.2 L266.7,387.2 L267.2,387.2 L267.7,387.2 L268.2,387.2 L268.7,387.2 L269.2,387.2 L269.7,387.2 L270.2,387.2 L270.7,387.2 L271.2,387.2 L271.7,387.2 L272.2,387.2 L272.7,387.2 L273.2,387.2 L273.7,387.2 L274.2,387.2 L274.7,387.2 L275.2,387.2 L275.7,387.1 L276.2,387.1 L276.7,387.1 L277.2,387.1 L277.7,387.1 L278.2,387.1 L278.7,387 L279.2,387 L279.7,387 L280.2,386.9 L280.7,386.9 L281.2,386.8 L281.7,386.8 L282.2,386.7 L282.7,386.7 L283.2,386.6 L283.7,386.5 L284.2,386.4 L284.7,386.3 L285.2,386.2 L285.7,386 L286.2,385.9 L286.7,385.7 L287.2,385.5 L287.7,385.3 L288.2,385.1 L288.7,384.9 L289.2,384.6 L289.7,384.3 L290.2,384 L290.7,383.7 L291.2,383.4 L291.7,383 L292.2,382.6 L292.7,382.2 L293.2,381.8 L293.7,381.3 L294.2,380.8 L294.7,380.4 L295.2,379.8 L295.7,379.3 L296.2,378.8 L296.7,378.2 L297.2,377.7 L297.7,377.1 L298.2,376.5 L298.7,375.9 L299.2,375.3 L299.7,374.8 L300.2,374.2 L300.7,373.6 L301.2,373.1 L301.7,372.6 L302.2,372.1 L302.7,371.6 L303.2,371.1 L303.7,370.7 L304.2,370.3 L304.7,370 L305.2,369.7 L305.7,369.4 L306.2,369.2 L306.7,369 L307.2,368.9 L307.7,368.8 L308.2,368.8 L308.7,368.8 L309.2,368.9 L309.7,369 L310.2,369.2 L310.7,369.4 L311.2,369.7 L311.7,370 L312.2,370.3 L312.7,370.7 L313.2,371.1 L313.7,371.6 L314.2,372.1 L314.7,372.6 L315.2,373.1 L315.7,373.6 L316.2,374.2 L316.7,374.8 L317.2,375.3 L317.7,375.9 L318.2,376.5 L318.7,377.1 L319.2,377.7 L319.7,378.2 L320.2,378.8 L320.7,379.3 L321.2,379.8 L321.7,380.4 L322.2,380.8 L322.7,381.3 L323.2,381.8 L323.7,382.2 L324.2,382.6 L324.7,383 L325.2,383.4 L325.7,383.7 L326.2,384 L326.7,384.3 L327.2,384.6 L327.7,384.9 L328.2,385.1 L328.7,385.3 L329.2,385.5 L329.7,385.7 L330.2,385.9 L330.7,386 L331.2,386.2 L331.7,386.3 L332.2,386.4 L332.7,386.5 L333.2,386.6 L333.7,386.7 L334.2,386.7 L334.7,386.8 L335.2,386.8 L335.7,386.9 L336.2,386.9 L336.7,387 L337.2,387 L337.7,387 L338.2,387.1 L338.7,387.1 L339.2,387.1 L339.7,387.1 L340.2,387.1 L340.7,387.1 L341.2,387.2 L341.7,387.2 L342.2,387.2 L342.7,387.2 L343.2,387.2 L343.7,387.2 L344.2,387.2 L344.7,387.2 L345.2,387.2 L345.7,387.2 L346.2,387.2 L346.7,387.2 L347.2,387.2 L347.7,387.2 L348.2,387.2 L348.7,387.2 L349.2,387.2 L349.7,387.2 L350.2,387.2 L350.7,387.2 L351.2,387.2 L351.7,387.2 L352.2,387.2 L352.7,387.2 L353.2,387.2 L353.7,387.2 L354.2,387.2 L354.7,387.2 L355.2,387.2 L355.7,387.2 L356.2,387.2 L356.7,387.2 L357.2,387.2 L357.7,387.2 L358.2,387.2 L358.7,387.2 L359.2,387.2 L359.7,387.2 L360.2,387.2 L360.7,387.2 L361.2,387.2 L361.7,387.2 L362.2,387.2 L362.7,387.2 L363.2,387.2 L363.7,387.2 L364.2,387.2 L364.7,387.2 L365.2,387.2 L365.7,387.2 L366.2,387.2 L366.7,387.2 L367.2,387.2 L367.7,387.2 L368.2,387.2 L368.7,387.2 L369.2,387.2 L369.7,387.2 L370.2,387.2 L370.7,387.2 L371.2,387.2 L371.7,387.2 L372.2,387.2 L372.7,387.2 L373.2,387.2 L373.7,387.2 L374.2,387.2 L374.7,387.2 L375.2,387.2 L375.7,387.2 L376.2,387.2 L376.7,387.2 L377.2,387.2 L377.7,387.2 L378.2,387.2 L378.7,387.2 L379.2,387.2 L379.7,387.2 L380.2,387.2 L380.7,387.2 L381.2,387.2 L381.7,387.2 L382.2,387.2 L382.7,387.2 L383.2,387.2 L383.7,387.2 L384.2,387.2 L384.7,387.2 L385.2,387.2 L385.7,387.2 L386.2,387.2 L386.7,387.2 L387.2,387.2 L387.7,387.2 L388.2,387.2 L388.7,387.2 L389.2,387.2 L389.7,387.2 L390.2,387.2 L390.7,387.2 L391.2,387.2 L391.7,387.2 L392.2,387.2 L392.7,387.2 L393.2,387.2 L393.7,387.2 L394.2,387.2 L394.7,387.2 L395.2,387.2 L395.7,387.2 L396.2,387.2 L396.7,387.2 L397.2,387.2 L397.7,387.2 L398.2,387.2 L398.7,387.2 L399.2,387.2 L399.7,387.2 L400.2,387.2 L400.7,387.2 L401.2,387.2 L401.7,387.2 L402.2,387.2 L402.7,387.2 L403.2,387.2 L403.7,387.2 L404.2,387.2 L404.7,387.2 L405.2,387.2 L405.7,387.2 L406.2,387.2 L406.7,387.2 L407.2,387.2 L407.7,387.2 L408.2,387.2 L408.7,387.2 L409.2,387.2 L409.7,387.2 L410.2,387.2 L410.7,387.2 L411.2,387.2 L411.7,387.2 L412.2,387.2 L412.7,387.2 L413.2,387.2 L413.7,387.2 L414.2,387.2 L414.7,387.2 L415.2,387.2 L415.7,387.2 L416.2,387.2 L416.7,387.2 L417.2,387.2 L417.7,387.2 L418.2,387.2 L418.7,387.2 L419.2,387.2 L419.7,387.2 L420.2,387.2 L420.7,387.2 L421.2,387.2 L421.7,387.2 L422.2,387.2 L422.7,387.2 L423.2,387.2 L423.7,387.2 L424.2,387.2 L424.7,387.2 L425.2,387.2 L425.7,387.2 L426.2,387.2 L426.7,387.2 L427.2,387.2 L427.7,387.2 L428.2,387.2 L428.7,387.2 L429.2,387.2 L429.7,387.2 L430.2,387.2 L430.7,387.2 L431.2,387.2 L431.7,387.2 L432.2,387.2 L432.7,387.2 L433.2,387.2 L433.7,387.2 L434.2,387.2 L434.7,387.2 L435.2,387.2 L435.7,387.2 L436.2,387.2 L436.7,387.2 L437.2,387.2 L437.7,387.2 L438.2,387.2 L438.7,387.2 L439.2,387.2 L439.7,387.2 L440.2,387.2 L440.7,387.2 L441.2,387.2 L441.7,387.2 L442.2,387.2 L442.7,387.2 L443.2,387.2 L443.7,387.2 L444.2,387.2 L444.7,387.2 L445.2,387.2 L445.7,387.2 L446.2,387.2 L446.7,387.2 L447.2,387.2 L447.7,387.2 L448.2,387.2 L448.7,387.2 L449.2,387.2" fill="none" stroke="#7aaee0" stroke-width="0.9" stroke-linejoin="round" />
<line x1="258.2" y1="387.2" x2="449.6" y2="387.2" stroke="#7aaee0" stroke-width="0.9" />
<path d="M258.6,387.3 L258.9,387.1 L259.3,387.5 L259.8,387.2 L260.3,387.2 L260.9,387 L261.5,386.6 L262.1,387 L262.7,386.7 L263.3,387.5 L263.9,387.9 L264.5,388 L265,388.5 L265.6,388.6 L266.1,388.7 L266.6,388.9 L267.1,388.4 L267.6,388.2 L268.1,387.6 L268.5,387.4 L269,387.4 L269.5,387.2 L270,387.4 L270.5,387.1 L271,387.2 L271.4,387 L271.9,387.3 L272.3,387.1 L272.8,387.1 L273.3,387.8 L273.8,387.9 L274.4,387.8 L275,387.9 L275.4,388.1 L275.9,388.4 L276.4,388.2 L276.9,388 L277.4,388 L277.9,387.8 L278.5,387.7 L279,387.5 L279.6,387.7 L280.1,387.2 L280.6,387.4 L281.2,387 L281.7,386.8 L282.1,387 L282.6,386.9 L283.1,386.5 L283.5,386.5 L283.9,386.1 L284.4,385.7 L284.8,385.5 L285.2,384.8 L285.6,384.5 L286,384.5 L286.3,383.9 L286.7,383.9 L287.1,383.1 L287.5,382.7 L287.9,382.2 L288.3,382.2 L288.7,381.6 L289.1,381 L289.5,380.5 L289.9,380.5 L290.3,379.8 L290.7,380 L291.1,379.4 L291.6,379.5 L292,379.3 L292.4,378.7 L292.8,378.6 L293.2,378.4 L293.6,377.9 L294,377.5 L294.3,377.5 L294.7,376.8 L295,376.6 L295.3,375.9 L295.7,375.8 L296,375.7 L296.3,374.9 L296.7,374.6 L297,373.9 L297.4,373.4 L297.7,372.9 L298,372.7 L298.4,371.8 L298.7,371.1 L299,370.9 L299.4,370.4 L299.7,370 L300,369.5 L300.3,369 L300.6,368.9 L300.9,368.3 L301.2,368 L301.5,367.7 L301.8,367.3 L302.1,367.1 L302.4,367.1 L302.7,366.7 L303,366.4 L303.3,365.9 L303.6,365.6 L303.9,365.5 L304.2,365.3 L304.5,364.4 L304.8,364.4 L305.1,364.2 L305.4,363.5 L305.7,363.3 L306,362.5 L306.3,362.4 L306.6,361.6 L306.8,361.3 L307.1,360.8 L307.4,360.3 L307.7,360.3 L308,359.7 L308.3,359.3 L308.6,359.1 L308.9,358.4 L309.2,358.4 L309.5,357.6 L309.7,357.7 L310,357.2 L310.3,356.6 L310.6,356.5 L310.8,356.1 L311.1,355.8 L311.4,355 L311.6,354.7 L311.9,354.2 L312.2,353.9 L312.4,353.5 L312.7,353.3 L312.9,352.5 L313.1,352.2 L313.4,351.6 L313.6,351.2 L313.9,350.5 L314.1,350.3 L314.3,349.8 L314.6,349.3 L314.8,349 L315.1,348.2 L315.3,347.6 L315.6,347.5 L315.8,346.6 L316,346 L316.3,345.7 L316.5,345.4 L316.8,344.7 L317,344.2 L317.3,343.7 L317.5,343.6 L317.7,343.1 L318,342.9 L318.2,342.1 L318.5,341.9 L318.7,341.2 L318.9,340.8 L319.2,340.3 L319.4,340.1 L319.7,339.6 L320,338.9 L320.2,338.5 L320.5,337.9 L320.7,337.5 L320.9,336.9 L321,336.4 L321.2,335.9 L321.4,335.6 L321.6,334.8 L321.8,334.3 L321.9,334.3 L322.1,333.7 L322.3,333 L322.5,332.6 L322.7,331.6 L322.9,331.5 L323.1,330.9 L323.3,330.2 L323.5,329.6 L323.7,329.3 L323.9,329 L324.1,328.4 L324.3,327.5 L324.5,327.3 L324.7,326.7 L324.8,326.1 L325,325.6 L325.2,325.4 L325.4,324.8 L325.6,324.4 L325.8,324 L326,323.8 L326.2,323 L326.4,322.8 L326.6,322.4 L326.7,322.1 L326.9,321.7 L327.1,320.9 L327.3,320.8 L327.4,319.9 L327.6,319.7 L327.8,319.4 L328,319 L328.2,318.2 L328.3,318 L328.5,317.5 L328.7,316.6 L328.9,316.6 L329,316.1 L329.2,315.2 L329.4,314.9 L329.6,314.5 L329.8,314.3 L329.9,313.8 L330.1,312.9 L330.3,312.5 L330.5,311.9 L330.7,311.4 L330.8,311 L331,311 L331.2,310.5 L331.4,309.6 L331.5,309.4 L331.7,309 L331.9,308.5 L332.1,308.2 L332.3,307.2 L332.5,306.8 L332.8,306.2 L333,306.2 L333.2,305.6 L333.4,304.9 L333.6,304.2 L333.8,304.1 L334,303.6 L334.3,303.1 L334.5,302.7 L334.7,302 L334.9,301.5 L335.1,301.2 L335.3,300.3 L335.6,300.3 L335.8,299.5 L336,299.1 L336.2,298.9 L336.4,298 L336.6,297.8 L336.8,297.7 L337,297 L337.2,296.9 L337.4,296.4 L337.6,295.8 L338,295.2 L338.3,294.5 L338.7,294 L339.1,293.4 L339.4,292.7 L339.8,291.8 L340.1,291.7 L340.5,290.8 L340.8,290.5 L341.1,290.2 L341.5,289.5 L341.8,288.9 L342.1,288.9 L342.4,288.4 L343,288.1 L343.6,288.1 L344.1,288.3 L344.6,288.8 L345.1,289.4 L345.7,289.7 L346.2,290.4 L346.5,290.2 L346.8,290.6 L347.1,290.8 L347.4,291.2 L347.7,291.5 L348,291.6 L348.4,292 L348.7,292.4 L349,292.9 L349.3,293.3 L349.7,294.4 L350,294.7 L350.2,295.3 L350.3,295.6 L350.5,296.2 L350.7,296.8 L350.8,297.3 L351,297.8 L351.2,298.1 L351.3,298.4 L351.5,298.7 L351.7,299.3 L351.9,300.3 L352.1,300.5 L352.2,301 L352.4,301.5 L352.6,302.1 L352.8,302.5 L353,303.1 L353.2,303.8 L353.3,304.3 L353.5,304.7 L353.7,305.3 L353.9,305.8 L354.1,306.7 L354.3,307.4 L354.5,308.1 L354.7,308.4 L354.8,309 L355,309.5 L355.1,309.8 L355.2,310.2 L355.4,310.4 L355.5,311.2 L355.7,311.6 L355.8,311.8 L355.9,312.5 L356.1,312.7 L356.2,313.1 L356.4,313.7 L356.5,314.3 L356.7,314.7 L356.8,315.1 L357,316.1 L357.1,316.4 L357.3,316.7 L357.4,317 L357.6,317.9 L357.7,318.6 L357.9,318.9 L358,319.4 L358.2,320.1 L358.3,320.5 L358.5,320.6 L358.6,321.3 L358.8,321.8 L358.9,322.4 L359.1,322.7 L359.2,323.5 L359.4,324 L359.5,324.3 L359.7,325 L359.8,325.3 L360,326 L360.1,326.4 L360.3,327.2 L360.4,327.4 L360.5,327.6 L360.7,328.1 L360.8,329 L361,329.1 L361.1,330 L361.3,330.4 L361.4,330.8 L361.6,331.3 L361.7,332.1 L361.9,332.4 L362,332.9 L362.2,333.4 L362.3,334 L362.4,334.4 L362.6,335.1 L362.7,335.4 L362.9,335.9 L363,336.3 L363.2,337 L363.3,337.4 L363.5,337.9 L363.6,338.5 L363.8,339.1 L363.9,340 L364.1,340.3 L364.2,340.7 L364.3,341.3 L364.5,341.8 L364.6,342.1 L364.8,343.1 L364.9,343.5 L365.1,344.3 L365.2,344.6 L365.4,344.9 L365.5,345.8 L365.7,345.8 L365.8,346.3 L366,346.8 L366.1,347.3 L366.3,347.8 L366.5,348.9 L366.6,349 L366.8,349.7 L367,350 L367.2,350.6 L367.3,351 L367.5,351.7 L367.7,352.1 L367.9,352.8 L368.1,353.5 L368.2,353.4 L368.4,354 L368.6,354.6 L368.8,355.2 L369,355.1 L369.1,355.8 L369.3,356.1 L369.5,356.6 L369.7,357.1 L369.8,357.5 L370,357.7 L370.2,358.4 L370.4,358.6 L370.6,358.8 L370.7,359.2 L370.9,359.6 L371.1,360.3 L371.3,360.7 L371.4,360.7 L371.6,361.3 L371.8,361.4 L372.1,361.9 L372.3,362.8 L372.6,363.2 L372.8,363.6 L373.1,364 L373.4,364.4 L373.6,364.8 L373.9,365 L374.1,365.8 L374.4,365.5 L374.6,366.1 L374.9,366.1 L375.2,366.4 L375.4,366.3 L375.7,366.6 L375.9,367 L376.2,366.8 L376.5,367.3 L376.7,367.6 L377,367.8 L377.2,367.9 L377.5,368.5 L377.8,368.9 L378.1,369.7 L378.4,370.4 L378.6,370.9 L378.9,371.7 L379.2,372.2 L379.5,373.2 L379.8,373.8 L380.1,374.6 L380.4,374.9 L380.6,375.9 L380.9,376.5 L381.2,377.1 L381.5,377.8 L381.8,378 L382.1,378.5 L382.3,379.2 L382.6,379.5 L382.9,380.3 L383.2,380.6 L383.6,380.8 L384,381.3 L384.4,381.5 L384.8,382 L385.2,382 L385.5,382.1 L385.9,382.8 L386.3,382.6 L386.7,382.8 L387.1,383.5 L387.6,383.7 L388,384.1 L388.4,384 L388.9,384.7 L389.3,384.8 L389.8,384.9 L390.3,384.8 L390.8,385.4 L391.3,385.3 L391.8,385.4 L392.3,385.6 L392.8,386.2 L393.3,385.9 L393.8,386.1 L394.4,386.4 L394.9,386.1 L395.4,385.6 L396,385 L396.5,384.5 L396.9,384.2 L397.2,384.2 L397.5,384.3 L397.7,384.2 L397.8,384.8 L398,385 L398.1,385.1 L398.3,385.3 L398.6,385.9 L398.9,386.7 L399.3,387.1 L399.8,387.9 L400.5,388.6 L401.3,388.8 L402.4,388.4 L403.6,387.5 L405,387.8 L405.3,387.6 L405.6,387.6 L406,388.1 L406.3,388 L406.7,388.4 L407.1,388.1 L407.5,388.1 L407.9,388.3 L408.3,387.6 L408.7,388 L409.1,387.5 L409.6,387.2 L410,387.4 L410.5,387.3 L411,387.4 L411.5,387.7 L412,387.9 L412.5,387.9 L413,388.6 L413.5,388.2 L414.1,388.2 L414.6,388.2 L415.2,387.9 L415.7,388.2 L416.3,387.5 L416.9,387.2 L417.4,387.3 L418,386.9 L418.6,386.5 L419.2,386.5 L419.8,386.3 L420.4,386.2 L421,386.6 L421.6,386.6 L422.2,386.9 L422.8,387.1 L423.4,387.5 L424,387.4 L424.6,387.5 L425.3,387.5 L425.9,387.8 L426.5,387.8 L427.1,388.2 L427.7,388.2 L428.3,388 L429,387.5 L429.6,387.6 L430.2,387.4 L430.8,387.8 L431.4,388.1 L432,387.9 L432.6,388 L433.2,388.6 L433.8,388.2 L434.4,388.1 L435,387.8 L435.6,387.6 L436.2,386.9 L436.7,386.8 L437.3,386.6 L437.9,386.6 L438.4,386.3 L439,385.9 L439.5,386 L440.1,386.5 L440.6,386.8 L441.1,386.5 L441.6,386.9 L442.1,387 L442.6,387.3 L443.1,387.2 L443.5,387.6 L444,387.6 L444.5,387.7 L444.9,388.3 L445.3,387.8 L445.7,388.2 L446.1,387.9 L446.5,387.6 L446.9,387.5 L447.3,387.4 L447.6,387.2 L447.9,387.4 L448.3,387.1 L448.6,387.3 L448.9,387.2 L449.1,387 L449.4,387.5" fill="none" stroke="#555" stroke-width="1.1" stroke-linejoin="round" />
<path d="M258.6,387.4 L258.9,387.4 L259.3,387.4 L259.8,387.4 L260.3,387.5 L260.9,387.5 L261.5,387.5 L262.1,387.5 L262.7,387.6 L263.3,387.6 L263.9,387.6 L264.5,387.6 L265,387.6 L265.6,387.6 L266.1,387.6 L266.6,387.5 L267.1,387.5 L267.6,387.5 L268.1,387.4 L268.5,387.4 L269,387.4 L269.5,387.4 L270,387.4 L270.5,387.4 L271,387.5 L271.4,387.6 L271.9,387.8 L272.3,387.9 L272.8,388 L273.3,388.1 L273.8,388.2 L274.4,388.2 L275,388.2 L275.4,388.2 L275.9,388.1 L276.4,388.1 L276.9,388 L277.4,388 L277.9,387.9 L278.5,387.8 L279,387.7 L279.6,387.6 L280.1,387.5 L280.6,387.4 L281.2,387.2 L281.7,387.1 L282.1,386.9 L282.6,386.7 L283.1,386.5 L283.5,386.2 L283.9,386 L284.4,385.7 L284.8,385.4 L285.2,385.1 L285.6,384.8 L286,384.5 L286.3,384.2 L286.7,383.8 L287.1,383.5 L287.5,383.2 L287.9,382.8 L288.3,382.5 L288.7,382.2 L289.1,381.9 L289.5,381.5 L289.9,381.2 L290.3,380.9 L290.7,380.6 L291.1,380.2 L291.6,379.9 L292,379.6 L292.4,379.2 L292.8,378.9 L293.2,378.5 L293.6,378.1 L294,377.7 L294.3,377.4 L294.7,377 L295,376.7 L295.3,376.3 L295.7,375.9 L296,375.5 L296.3,375.2 L296.7,374.8 L297,374.4 L297.4,374 L297.7,373.6 L298,373.2 L298.4,372.8 L298.7,372.3 L299,371.9 L299.4,371.5 L299.7,371.1 L300,370.7 L300.3,370.3 L300.6,370 L300.9,369.6 L301.2,369.2 L301.5,368.8 L301.8,368.4 L302.1,368 L302.4,367.6 L302.7,367.2 L303,366.8 L303.3,366.4 L303.6,366 L303.9,365.6 L304.2,365.2 L304.5,364.8 L304.8,364.3 L305.1,363.9 L305.4,363.5 L305.7,363.1 L306,362.7 L306.3,362.3 L306.6,361.9 L306.8,361.4 L307.1,361 L307.4,360.6 L307.7,360.2 L308,359.7 L308.3,359.3 L308.6,358.9 L308.9,358.5 L309.2,358 L309.5,357.6 L309.7,357.2 L310,356.7 L310.3,356.3 L310.6,355.9 L310.8,355.4 L311.1,355 L311.4,354.5 L311.6,354.1 L311.9,353.6 L312.2,353.2 L312.4,352.7 L312.7,352.3 L312.9,351.8 L313.1,351.4 L313.4,350.9 L313.6,350.5 L313.9,350 L314.1,349.6 L314.3,349.1 L314.6,348.7 L314.8,348.2 L315.1,347.8 L315.3,347.3 L315.6,346.9 L315.8,346.4 L316,346 L316.3,345.5 L316.5,345.1 L316.8,344.7 L317,344.3 L317.3,343.9 L317.5,343.5 L317.7,343.1 L318,342.7 L318.2,342.3 L318.5,341.9 L318.7,341.4 L318.9,341 L319.2,340.5 L319.4,340.1 L319.7,339.6 L320,339 L320.2,338.5 L320.5,337.9 L320.7,337.5 L320.9,337.1 L321,336.7 L321.2,336.3 L321.4,335.9 L321.6,335.4 L321.8,335 L321.9,334.5 L322.1,334.1 L322.3,333.6 L322.5,333.2 L322.7,332.7 L322.9,332.2 L323.1,331.7 L323.3,331.2 L323.5,330.7 L323.7,330.2 L323.9,329.7 L324.1,329.2 L324.3,328.7 L324.5,328.2 L324.7,327.7 L324.8,327.2 L325,326.7 L325.2,326.2 L325.4,325.7 L325.6,325.2 L325.8,324.7 L326,324.2 L326.2,323.7 L326.4,323.2 L326.6,322.8 L326.7,322.3 L326.9,321.8 L327.1,321.4 L327.3,320.9 L327.4,320.4 L327.6,319.9 L327.8,319.4 L328,318.9 L328.2,318.4 L328.3,318 L328.5,317.5 L328.7,317 L328.9,316.5 L329,316 L329.2,315.5 L329.4,315 L329.6,314.5 L329.8,314 L329.9,313.6 L330.1,313.1 L330.3,312.6 L330.5,312.1 L330.7,311.7 L330.8,311.2 L331,310.7 L331.2,310.3 L331.4,309.8 L331.5,309.4 L331.7,308.9 L331.9,308.5 L332.1,308 L332.3,307.5 L332.5,307 L332.8,306.4 L333,305.9 L333.2,305.4 L333.4,304.9 L333.6,304.4 L333.8,303.9 L334,303.4 L334.3,302.9 L334.5,302.4 L334.7,301.9 L334.9,301.5 L335.1,301 L335.3,300.5 L335.6,300.1 L335.8,299.6 L336,299.2 L336.2,298.8 L336.4,298.4 L336.6,297.9 L336.8,297.6 L337,297.2 L337.2,296.8 L337.4,296.4 L337.6,296.1 L338,295.5 L338.3,294.9 L338.7,294.3 L339.1,293.8 L339.4,293.3 L339.8,292.8 L340.1,292.4 L340.5,292 L340.8,291.7 L341.1,291.3 L341.5,291.1 L341.8,290.8 L342.1,290.6 L342.4,290.4 L343,290.2 L343.6,290.1 L344.1,290.2 L344.6,290.4 L345.1,290.6 L345.7,291 L346.2,291.4 L346.5,291.6 L346.8,291.9 L347.1,292.1 L347.4,292.4 L347.7,292.7 L348,293 L348.4,293.4 L348.7,293.8 L349,294.3 L349.3,294.8 L349.7,295.4 L350,296.1 L350.2,296.4 L350.3,296.8 L350.5,297.1 L350.7,297.5 L350.8,297.9 L351,298.3 L351.2,298.7 L351.3,299.1 L351.5,299.6 L351.7,300 L351.9,300.5 L352.1,300.9 L352.2,301.4 L352.4,301.9 L352.6,302.4 L352.8,302.9 L353,303.4 L353.2,304 L353.3,304.5 L353.5,305 L353.7,305.6 L353.9,306.2 L354.1,306.7 L354.3,307.3 L354.5,307.9 L354.7,308.5 L354.8,308.9 L355,309.3 L355.1,309.7 L355.2,310.2 L355.4,310.6 L355.5,311 L355.7,311.5 L355.8,312 L355.9,312.4 L356.1,312.9 L356.2,313.4 L356.4,313.8 L356.5,314.3 L356.7,314.8 L356.8,315.3 L357,315.8 L357.1,316.3 L357.3,316.8 L357.4,317.3 L357.6,317.8 L357.7,318.3 L357.9,318.8 L358,319.3 L358.2,319.8 L358.3,320.3 L358.5,320.9 L358.6,321.4 L358.8,321.9 L358.9,322.4 L359.1,322.9 L359.2,323.4 L359.4,323.9 L359.5,324.4 L359.7,324.9 L359.8,325.4 L360,325.9 L360.1,326.4 L360.3,326.9 L360.4,327.4 L360.5,327.9 L360.7,328.4 L360.8,328.9 L361,329.4 L361.1,329.9 L361.3,330.4 L361.4,330.9 L361.6,331.4 L361.7,331.9 L361.9,332.4 L362,332.9 L362.2,333.4 L362.3,333.9 L362.4,334.4 L362.6,334.9 L362.7,335.4 L362.9,335.9 L363,336.4 L363.2,336.9 L363.3,337.4 L363.5,337.9 L363.6,338.4 L363.8,338.9 L363.9,339.4 L364.1,339.9 L364.2,340.3 L364.3,340.8 L364.5,341.3 L364.6,341.8 L364.8,342.3 L364.9,342.7 L365.1,343.2 L365.2,343.7 L365.4,344.1 L365.5,344.6 L365.7,345.1 L365.8,345.5 L366,346 L366.1,346.4 L366.3,346.9 L366.5,347.5 L366.6,348 L366.8,348.5 L367,349 L367.2,349.6 L367.3,350.1 L367.5,350.6 L367.7,351.1 L367.9,351.6 L368.1,352.1 L368.2,352.6 L368.4,353.1 L368.6,353.6 L368.8,354.1 L369,354.6 L369.1,355.1 L369.3,355.5 L369.5,356 L369.7,356.5 L369.8,356.9 L370,357.4 L370.2,357.8 L370.4,358.3 L370.6,358.7 L370.7,359.2 L370.9,359.6 L371.1,360 L371.3,360.4 L371.4,360.8 L371.6,361.2 L371.8,361.6 L372.1,362.2 L372.3,362.7 L372.6,363.2 L372.8,363.7 L373.1,364.2 L373.4,364.6 L373.6,365.1 L373.9,365.5 L374.1,365.9 L374.4,366.4 L374.6,366.8 L374.9,367.2 L375.2,367.6 L375.4,368 L375.7,368.3 L375.9,368.7 L376.2,369.1 L376.5,369.5 L376.7,369.9 L377,370.3 L377.2,370.7 L377.5,371.1 L377.8,371.6 L378.1,372 L378.4,372.5 L378.6,372.9 L378.9,373.4 L379.2,373.8 L379.5,374.3 L379.8,374.7 L380.1,375.2 L380.4,375.6 L380.6,376.1 L380.9,376.5 L381.2,376.9 L381.5,377.4 L381.8,377.8 L382.1,378.2 L382.3,378.5 L382.6,378.9 L382.9,379.3 L383.2,379.6 L383.6,380.1 L384,380.5 L384.4,380.9 L384.8,381.3 L385.2,381.7 L385.5,382 L385.9,382.4 L386.3,382.7 L386.7,383 L387.1,383.3 L387.6,383.6 L388,383.9 L388.4,384.1 L388.9,384.4 L389.3,384.6 L389.8,384.8 L390.3,385 L390.8,385.2 L391.3,385.4 L391.8,385.6 L392.3,385.7 L392.8,385.9 L393.3,386 L393.8,386.2 L394.4,386.3 L394.9,386.4 L395.4,386.5 L396,386.6 L396.5,386.7 L396.9,386.8 L397.2,386.8 L397.5,386.9 L397.7,387 L397.8,387 L398,387 L398.1,387.1 L398.3,387.1 L398.6,387.1 L398.9,387.1 L399.3,387.1 L399.8,387.1 L400.5,387.2 L401.3,387.2 L402.4,387.2 L403.6,387.2 L405,387.2 L405.3,387.2 L405.6,387.2 L406,387.2 L406.3,387.2 L406.7,387.2 L407.1,387.2 L407.5,387.2 L407.9,387.2 L408.3,387.2 L408.7,387.2 L409.1,387.2 L409.6,387.2 L410,387.2 L410.5,387.2 L411,387.2 L411.5,387.2 L412,387.2 L412.5,387.2 L413,387.2 L413.5,387.2 L414.1,387.2 L414.6,387.2 L415.2,387.2 L415.7,387.2 L416.3,387.2 L416.9,387.2 L417.4,387.2 L418,387.2 L418.6,387.2 L419.2,387.2 L419.8,387.2 L420.4,387.2 L421,387.2 L421.6,387.2 L422.2,387.2 L422.8,387.2 L423.4,387.2 L424,387.2 L424.6,387.2 L425.3,387.2 L425.9,387.2 L426.5,387.2 L427.1,387.2 L427.7,387.2 L428.3,387.2 L429,387.2 L429.6,387.2 L430.2,387.2 L430.8,387.2 L431.4,387.2 L432,387.2 L432.6,387.2 L433.2,387.2 L433.8,387.2 L434.4,387.2 L435,387.2 L435.6,387.2 L436.2,387.2 L436.7,387.2 L437.3,387.2 L437.9,387.2 L438.4,387.2 L439,387.2 L439.5,387.2 L440.1,387.2 L440.6,387.2 L441.1,387.2 L441.6,387.2 L442.1,387.2 L442.6,387.2 L443.1,387.2 L443.5,387.2 L444,387.2 L444.5,387.2 L444.9,387.2 L445.3,387.2 L445.7,387.2 L446.1,387.2 L446.5,387.2 L446.9,387.2 L447.3,387.2 L447.6,387.2 L447.9,387.2 L448.3,387.2 L448.6,387.2 L448.9,387.2 L449.1,387.2 L449.4,387.2" fill="none" stroke="#f2cc30" stroke-width="1.3" stroke-linejoin="round" stroke-dasharray="3.3,2.2"/>
<rect x="258.2" y="243.4" width="191.4" height="154.5" fill="none" stroke="#1a1a1a" stroke-width="1.3" />
<line x1="258.5" y1="397.9" x2="258.5" y2="395.9" stroke="#1a1a1a" stroke-width="1" />
<line x1="272.1" y1="397.9" x2="272.1" y2="396.7" stroke="#1a1a1a" stroke-width="1" />
<text x="258.5" y="407.5" font-size="9.7" text-anchor="middle" font-weight="bold" fill="#000" font-family="Liberation Serif" >5</text>
<line x1="285.8" y1="397.9" x2="285.8" y2="395.9" stroke="#1a1a1a" stroke-width="1" />
<line x1="299.4" y1="397.9" x2="299.4" y2="396.7" stroke="#1a1a1a" stroke-width="1" />
<text x="285.8" y="407.5" font-size="9.7" text-anchor="middle" font-weight="bold" fill="#000" font-family="Liberation Serif" >10</text>
<line x1="313.1" y1="397.9" x2="313.1" y2="395.9" stroke="#1a1a1a" stroke-width="1" />
<line x1="326.8" y1="397.9" x2="326.8" y2="396.7" stroke="#1a1a1a" stroke-width="1" />
<text x="313.1" y="407.5" font-size="9.7" text-anchor="middle" font-weight="bold" fill="#000" font-family="Liberation Serif" >15</text>
<line x1="340.4" y1="397.9" x2="340.4" y2="395.9" stroke="#1a1a1a" stroke-width="1" />
<line x1="354.1" y1="397.9" x2="354.1" y2="396.7" stroke="#1a1a1a" stroke-width="1" />
<text x="340.4" y="407.5" font-size="9.7" text-anchor="middle" font-weight="bold" fill="#000" font-family="Liberation Serif" >20</text>
<line x1="367.7" y1="397.9" x2="367.7" y2="395.9" stroke="#1a1a1a" stroke-width="1" />
<line x1="381.4" y1="397.9" x2="381.4" y2="396.7" stroke="#1a1a1a" stroke-width="1" />
<text x="367.7" y="407.5" font-size="9.7" text-anchor="middle" font-weight="bold" fill="#000" font-family="Liberation Serif" >25</text>
<line x1="395" y1="397.9" x2="395" y2="395.9" stroke="#1a1a1a" stroke-width="1" />
<line x1="408.6" y1="397.9" x2="408.6" y2="396.7" stroke="#1a1a1a" stroke-width="1" />
<text x="395" y="407.5" font-size="9.7" text-anchor="middle" font-weight="bold" fill="#000" font-family="Liberation Serif" >30</text>
<line x1="422.3" y1="397.9" x2="422.3" y2="395.9" stroke="#1a1a1a" stroke-width="1" />
<line x1="435.9" y1="397.9" x2="435.9" y2="396.7" stroke="#1a1a1a" stroke-width="1" />
<text x="422.3" y="407.5" font-size="9.7" text-anchor="middle" font-weight="bold" fill="#000" font-family="Liberation Serif" >35</text>
<line x1="449.6" y1="397.9" x2="449.6" y2="395.9" stroke="#1a1a1a" stroke-width="1" />
<line x1="463.2" y1="397.9" x2="463.2" y2="396.7" stroke="#1a1a1a" stroke-width="1" />
<text x="449.6" y="407.5" font-size="9.7" text-anchor="middle" font-weight="bold" fill="#000" font-family="Liberation Serif" >40</text>
<text x="353.7" y="425.9" font-size="12.8" text-anchor="middle" font-weight="bold" fill="#000" font-family="Liberation Serif" >2θ (degree)</text>
<text transform="translate(249,321) rotate(-90)" font-size="12.9" text-anchor="middle" font-weight="bold" fill="#000" font-family="Liberation Serif">Intensity</text>
<line x1="260.4" y1="250.9" x2="277" y2="250.9" stroke="#777" stroke-width="1.4" />
<text x="281.9" y="254" font-size="9.5" text-anchor="start" font-weight="bold" fill="#000" font-family="Liberation Serif" >Experimental data</text>
<line x1="260.4" y1="262.4" x2="277" y2="262.4" stroke="#f2cc30" stroke-width="1.6" stroke-dasharray="3.3,2.6"/>
<text x="281.9" y="265.5" font-size="9.5" text-anchor="start" font-weight="bold" fill="#000" font-family="Liberation Serif" >Fitting curve</text>
<linearGradient id="lg309153192" x1="0" y1="0" x2="0" y2="1"><stop offset="0" stop-color="#f4bcc6"/><stop offset="1" stop-color="#fff"/></linearGradient>
<rect x="260.4" y="270" width="16.6" height="7.9" fill="url(#lg309153192)" stroke="#f28a94" stroke-width="0.9" />
<text x="281.9" y="277" font-size="9.5" text-anchor="start" font-weight="bold" fill="#000" font-family="Liberation Serif" >π-stack</text>
<linearGradient id="lg165898425" x1="0" y1="0" x2="0" y2="1"><stop offset="0" stop-color="#c4daf0"/><stop offset="1" stop-color="#fff"/></linearGradient>
<rect x="260.4" y="281.5" width="16.6" height="7.9" fill="url(#lg165898425)" stroke="#90b8e0" stroke-width="0.9" />
<text x="281.9" y="288.5" font-size="9.5" text-anchor="start" font-weight="bold" fill="#000" font-family="Liberation Serif" >amorphous</text>
<text x="420.6" y="262.4" font-size="13" text-anchor="middle" font-weight="bold" fill="#000" font-family="Liberation Serif" >PEI</text>
<text x="401.1" y="301.8" font-size="9.4" text-anchor="middle" font-weight="bold" fill="#f22222" font-family="Liberation Serif" >2θ = 20.74 (°)</text>
<text x="404" y="315.4" font-size="9.4" text-anchor="middle" font-weight="bold" fill="#f22222" font-family="Liberation Serif" ><tspan font-style="italic">d</tspan>-spacing = 4.28 (Å)</text>
<text x="392.6" y="330.6" font-size="10.3" text-anchor="middle" font-weight="bold" fill="#000" font-family="Liberation Serif" >90.03%</text>
<text x="293.8" y="320.8" font-size="9.4" text-anchor="middle" font-weight="bold" fill="#f22222" font-family="Liberation Serif" >2θ = 14.12 (°)</text>
<text x="289.1" y="335.3" font-size="9.4" text-anchor="middle" font-weight="bold" fill="#f22222" font-family="Liberation Serif" ><tspan font-style="italic">d</tspan>-spacing</text>
<text x="289.1" y="347.3" font-size="9.4" text-anchor="middle" font-weight="bold" fill="#f22222" font-family="Liberation Serif" >= 6.27 (Å)</text>
<text x="286.8" y="361.4" font-size="10.3" text-anchor="middle" font-weight="bold" fill="#000" font-family="Liberation Serif" >9.97%</text>
<line x1="362.9" y1="341.2" x2="374.4" y2="329.2" stroke="#f07078" stroke-width="1.1" />
<line x1="374.4" y1="329.2" x2="370.6" y2="330.4" stroke="#f07078" stroke-width="1.1" />
<line x1="374.4" y1="329.2" x2="373.4" y2="333.1" stroke="#f07078" stroke-width="1.1" />
<line x1="299.8" y1="377.6" x2="293.7" y2="366.1" stroke="#7aaee0" stroke-width="1.1" />
<line x1="293.7" y1="366.1" x2="293.7" y2="370.1" stroke="#7aaee0" stroke-width="1.1" />
<line x1="293.7" y1="366.1" x2="297" y2="368.3" stroke="#7aaee0" stroke-width="1.1" />
<text x="461.2" y="236" font-size="36" text-anchor="start" font-weight="bold" fill="#000" font-family="Liberation Serif" >f</text>
<linearGradient id="g674139233" gradientUnits="userSpaceOnUse" x1="0" y1="357.2" x2="0" y2="381.5"><stop offset="0" stop-color="#f09eac"/><stop offset="1" stop-color="#fff" stop-opacity="0.6"/></linearGradient>
<path d="M484.4,381.5 L484.9,381.5 L485.4,381.5 L485.9,381.5 L486.4,381.5 L486.9,381.5 L487.4,381.5 L487.9,381.5 L488.4,381.5 L488.9,381.5 L489.4,381.5 L489.9,381.5 L490.4,381.5 L490.9,381.5 L491.4,381.5 L491.9,381.5 L492.4,381.5 L492.9,381.5 L493.4,381.5 L493.9,381.5 L494.4,381.5 L494.9,381.5 L495.4,381.5 L495.9,381.5 L496.4,381.5 L496.9,381.5 L497.4,381.5 L497.9,381.5 L498.4,381.5 L498.9,381.5 L499.4,381.5 L499.9,381.5 L500.4,381.5 L500.9,381.5 L501.4,381.5 L501.9,381.5 L502.4,381.5 L502.9,381.5 L503.4,381.5 L503.9,381.5 L504.4,381.5 L504.9,381.5 L505.4,381.5 L505.9,381.5 L506.4,381.5 L506.9,381.5 L507.4,381.5 L507.9,381.5 L508.4,381.5 L508.9,381.5 L509.4,381.5 L509.9,381.5 L510.4,381.5 L510.9,381.5 L511.4,381.5 L511.9,381.5 L512.4,381.5 L512.9,381.5 L513.4,381.5 L513.9,381.5 L514.4,381.5 L514.9,381.5 L515.4,381.5 L515.9,381.5 L516.4,381.5 L516.9,381.5 L517.4,381.5 L517.9,381.5 L518.4,381.5 L518.9,381.5 L519.4,381.5 L519.9,381.5 L520.4,381.5 L520.9,381.5 L521.4,381.5 L521.9,381.5 L522.4,381.5 L522.9,381.5 L523.4,381.5 L523.9,381.5 L524.4,381.5 L524.9,381.5 L525.4,381.5 L525.9,381.5 L526.4,381.5 L526.9,381.5 L527.4,381.5 L527.9,381.5 L528.4,381.5 L528.9,381.5 L529.4,381.5 L529.9,381.5 L530.4,381.5 L530.9,381.5 L531.4,381.5 L531.9,381.5 L532.4,381.5 L532.9,381.5 L533.4,381.5 L533.9,381.5 L534.4,381.5 L534.9,381.5 L535.4,381.5 L535.9,381.5 L536.4,381.5 L536.9,381.5 L537.4,381.5 L537.9,381.5 L538.4,381.5 L538.9,381.5 L539.4,381.5 L539.9,381.5 L540.4,381.5 L540.9,381.5 L541.4,381.5 L541.9,381.5 L542.4,381.5 L542.9,381.5 L543.4,381.5 L543.9,381.5 L544.4,381.4 L544.9,381.4 L545.4,381.4 L545.9,381.4 L546.4,381.4 L546.9,381.4 L547.4,381.4 L547.9,381.4 L548.4,381.3 L548.9,381.3 L549.4,381.3 L549.9,381.3 L550.4,381.2 L550.9,381.2 L551.4,381.1 L551.9,381.1 L552.4,381 L552.9,381 L553.4,380.9 L553.9,380.8 L554.4,380.8 L554.9,380.7 L555.4,380.6 L555.9,380.5 L556.4,380.3 L556.9,380.2 L557.4,380.1 L557.9,379.9 L558.4,379.8 L558.9,379.6 L559.4,379.4 L559.9,379.2 L560.4,379 L560.9,378.7 L561.4,378.5 L561.9,378.2 L562.4,377.9 L562.9,377.6 L563.4,377.3 L563.9,376.9 L564.4,376.6 L564.9,376.2 L565.4,375.8 L565.9,375.4 L566.4,374.9 L566.9,374.4 L567.4,374 L567.9,373.5 L568.4,372.9 L568.9,372.4 L569.4,371.8 L569.9,371.3 L570.4,370.7 L570.9,370.1 L571.4,369.5 L571.9,368.9 L572.4,368.3 L572.9,367.6 L573.4,367 L573.9,366.4 L574.4,365.8 L574.9,365.1 L575.4,364.5 L575.9,363.9 L576.4,363.3 L576.9,362.7 L577.4,362.2 L577.9,361.6 L578.4,361.1 L578.9,360.6 L579.4,360.1 L579.9,359.7 L580.4,359.2 L580.9,358.9 L581.4,358.5 L581.9,358.2 L582.4,357.9 L582.9,357.7 L583.4,357.5 L583.9,357.4 L584.4,357.3 L584.9,357.2 L585.4,357.2 L585.9,357.2 L586.4,357.3 L586.9,357.4 L587.4,357.6 L587.9,357.8 L588.4,358 L588.9,358.3 L589.4,358.6 L589.9,359 L590.4,359.4 L590.9,359.8 L591.4,360.3 L591.9,360.8 L592.4,361.3 L592.9,361.8 L593.4,362.4 L593.9,363 L594.4,363.5 L594.9,364.1 L595.4,364.8 L595.9,365.4 L596.4,366 L596.9,366.6 L597.4,367.3 L597.9,367.9 L598.4,368.5 L598.9,369.1 L599.4,369.7 L599.9,370.3 L600.4,370.9 L600.9,371.5 L601.4,372.1 L601.9,372.6 L602.4,373.1 L602.9,373.7 L603.4,374.2 L603.9,374.6 L604.4,375.1 L604.9,375.5 L605.4,375.9 L605.9,376.3 L606.4,376.7 L606.9,377.1 L607.4,377.4 L607.9,377.7 L608.4,378 L608.9,378.3 L609.4,378.6 L609.9,378.8 L610.4,379.1 L610.9,379.3 L611.4,379.5 L611.9,379.7 L612.4,379.8 L612.9,380 L613.4,380.1 L613.9,380.3 L614.4,380.4 L614.9,380.5 L615.4,380.6 L615.9,380.7 L616.4,380.8 L616.9,380.9 L617.4,380.9 L617.9,381 L618.4,381.1 L618.9,381.1 L619.4,381.2 L619.9,381.2 L620.4,381.2 L620.9,381.3 L621.4,381.3 L621.9,381.3 L622.4,381.3 L622.9,381.4 L623.4,381.4 L623.9,381.4 L624.4,381.4 L624.9,381.4 L625.4,381.4 L625.9,381.4 L626.4,381.4 L626.9,381.5 L627.4,381.5 L627.9,381.5 L628.4,381.5 L628.9,381.5 L629.4,381.5 L629.9,381.5 L630.4,381.5 L630.9,381.5 L631.4,381.5 L631.9,381.5 L632.4,381.5 L632.9,381.5 L633.4,381.5 L633.9,381.5 L634.4,381.5 L634.9,381.5 L635.4,381.5 L635.9,381.5 L636.4,381.5 L636.9,381.5 L637.4,381.5 L637.9,381.5 L638.4,381.5 L638.9,381.5 L639.4,381.5 L639.9,381.5 L640.4,381.5 L640.9,381.5 L641.4,381.5 L641.9,381.5 L642.4,381.5 L642.9,381.5 L643.4,381.5 L643.9,381.5 L644.4,381.5 L644.9,381.5 L645.4,381.5 L645.9,381.5 L646.4,381.5 L646.9,381.5 L647.4,381.5 L647.9,381.5 L648.4,381.5 L648.9,381.5 L649.4,381.5 L649.9,381.5 L650.4,381.5 L650.9,381.5 L651.4,381.5 L651.9,381.5 L652.4,381.5 L652.9,381.5 L653.4,381.5 L653.9,381.5 L654.4,381.5 L654.9,381.5 L655.4,381.5 L655.9,381.5 L656.4,381.5 L656.9,381.5 L657.4,381.5 L657.9,381.5 L658.4,381.5 L658.9,381.5 L659.4,381.5 L659.9,381.5 L660.4,381.5 L660.9,381.5 L661.4,381.5 L661.9,381.5 L662.4,381.5 L662.9,381.5 L663.4,381.5 L663.9,381.5 L664.4,381.5 L664.9,381.5 L665.4,381.5 L665.9,381.5 L666.4,381.5 L666.9,381.5 L667.4,381.5 L667.9,381.5 L668.4,381.5 L668.9,381.5 L669.4,381.5 L669.9,381.5 L670.4,381.5 L670.9,381.5 L671.4,381.5 L671.9,381.5 L672.4,381.5 L672.9,381.5 L673.4,381.5 L673.9,381.5 L674.4,381.5 L674.9,381.5 L675.4,381.5 L675.9,381.5 L676.4,381.5 L676.4,381.5 L484.4,381.5 Z" fill="url(#g674139233)" stroke="none"/>
<path d="M484.4,381.5 L484.9,381.5 L485.4,381.5 L485.9,381.5 L486.4,381.5 L486.9,381.5 L487.4,381.5 L487.9,381.5 L488.4,381.5 L488.9,381.5 L489.4,381.5 L489.9,381.5 L490.4,381.5 L490.9,381.5 L491.4,381.5 L491.9,381.5 L492.4,381.5 L492.9,381.5 L493.4,381.5 L493.9,381.5 L494.4,381.5 L494.9,381.5 L495.4,381.5 L495.9,381.5 L496.4,381.5 L496.9,381.5 L497.4,381.5 L497.9,381.5 L498.4,381.5 L498.9,381.5 L499.4,381.5 L499.9,381.5 L500.4,381.5 L500.9,381.5 L501.4,381.5 L501.9,381.5 L502.4,381.5 L502.9,381.5 L503.4,381.5 L503.9,381.5 L504.4,381.5 L504.9,381.5 L505.4,381.5 L505.9,381.5 L506.4,381.5 L506.9,381.5 L507.4,381.5 L507.9,381.5 L508.4,381.5 L508.9,381.5 L509.4,381.5 L509.9,381.5 L510.4,381.5 L510.9,381.5 L511.4,381.5 L511.9,381.5 L512.4,381.5 L512.9,381.5 L513.4,381.5 L513.9,381.5 L514.4,381.5 L514.9,381.5 L515.4,381.5 L515.9,381.5 L516.4,381.5 L516.9,381.5 L517.4,381.5 L517.9,381.5 L518.4,381.5 L518.9,381.5 L519.4,381.5 L519.9,381.5 L520.4,381.5 L520.9,381.5 L521.4,381.5 L521.9,381.5 L522.4,381.5 L522.9,381.5 L523.4,381.5 L523.9,381.5 L524.4,381.5 L524.9,381.5 L525.4,381.5 L525.9,381.5 L526.4,381.5 L526.9,381.5 L527.4,381.5 L527.9,381.5 L528.4,381.5 L528.9,381.5 L529.4,381.5 L529.9,381.5 L530.4,381.5 L530.9,381.5 L531.4,381.5 L531.9,381.5 L532.4,381.5 L532.9,381.5 L533.4,381.5 L533.9,381.5 L534.4,381.5 L534.9,381.5 L535.4,381.5 L535.9,381.5 L536.4,381.5 L536.9,381.5 L537.4,381.5 L537.9,381.5 L538.4,381.5 L538.9,381.5 L539.4,381.5 L539.9,381.5 L540.4,381.5 L540.9,381.5 L541.4,381.5 L541.9,381.5 L542.4,381.5 L542.9,381.5 L543.4,381.5 L543.9,381.5 L544.4,381.4 L544.9,381.4 L545.4,381.4 L545.9,381.4 L546.4,381.4 L546.9,381.4 L547.4,381.4 L547.9,381.4 L548.4,381.3 L548.9,381.3 L549.4,381.3 L549.9,381.3 L550.4,381.2 L550.9,381.2 L551.4,381.1 L551.9,381.1 L552.4,381 L552.9,381 L553.4,380.9 L553.9,380.8 L554.4,380.8 L554.9,380.7 L555.4,380.6 L555.9,380.5 L556.4,380.3 L556.9,380.2 L557.4,380.1 L557.9,379.9 L558.4,379.8 L558.9,379.6 L559.4,379.4 L559.9,379.2 L560.4,379 L560.9,378.7 L561.4,378.5 L561.9,378.2 L562.4,377.9 L562.9,377.6 L563.4,377.3 L563.9,376.9 L564.4,376.6 L564.9,376.2 L565.4,375.8 L565.9,375.4 L566.4,374.9 L566.9,374.4 L567.4,374 L567.9,373.5 L568.4,372.9 L568.9,372.4 L569.4,371.8 L569.9,371.3 L570.4,370.7 L570.9,370.1 L571.4,369.5 L571.9,368.9 L572.4,368.3 L572.9,367.6 L573.4,367 L573.9,366.4 L574.4,365.8 L574.9,365.1 L575.4,364.5 L575.9,363.9 L576.4,363.3 L576.9,362.7 L577.4,362.2 L577.9,361.6 L578.4,361.1 L578.9,360.6 L579.4,360.1 L579.9,359.7 L580.4,359.2 L580.9,358.9 L581.4,358.5 L581.9,358.2 L582.4,357.9 L582.9,357.7 L583.4,357.5 L583.9,357.4 L584.4,357.3 L584.9,357.2 L585.4,357.2 L585.9,357.2 L586.4,357.3 L586.9,357.4 L587.4,357.6 L587.9,357.8 L588.4,358 L588.9,358.3 L589.4,358.6 L589.9,359 L590.4,359.4 L590.9,359.8 L591.4,360.3 L591.9,360.8 L592.4,361.3 L592.9,361.8 L593.4,362.4 L593.9,363 L594.4,363.5 L594.9,364.1 L595.4,364.8 L595.9,365.4 L596.4,366 L596.9,366.6 L597.4,367.3 L597.9,367.9 L598.4,368.5 L598.9,369.1 L599.4,369.7 L599.9,370.3 L600.4,370.9 L600.9,371.5 L601.4,372.1 L601.9,372.6 L602.4,373.1 L602.9,373.7 L603.4,374.2 L603.9,374.6 L604.4,375.1 L604.9,375.5 L605.4,375.9 L605.9,376.3 L606.4,376.7 L606.9,377.1 L607.4,377.4 L607.9,377.7 L608.4,378 L608.9,378.3 L609.4,378.6 L609.9,378.8 L610.4,379.1 L610.9,379.3 L611.4,379.5 L611.9,379.7 L612.4,379.8 L612.9,380 L613.4,380.1 L613.9,380.3 L614.4,380.4 L614.9,380.5 L615.4,380.6 L615.9,380.7 L616.4,380.8 L616.9,380.9 L617.4,380.9 L617.9,381 L618.4,381.1 L618.9,381.1 L619.4,381.2 L619.9,381.2 L620.4,381.2 L620.9,381.3 L621.4,381.3 L621.9,381.3 L622.4,381.3 L622.9,381.4 L623.4,381.4 L623.9,381.4 L624.4,381.4 L624.9,381.4 L625.4,381.4 L625.9,381.4 L626.4,381.4 L626.9,381.5 L627.4,381.5 L627.9,381.5 L628.4,381.5 L628.9,381.5 L629.4,381.5 L629.9,381.5 L630.4,381.5 L630.9,381.5 L631.4,381.5 L631.9,381.5 L632.4,381.5 L632.9,381.5 L633.4,381.5 L633.9,381.5 L634.4,381.5 L634.9,381.5 L635.4,381.5 L635.9,381.5 L636.4,381.5 L636.9,381.5 L637.4,381.5 L637.9,381.5 L638.4,381.5 L638.9,381.5 L639.4,381.5 L639.9,381.5 L640.4,381.5 L640.9,381.5 L641.4,381.5 L641.9,381.5 L642.4,381.5 L642.9,381.5 L643.4,381.5 L643.9,381.5 L644.4,381.5 L644.9,381.5 L645.4,381.5 L645.9,381.5 L646.4,381.5 L646.9,381.5 L647.4,381.5 L647.9,381.5 L648.4,381.5 L648.9,381.5 L649.4,381.5 L649.9,381.5 L650.4,381.5 L650.9,381.5 L651.4,381.5 L651.9,381.5 L652.4,381.5 L652.9,381.5 L653.4,381.5 L653.9,381.5 L654.4,381.5 L654.9,381.5 L655.4,381.5 L655.9,381.5 L656.4,381.5 L656.9,381.5 L657.4,381.5 L657.9,381.5 L658.4,381.5 L658.9,381.5 L659.4,381.5 L659.9,381.5 L660.4,381.5 L660.9,381.5 L661.4,381.5 L661.9,381.5 L662.4,381.5 L662.9,381.5 L663.4,381.5 L663.9,381.5 L664.4,381.5 L664.9,381.5 L665.4,381.5 L665.9,381.5 L666.4,381.5 L666.9,381.5 L667.4,381.5 L667.9,381.5 L668.4,381.5 L668.9,381.5 L669.4,381.5 L669.9,381.5 L670.4,381.5 L670.9,381.5 L671.4,381.5 L671.9,381.5 L672.4,381.5 L672.9,381.5 L673.4,381.5 L673.9,381.5 L674.4,381.5 L674.9,381.5 L675.4,381.5 L675.9,381.5 L676.4,381.5" fill="none" stroke="#f07078" stroke-width="0.9" stroke-linejoin="round" />
<linearGradient id="g866496147" gradientUnits="userSpaceOnUse" x1="0" y1="308.4" x2="0" y2="381.5"><stop offset="0" stop-color="#90e6aa"/><stop offset="1" stop-color="#fff" stop-opacity="0.6"/></linearGradient>
<path d="M484.4,381.5 L484.9,381.5 L485.4,381.5 L485.9,381.5 L486.4,381.5 L486.9,381.5 L487.4,381.5 L487.9,381.5 L488.4,381.5 L488.9,381.5 L489.4,381.5 L489.9,381.5 L490.4,381.5 L490.9,381.5 L491.4,381.5 L491.9,381.5 L492.4,381.5 L492.9,381.5 L493.4,381.5 L493.9,381.5 L494.4,381.5 L494.9,381.5 L495.4,381.5 L495.9,381.5 L496.4,381.4 L496.9,381.4 L497.4,381.4 L497.9,381.4 L498.4,381.4 L498.9,381.4 L499.4,381.4 L499.9,381.4 L500.4,381.4 L500.9,381.3 L501.4,381.3 L501.9,381.3 L502.4,381.3 L502.9,381.2 L503.4,381.2 L503.9,381.2 L504.4,381.1 L504.9,381.1 L505.4,381 L505.9,381 L506.4,380.9 L506.9,380.9 L507.4,380.8 L507.9,380.7 L508.4,380.7 L508.9,380.6 L509.4,380.5 L509.9,380.4 L510.4,380.3 L510.9,380.1 L511.4,380 L511.9,379.8 L512.4,379.7 L512.9,379.5 L513.4,379.3 L513.9,379.1 L514.4,378.9 L514.9,378.7 L515.4,378.4 L515.9,378.2 L516.4,377.9 L516.9,377.6 L517.4,377.3 L517.9,376.9 L518.4,376.5 L518.9,376.1 L519.4,375.7 L519.9,375.3 L520.4,374.8 L520.9,374.3 L521.4,373.8 L521.9,373.2 L522.4,372.6 L522.9,372 L523.4,371.3 L523.9,370.7 L524.4,369.9 L524.9,369.2 L525.4,368.4 L525.9,367.5 L526.4,366.7 L526.9,365.8 L527.4,364.8 L527.9,363.9 L528.4,362.9 L528.9,361.8 L529.4,360.7 L529.9,359.6 L530.4,358.5 L530.9,357.3 L531.4,356.1 L531.9,354.8 L532.4,353.6 L532.9,352.2 L533.4,350.9 L533.9,349.6 L534.4,348.2 L534.9,346.8 L535.4,345.3 L535.9,343.9 L536.4,342.5 L536.9,341 L537.4,339.5 L537.9,338 L538.4,336.6 L538.9,335.1 L539.4,333.6 L539.9,332.2 L540.4,330.7 L540.9,329.3 L541.4,327.9 L541.9,326.5 L542.4,325.1 L542.9,323.8 L543.4,322.4 L543.9,321.2 L544.4,320 L544.9,318.8 L545.4,317.6 L545.9,316.6 L546.4,315.5 L546.9,314.6 L547.4,313.7 L547.9,312.8 L548.4,312 L548.9,311.3 L549.4,310.7 L549.9,310.1 L550.4,309.7 L550.9,309.3 L551.4,308.9 L551.9,308.7 L552.4,308.5 L552.9,308.4 L553.4,308.4 L553.9,308.5 L554.4,308.6 L554.9,308.9 L555.4,309.2 L555.9,309.6 L556.4,310 L556.9,310.6 L557.4,311.2 L557.9,311.9 L558.4,312.7 L558.9,313.5 L559.4,314.4 L559.9,315.3 L560.4,316.4 L560.9,317.4 L561.4,318.5 L561.9,319.7 L562.4,320.9 L562.9,322.2 L563.4,323.5 L563.9,324.8 L564.4,326.2 L564.9,327.6 L565.4,329 L565.9,330.4 L566.4,331.9 L566.9,333.3 L567.4,334.8 L567.9,336.3 L568.4,337.8 L568.9,339.2 L569.4,340.7 L569.9,342.2 L570.4,343.6 L570.9,345.1 L571.4,346.5 L571.9,347.9 L572.4,349.3 L572.9,350.6 L573.4,352 L573.9,353.3 L574.4,354.6 L574.9,355.8 L575.4,357.1 L575.9,358.2 L576.4,359.4 L576.9,360.5 L577.4,361.6 L577.9,362.7 L578.4,363.7 L578.9,364.7 L579.4,365.6 L579.9,366.5 L580.4,367.4 L580.9,368.2 L581.4,369 L581.9,369.8 L582.4,370.5 L582.9,371.2 L583.4,371.9 L583.9,372.5 L584.4,373.1 L584.9,373.7 L585.4,374.2 L585.9,374.7 L586.4,375.2 L586.9,375.6 L587.4,376.1 L587.9,376.5 L588.4,376.8 L588.9,377.2 L589.4,377.5 L589.9,377.8 L590.4,378.1 L590.9,378.4 L591.4,378.6 L591.9,378.9 L592.4,379.1 L592.9,379.3 L593.4,379.5 L593.9,379.7 L594.4,379.8 L594.9,380 L595.4,380.1 L595.9,380.2 L596.4,380.3 L596.9,380.5 L597.4,380.5 L597.9,380.6 L598.4,380.7 L598.9,380.8 L599.4,380.9 L599.9,380.9 L600.4,381 L600.9,381 L601.4,381.1 L601.9,381.1 L602.4,381.2 L602.9,381.2 L603.4,381.2 L603.9,381.3 L604.4,381.3 L604.9,381.3 L605.4,381.3 L605.9,381.3 L606.4,381.4 L606.9,381.4 L607.4,381.4 L607.9,381.4 L608.4,381.4 L608.9,381.4 L609.4,381.4 L609.9,381.4 L610.4,381.4 L610.9,381.5 L611.4,381.5 L611.9,381.5 L612.4,381.5 L612.9,381.5 L613.4,381.5 L613.9,381.5 L614.4,381.5 L614.9,381.5 L615.4,381.5 L615.9,381.5 L616.4,381.5 L616.9,381.5 L617.4,381.5 L617.9,381.5 L618.4,381.5 L618.9,381.5 L619.4,381.5 L619.9,381.5 L620.4,381.5 L620.9,381.5 L621.4,381.5 L621.9,381.5 L622.4,381.5 L622.9,381.5 L623.4,381.5 L623.9,381.5 L624.4,381.5 L624.9,381.5 L625.4,381.5 L625.9,381.5 L626.4,381.5 L626.9,381.5 L627.4,381.5 L627.9,381.5 L628.4,381.5 L628.9,381.5 L629.4,381.5 L629.9,381.5 L630.4,381.5 L630.9,381.5 L631.4,381.5 L631.9,381.5 L632.4,381.5 L632.9,381.5 L633.4,381.5 L633.9,381.5 L634.4,381.5 L634.9,381.5 L635.4,381.5 L635.9,381.5 L636.4,381.5 L636.9,381.5 L637.4,381.5 L637.9,381.5 L638.4,381.5 L638.9,381.5 L639.4,381.5 L639.9,381.5 L640.4,381.5 L640.9,381.5 L641.4,381.5 L641.9,381.5 L642.4,381.5 L642.9,381.5 L643.4,381.5 L643.9,381.5 L644.4,381.5 L644.9,381.5 L645.4,381.5 L645.9,381.5 L646.4,381.5 L646.9,381.5 L647.4,381.5 L647.9,381.5 L648.4,381.5 L648.9,381.5 L649.4,381.5 L649.9,381.5 L650.4,381.5 L650.9,381.5 L651.4,381.5 L651.9,381.5 L652.4,381.5 L652.9,381.5 L653.4,381.5 L653.9,381.5 L654.4,381.5 L654.9,381.5 L655.4,381.5 L655.9,381.5 L656.4,381.5 L656.9,381.5 L657.4,381.5 L657.9,381.5 L658.4,381.5 L658.9,381.5 L659.4,381.5 L659.9,381.5 L660.4,381.5 L660.9,381.5 L661.4,381.5 L661.9,381.5 L662.4,381.5 L662.9,381.5 L663.4,381.5 L663.9,381.5 L664.4,381.5 L664.9,381.5 L665.4,381.5 L665.9,381.5 L666.4,381.5 L666.9,381.5 L667.4,381.5 L667.9,381.5 L668.4,381.5 L668.9,381.5 L669.4,381.5 L669.9,381.5 L670.4,381.5 L670.9,381.5 L671.4,381.5 L671.9,381.5 L672.4,381.5 L672.9,381.5 L673.4,381.5 L673.9,381.5 L674.4,381.5 L674.9,381.5 L675.4,381.5 L675.9,381.5 L676.4,381.5 L676.4,381.5 L484.4,381.5 Z" fill="url(#g866496147)" stroke="none"/>
<path d="M484.4,381.5 L484.9,381.5 L485.4,381.5 L485.9,381.5 L486.4,381.5 L486.9,381.5 L487.4,381.5 L487.9,381.5 L488.4,381.5 L488.9,381.5 L489.4,381.5 L489.9,381.5 L490.4,381.5 L490.9,381.5 L491.4,381.5 L491.9,381.5 L492.4,381.5 L492.9,381.5 L493.4,381.5 L493.9,381.5 L494.4,381.5 L494.9,381.5 L495.4,381.5 L495.9,381.5 L496.4,381.4 L496.9,381.4 L497.4,381.4 L497.9,381.4 L498.4,381.4 L498.9,381.4 L499.4,381.4 L499.9,381.4 L500.4,381.4 L500.9,381.3 L501.4,381.3 L501.9,381.3 L502.4,381.3 L502.9,381.2 L503.4,381.2 L503.9,381.2 L504.4,381.1 L504.9,381.1 L505.4,381 L505.9,381 L506.4,380.9 L506.9,380.9 L507.4,380.8 L507.9,380.7 L508.4,380.7 L508.9,380.6 L509.4,380.5 L509.9,380.4 L510.4,380.3 L510.9,380.1 L511.4,380 L511.9,379.8 L512.4,379.7 L512.9,379.5 L513.4,379.3 L513.9,379.1 L514.4,378.9 L514.9,378.7 L515.4,378.4 L515.9,378.2 L516.4,377.9 L516.9,377.6 L517.4,377.3 L517.9,376.9 L518.4,376.5 L518.9,376.1 L519.4,375.7 L519.9,375.3 L520.4,374.8 L520.9,374.3 L521.4,373.8 L521.9,373.2 L522.4,372.6 L522.9,372 L523.4,371.3 L523.9,370.7 L524.4,369.9 L524.9,369.2 L525.4,368.4 L525.9,367.5 L526.4,366.7 L526.9,365.8 L527.4,364.8 L527.9,363.9 L528.4,362.9 L528.9,361.8 L529.4,360.7 L529.9,359.6 L530.4,358.5 L530.9,357.3 L531.4,356.1 L531.9,354.8 L532.4,353.6 L532.9,352.2 L533.4,350.9 L533.9,349.6 L534.4,348.2 L534.9,346.8 L535.4,345.3 L535.9,343.9 L536.4,342.5 L536.9,341 L537.4,339.5 L537.9,338 L538.4,336.6 L538.9,335.1 L539.4,333.6 L539.9,332.2 L540.4,330.7 L540.9,329.3 L541.4,327.9 L541.9,326.5 L542.4,325.1 L542.9,323.8 L543.4,322.4 L543.9,321.2 L544.4,320 L544.9,318.8 L545.4,317.6 L545.9,316.6 L546.4,315.5 L546.9,314.6 L547.4,313.7 L547.9,312.8 L548.4,312 L548.9,311.3 L549.4,310.7 L549.9,310.1 L550.4,309.7 L550.9,309.3 L551.4,308.9 L551.9,308.7 L552.4,308.5 L552.9,308.4 L553.4,308.4 L553.9,308.5 L554.4,308.6 L554.9,308.9 L555.4,309.2 L555.9,309.6 L556.4,310 L556.9,310.6 L557.4,311.2 L557.9,311.9 L558.4,312.7 L558.9,313.5 L559.4,314.4 L559.9,315.3 L560.4,316.4 L560.9,317.4 L561.4,318.5 L561.9,319.7 L562.4,320.9 L562.9,322.2 L563.4,323.5 L563.9,324.8 L564.4,326.2 L564.9,327.6 L565.4,329 L565.9,330.4 L566.4,331.9 L566.9,333.3 L567.4,334.8 L567.9,336.3 L568.4,337.8 L568.9,339.2 L569.4,340.7 L569.9,342.2 L570.4,343.6 L570.9,345.1 L571.4,346.5 L571.9,347.9 L572.4,349.3 L572.9,350.6 L573.4,352 L573.9,353.3 L574.4,354.6 L574.9,355.8 L575.4,357.1 L575.9,358.2 L576.4,359.4 L576.9,360.5 L577.4,361.6 L577.9,362.7 L578.4,363.7 L578.9,364.7 L579.4,365.6 L579.9,366.5 L580.4,367.4 L580.9,368.2 L581.4,369 L581.9,369.8 L582.4,370.5 L582.9,371.2 L583.4,371.9 L583.9,372.5 L584.4,373.1 L584.9,373.7 L585.4,374.2 L585.9,374.7 L586.4,375.2 L586.9,375.6 L587.4,376.1 L587.9,376.5 L588.4,376.8 L588.9,377.2 L589.4,377.5 L589.9,377.8 L590.4,378.1 L590.9,378.4 L591.4,378.6 L591.9,378.9 L592.4,379.1 L592.9,379.3 L593.4,379.5 L593.9,379.7 L594.4,379.8 L594.9,380 L595.4,380.1 L595.9,380.2 L596.4,380.3 L596.9,380.5 L597.4,380.5 L597.9,380.6 L598.4,380.7 L598.9,380.8 L599.4,380.9 L599.9,380.9 L600.4,381 L600.9,381 L601.4,381.1 L601.9,381.1 L602.4,381.2 L602.9,381.2 L603.4,381.2 L603.9,381.3 L604.4,381.3 L604.9,381.3 L605.4,381.3 L605.9,381.3 L606.4,381.4 L606.9,381.4 L607.4,381.4 L607.9,381.4 L608.4,381.4 L608.9,381.4 L609.4,381.4 L609.9,381.4 L610.4,381.4 L610.9,381.5 L611.4,381.5 L611.9,381.5 L612.4,381.5 L612.9,381.5 L613.4,381.5 L613.9,381.5 L614.4,381.5 L614.9,381.5 L615.4,381.5 L615.9,381.5 L616.4,381.5 L616.9,381.5 L617.4,381.5 L617.9,381.5 L618.4,381.5 L618.9,381.5 L619.4,381.5 L619.9,381.5 L620.4,381.5 L620.9,381.5 L621.4,381.5 L621.9,381.5 L622.4,381.5 L622.9,381.5 L623.4,381.5 L623.9,381.5 L624.4,381.5 L624.9,381.5 L625.4,381.5 L625.9,381.5 L626.4,381.5 L626.9,381.5 L627.4,381.5 L627.9,381.5 L628.4,381.5 L628.9,381.5 L629.4,381.5 L629.9,381.5 L630.4,381.5 L630.9,381.5 L631.4,381.5 L631.9,381.5 L632.4,381.5 L632.9,381.5 L633.4,381.5 L633.9,381.5 L634.4,381.5 L634.9,381.5 L635.4,381.5 L635.9,381.5 L636.4,381.5 L636.9,381.5 L637.4,381.5 L637.9,381.5 L638.4,381.5 L638.9,381.5 L639.4,381.5 L639.9,381.5 L640.4,381.5 L640.9,381.5 L641.4,381.5 L641.9,381.5 L642.4,381.5 L642.9,381.5 L643.4,381.5 L643.9,381.5 L644.4,381.5 L644.9,381.5 L645.4,381.5 L645.9,381.5 L646.4,381.5 L646.9,381.5 L647.4,381.5 L647.9,381.5 L648.4,381.5 L648.9,381.5 L649.4,381.5 L649.9,381.5 L650.4,381.5 L650.9,381.5 L651.4,381.5 L651.9,381.5 L652.4,381.5 L652.9,381.5 L653.4,381.5 L653.9,381.5 L654.4,381.5 L654.9,381.5 L655.4,381.5 L655.9,381.5 L656.4,381.5 L656.9,381.5 L657.4,381.5 L657.9,381.5 L658.4,381.5 L658.9,381.5 L659.4,381.5 L659.9,381.5 L660.4,381.5 L660.9,381.5 L661.4,381.5 L661.9,381.5 L662.4,381.5 L662.9,381.5 L663.4,381.5 L663.9,381.5 L664.4,381.5 L664.9,381.5 L665.4,381.5 L665.9,381.5 L666.4,381.5 L666.9,381.5 L667.4,381.5 L667.9,381.5 L668.4,381.5 L668.9,381.5 L669.4,381.5 L669.9,381.5 L670.4,381.5 L670.9,381.5 L671.4,381.5 L671.9,381.5 L672.4,381.5 L672.9,381.5 L673.4,381.5 L673.9,381.5 L674.4,381.5 L674.9,381.5 L675.4,381.5 L675.9,381.5 L676.4,381.5" fill="none" stroke="#6adc8a" stroke-width="0.9" stroke-linejoin="round" />
<linearGradient id="g772891408" gradientUnits="userSpaceOnUse" x1="0" y1="355.3" x2="0" y2="381.5"><stop offset="0" stop-color="#b4d0ec"/><stop offset="1" stop-color="#fff" stop-opacity="0.6"/></linearGradient>
<path d="M484.4,381.5 L484.9,381.5 L485.4,381.5 L485.9,381.5 L486.4,381.5 L486.9,381.5 L487.4,381.5 L487.9,381.5 L488.4,381.5 L488.9,381.5 L489.4,381.5 L489.9,381.5 L490.4,381.5 L490.9,381.5 L491.4,381.5 L491.9,381.5 L492.4,381.5 L492.9,381.5 L493.4,381.5 L493.9,381.5 L494.4,381.5 L494.9,381.5 L495.4,381.5 L495.9,381.5 L496.4,381.5 L496.9,381.5 L497.4,381.5 L497.9,381.5 L498.4,381.5 L498.9,381.5 L499.4,381.5 L499.9,381.5 L500.4,381.5 L500.9,381.5 L501.4,381.5 L501.9,381.5 L502.4,381.5 L502.9,381.5 L503.4,381.5 L503.9,381.5 L504.4,381.5 L504.9,381.5 L505.4,381.5 L505.9,381.5 L506.4,381.5 L506.9,381.5 L507.4,381.5 L507.9,381.5 L508.4,381.5 L508.9,381.5 L509.4,381.5 L509.9,381.5 L510.4,381.5 L510.9,381.5 L511.4,381.5 L511.9,381.4 L512.4,381.4 L512.9,381.4 L513.4,381.4 L513.9,381.4 L514.4,381.3 L514.9,381.3 L515.4,381.2 L515.9,381.1 L516.4,381.1 L516.9,381 L517.4,380.8 L517.9,380.7 L518.4,380.5 L518.9,380.3 L519.4,380.1 L519.9,379.9 L520.4,379.6 L520.9,379.2 L521.4,378.9 L521.9,378.4 L522.4,378 L522.9,377.4 L523.4,376.8 L523.9,376.2 L524.4,375.5 L524.9,374.7 L525.4,373.9 L525.9,373 L526.4,372.1 L526.9,371.1 L527.4,370 L527.9,369 L528.4,367.9 L528.9,366.7 L529.4,365.6 L529.9,364.5 L530.4,363.4 L530.9,362.3 L531.4,361.2 L531.9,360.2 L532.4,359.2 L532.9,358.4 L533.4,357.6 L533.9,356.9 L534.4,356.3 L534.9,355.9 L535.4,355.6 L535.9,355.4 L536.4,355.3 L536.9,355.4 L537.4,355.6 L537.9,355.9 L538.4,356.3 L538.9,356.9 L539.4,357.6 L539.9,358.4 L540.4,359.2 L540.9,360.2 L541.4,361.2 L541.9,362.3 L542.4,363.4 L542.9,364.5 L543.4,365.6 L543.9,366.7 L544.4,367.9 L544.9,369 L545.4,370 L545.9,371.1 L546.4,372.1 L546.9,373 L547.4,373.9 L547.9,374.7 L548.4,375.5 L548.9,376.2 L549.4,376.8 L549.9,377.4 L550.4,378 L550.9,378.4 L551.4,378.9 L551.9,379.2 L552.4,379.6 L552.9,379.9 L553.4,380.1 L553.9,380.3 L554.4,380.5 L554.9,380.7 L555.4,380.8 L555.9,381 L556.4,381.1 L556.9,381.1 L557.4,381.2 L557.9,381.3 L558.4,381.3 L558.9,381.4 L559.4,381.4 L559.9,381.4 L560.4,381.4 L560.9,381.4 L561.4,381.5 L561.9,381.5 L562.4,381.5 L562.9,381.5 L563.4,381.5 L563.9,381.5 L564.4,381.5 L564.9,381.5 L565.4,381.5 L565.9,381.5 L566.4,381.5 L566.9,381.5 L567.4,381.5 L567.9,381.5 L568.4,381.5 L568.9,381.5 L569.4,381.5 L569.9,381.5 L570.4,381.5 L570.9,381.5 L571.4,381.5 L571.9,381.5 L572.4,381.5 L572.9,381.5 L573.4,381.5 L573.9,381.5 L574.4,381.5 L574.9,381.5 L575.4,381.5 L575.9,381.5 L576.4,381.5 L576.9,381.5 L577.4,381.5 L577.9,381.5 L578.4,381.5 L578.9,381.5 L579.4,381.5 L579.9,381.5 L580.4,381.5 L580.9,381.5 L581.4,381.5 L581.9,381.5 L582.4,381.5 L582.9,381.5 L583.4,381.5 L583.9,381.5 L584.4,381.5 L584.9,381.5 L585.4,381.5 L585.9,381.5 L586.4,381.5 L586.9,381.5 L587.4,381.5 L587.9,381.5 L588.4,381.5 L588.9,381.5 L589.4,381.5 L589.9,381.5 L590.4,381.5 L590.9,381.5 L591.4,381.5 L591.9,381.5 L592.4,381.5 L592.9,381.5 L593.4,381.5 L593.9,381.5 L594.4,381.5 L594.9,381.5 L595.4,381.5 L595.9,381.5 L596.4,381.5 L596.9,381.5 L597.4,381.5 L597.9,381.5 L598.4,381.5 L598.9,381.5 L599.4,381.5 L599.9,381.5 L600.4,381.5 L600.9,381.5 L601.4,381.5 L601.9,381.5 L602.4,381.5 L602.9,381.5 L603.4,381.5 L603.9,381.5 L604.4,381.5 L604.9,381.5 L605.4,381.5 L605.9,381.5 L606.4,381.5 L606.9,381.5 L607.4,381.5 L607.9,381.5 L608.4,381.5 L608.9,381.5 L609.4,381.5 L609.9,381.5 L610.4,381.5 L610.9,381.5 L611.4,381.5 L611.9,381.5 L612.4,381.5 L612.9,381.5 L613.4,381.5 L613.9,381.5 L614.4,381.5 L614.9,381.5 L615.4,381.5 L615.9,381.5 L616.4,381.5 L616.9,381.5 L617.4,381.5 L617.9,381.5 L618.4,381.5 L618.9,381.5 L619.4,381.5 L619.9,381.5 L620.4,381.5 L620.9,381.5 L621.4,381.5 L621.9,381.5 L622.4,381.5 L622.9,381.5 L623.4,381.5 L623.9,381.5 L624.4,381.5 L624.9,381.5 L625.4,381.5 L625.9,381.5 L626.4,381.5 L626.9,381.5 L627.4,381.5 L627.9,381.5 L628.4,381.5 L628.9,381.5 L629.4,381.5 L629.9,381.5 L630.4,381.5 L630.9,381.5 L631.4,381.5 L631.9,381.5 L632.4,381.5 L632.9,381.5 L633.4,381.5 L633.9,381.5 L634.4,381.5 L634.9,381.5 L635.4,381.5 L635.9,381.5 L636.4,381.5 L636.9,381.5 L637.4,381.5 L637.9,381.5 L638.4,381.5 L638.9,381.5 L639.4,381.5 L639.9,381.5 L640.4,381.5 L640.9,381.5 L641.4,381.5 L641.9,381.5 L642.4,381.5 L642.9,381.5 L643.4,381.5 L643.9,381.5 L644.4,381.5 L644.9,381.5 L645.4,381.5 L645.9,381.5 L646.4,381.5 L646.9,381.5 L647.4,381.5 L647.9,381.5 L648.4,381.5 L648.9,381.5 L649.4,381.5 L649.9,381.5 L650.4,381.5 L650.9,381.5 L651.4,381.5 L651.9,381.5 L652.4,381.5 L652.9,381.5 L653.4,381.5 L653.9,381.5 L654.4,381.5 L654.9,381.5 L655.4,381.5 L655.9,381.5 L656.4,381.5 L656.9,381.5 L657.4,381.5 L657.9,381.5 L658.4,381.5 L658.9,381.5 L659.4,381.5 L659.9,381.5 L660.4,381.5 L660.9,381.5 L661.4,381.5 L661.9,381.5 L662.4,381.5 L662.9,381.5 L663.4,381.5 L663.9,381.5 L664.4,381.5 L664.9,381.5 L665.4,381.5 L665.9,381.5 L666.4,381.5 L666.9,381.5 L667.4,381.5 L667.9,381.5 L668.4,381.5 L668.9,381.5 L669.4,381.5 L669.9,381.5 L670.4,381.5 L670.9,381.5 L671.4,381.5 L671.9,381.5 L672.4,381.5 L672.9,381.5 L673.4,381.5 L673.9,381.5 L674.4,381.5 L674.9,381.5 L675.4,381.5 L675.9,381.5 L676.4,381.5 L676.4,381.5 L484.4,381.5 Z" fill="url(#g772891408)" stroke="none"/>
<path d="M484.4,381.5 L484.9,381.5 L485.4,381.5 L485.9,381.5 L486.4,381.5 L486.9,381.5 L487.4,381.5 L487.9,381.5 L488.4,381.5 L488.9,381.5 L489.4,381.5 L489.9,381.5 L490.4,381.5 L490.9,381.5 L491.4,381.5 L491.9,381.5 L492.4,381.5 L492.9,381.5 L493.4,381.5 L493.9,381.5 L494.4,381.5 L494.9,381.5 L495.4,381.5 L495.9,381.5 L496.4,381.5 L496.9,381.5 L497.4,381.5 L497.9,381.5 L498.4,381.5 L498.9,381.5 L499.4,381.5 L499.9,381.5 L500.4,381.5 L500.9,381.5 L501.4,381.5 L501.9,381.5 L502.4,381.5 L502.9,381.5 L503.4,381.5 L503.9,381.5 L504.4,381.5 L504.9,381.5 L505.4,381.5 L505.9,381.5 L506.4,381.5 L506.9,381.5 L507.4,381.5 L507.9,381.5 L508.4,381.5 L508.9,381.5 L509.4,381.5 L509.9,381.5 L510.4,381.5 L510.9,381.5 L511.4,381.5 L511.9,381.4 L512.4,381.4 L512.9,381.4 L513.4,381.4 L513.9,381.4 L514.4,381.3 L514.9,381.3 L515.4,381.2 L515.9,381.1 L516.4,381.1 L516.9,381 L517.4,380.8 L517.9,380.7 L518.4,380.5 L518.9,380.3 L519.4,380.1 L519.9,379.9 L520.4,379.6 L520.9,379.2 L521.4,378.9 L521.9,378.4 L522.4,378 L522.9,377.4 L523.4,376.8 L523.9,376.2 L524.4,375.5 L524.9,374.7 L525.4,373.9 L525.9,373 L526.4,372.1 L526.9,371.1 L527.4,370 L527.9,369 L528.4,367.9 L528.9,366.7 L529.4,365.6 L529.9,364.5 L530.4,363.4 L530.9,362.3 L531.4,361.2 L531.9,360.2 L532.4,359.2 L532.9,358.4 L533.4,357.6 L533.9,356.9 L534.4,356.3 L534.9,355.9 L535.4,355.6 L535.9,355.4 L536.4,355.3 L536.9,355.4 L537.4,355.6 L537.9,355.9 L538.4,356.3 L538.9,356.9 L539.4,357.6 L539.9,358.4 L540.4,359.2 L540.9,360.2 L541.4,361.2 L541.9,362.3 L542.4,363.4 L542.9,364.5 L543.4,365.6 L543.9,366.7 L544.4,367.9 L544.9,369 L545.4,370 L545.9,371.1 L546.4,372.1 L546.9,373 L547.4,373.9 L547.9,374.7 L548.4,375.5 L548.9,376.2 L549.4,376.8 L549.9,377.4 L550.4,378 L550.9,378.4 L551.4,378.9 L551.9,379.2 L552.4,379.6 L552.9,379.9 L553.4,380.1 L553.9,380.3 L554.4,380.5 L554.9,380.7 L555.4,380.8 L555.9,381 L556.4,381.1 L556.9,381.1 L557.4,381.2 L557.9,381.3 L558.4,381.3 L558.9,381.4 L559.4,381.4 L559.9,381.4 L560.4,381.4 L560.9,381.4 L561.4,381.5 L561.9,381.5 L562.4,381.5 L562.9,381.5 L563.4,381.5 L563.9,381.5 L564.4,381.5 L564.9,381.5 L565.4,381.5 L565.9,381.5 L566.4,381.5 L566.9,381.5 L567.4,381.5 L567.9,381.5 L568.4,381.5 L568.9,381.5 L569.4,381.5 L569.9,381.5 L570.4,381.5 L570.9,381.5 L571.4,381.5 L571.9,381.5 L572.4,381.5 L572.9,381.5 L573.4,381.5 L573.9,381.5 L574.4,381.5 L574.9,381.5 L575.4,381.5 L575.9,381.5 L576.4,381.5 L576.9,381.5 L577.4,381.5 L577.9,381.5 L578.4,381.5 L578.9,381.5 L579.4,381.5 L579.9,381.5 L580.4,381.5 L580.9,381.5 L581.4,381.5 L581.9,381.5 L582.4,381.5 L582.9,381.5 L583.4,381.5 L583.9,381.5 L584.4,381.5 L584.9,381.5 L585.4,381.5 L585.9,381.5 L586.4,381.5 L586.9,381.5 L587.4,381.5 L587.9,381.5 L588.4,381.5 L588.9,381.5 L589.4,381.5 L589.9,381.5 L590.4,381.5 L590.9,381.5 L591.4,381.5 L591.9,381.5 L592.4,381.5 L592.9,381.5 L593.4,381.5 L593.9,381.5 L594.4,381.5 L594.9,381.5 L595.4,381.5 L595.9,381.5 L596.4,381.5 L596.9,381.5 L597.4,381.5 L597.9,381.5 L598.4,381.5 L598.9,381.5 L599.4,381.5 L599.9,381.5 L600.4,381.5 L600.9,381.5 L601.4,381.5 L601.9,381.5 L602.4,381.5 L602.9,381.5 L603.4,381.5 L603.9,381.5 L604.4,381.5 L604.9,381.5 L605.4,381.5 L605.9,381.5 L606.4,381.5 L606.9,381.5 L607.4,381.5 L607.9,381.5 L608.4,381.5 L608.9,381.5 L609.4,381.5 L609.9,381.5 L610.4,381.5 L610.9,381.5 L611.4,381.5 L611.9,381.5 L612.4,381.5 L612.9,381.5 L613.4,381.5 L613.9,381.5 L614.4,381.5 L614.9,381.5 L615.4,381.5 L615.9,381.5 L616.4,381.5 L616.9,381.5 L617.4,381.5 L617.9,381.5 L618.4,381.5 L618.9,381.5 L619.4,381.5 L619.9,381.5 L620.4,381.5 L620.9,381.5 L621.4,381.5 L621.9,381.5 L622.4,381.5 L622.9,381.5 L623.4,381.5 L623.9,381.5 L624.4,381.5 L624.9,381.5 L625.4,381.5 L625.9,381.5 L626.4,381.5 L626.9,381.5 L627.4,381.5 L627.9,381.5 L628.4,381.5 L628.9,381.5 L629.4,381.5 L629.9,381.5 L630.4,381.5 L630.9,381.5 L631.4,381.5 L631.9,381.5 L632.4,381.5 L632.9,381.5 L633.4,381.5 L633.9,381.5 L634.4,381.5 L634.9,381.5 L635.4,381.5 L635.9,381.5 L636.4,381.5 L636.9,381.5 L637.4,381.5 L637.9,381.5 L638.4,381.5 L638.9,381.5 L639.4,381.5 L639.9,381.5 L640.4,381.5 L640.9,381.5 L641.4,381.5 L641.9,381.5 L642.4,381.5 L642.9,381.5 L643.4,381.5 L643.9,381.5 L644.4,381.5 L644.9,381.5 L645.4,381.5 L645.9,381.5 L646.4,381.5 L646.9,381.5 L647.4,381.5 L647.9,381.5 L648.4,381.5 L648.9,381.5 L649.4,381.5 L649.9,381.5 L650.4,381.5 L650.9,381.5 L651.4,381.5 L651.9,381.5 L652.4,381.5 L652.9,381.5 L653.4,381.5 L653.9,381.5 L654.4,381.5 L654.9,381.5 L655.4,381.5 L655.9,381.5 L656.4,381.5 L656.9,381.5 L657.4,381.5 L657.9,381.5 L658.4,381.5 L658.9,381.5 L659.4,381.5 L659.9,381.5 L660.4,381.5 L660.9,381.5 L661.4,381.5 L661.9,381.5 L662.4,381.5 L662.9,381.5 L663.4,381.5 L663.9,381.5 L664.4,381.5 L664.9,381.5 L665.4,381.5 L665.9,381.5 L666.4,381.5 L666.9,381.5 L667.4,381.5 L667.9,381.5 L668.4,381.5 L668.9,381.5 L669.4,381.5 L669.9,381.5 L670.4,381.5 L670.9,381.5 L671.4,381.5 L671.9,381.5 L672.4,381.5 L672.9,381.5 L673.4,381.5 L673.9,381.5 L674.4,381.5 L674.9,381.5 L675.4,381.5 L675.9,381.5 L676.4,381.5" fill="none" stroke="#7aaee0" stroke-width="0.9" stroke-linejoin="round" />
<line x1="484.4" y1="381.5" x2="676.4" y2="381.5" stroke="#7aaee0" stroke-width="0.9" />
<path d="M485,381.2 L485.3,381.7 L485.6,381.7 L486,381.5 L486.4,381.6 L486.8,381.2 L487.3,380.9 L487.8,380.8 L488.3,381.1 L488.8,380.3 L489.4,380.2 L489.9,380 L490.5,380.5 L491.1,380.8 L491.7,380.8 L492.3,381.4 L492.8,382.1 L493.4,382.2 L494,382.3 L494.5,382.5 L495,382.3 L495.5,381.7 L496,381.8 L496.5,381 L497.1,381.1 L497.6,380.7 L498.1,380.5 L498.7,380.3 L499.2,380 L499.8,380.5 L500.3,380.7 L500.8,381.2 L501.3,381.3 L501.8,381.7 L502.3,382.2 L502.8,382.3 L503.3,382.1 L503.8,382.3 L504.2,382 L504.6,381.7 L505,381.5 L505.7,381.3 L506.3,380.7 L506.8,380.6 L507.3,379.9 L507.7,379.3 L508.2,379.1 L508.6,378.8 L509,378.6 L509.4,378.1 L509.8,377.9 L510.3,378.2 L510.7,378 L511.1,377.8 L511.5,377.6 L511.9,377.3 L512.3,377.1 L512.7,376.7 L513.1,376.4 L513.5,376.3 L513.9,375.9 L514.3,375.5 L514.7,375 L515.1,374.6 L515.5,374 L515.8,373.6 L516,373.3 L516.3,372.8 L516.6,372.9 L516.9,372.1 L517.1,371.5 L517.4,371.6 L517.7,370.7 L518,370.3 L518.3,370.1 L518.5,369.6 L518.8,369.3 L519.1,368.3 L519.3,368.4 L519.6,367.8 L519.9,367 L520.1,366.8 L520.3,365.8 L520.6,365.5 L520.8,365.4 L521,364.4 L521.3,364 L521.5,364 L521.7,363.2 L521.9,362.9 L522.1,362 L522.3,361.6 L522.5,361.6 L522.7,360.6 L522.8,360.5 L523,360.1 L523.2,359.2 L523.4,359.1 L523.6,358.2 L523.7,357.7 L523.9,357.1 L524.1,356.8 L524.3,355.5 L524.4,355.7 L524.5,355 L524.7,354.8 L524.8,354.4 L524.9,353.3 L525,353.1 L525.2,352.5 L525.3,352.2 L525.4,351.6 L525.5,351 L525.7,350.7 L525.8,350 L525.9,349.4 L526,348.9 L526.2,349.1 L526.3,348.5 L526.4,347.4 L526.5,347 L526.7,346.8 L526.8,346.5 L526.9,345.5 L527,345.5 L527.2,344.9 L527.3,344.5 L527.4,344 L527.5,343.4 L527.7,342.4 L527.8,342.3 L527.9,342 L528,341.5 L528.2,341 L528.3,340.1 L528.4,339.7 L528.5,339.5 L528.6,338.9 L528.8,338.8 L528.9,338.4 L529,337.7 L529.1,337.2 L529.2,336.6 L529.4,335.9 L529.5,335.6 L529.6,335.2 L529.7,334.5 L529.9,334.3 L530,333.6 L530.1,333.2 L530.2,332.7 L530.3,332.4 L530.5,331.5 L530.6,331.3 L530.7,331 L530.8,330.2 L530.9,329.9 L531.1,329.6 L531.2,328.7 L531.3,328.5 L531.4,327.7 L531.6,327.2 L531.7,326.6 L531.9,326.6 L532,326.2 L532.1,325.3 L532.3,325.1 L532.4,324.6 L532.6,323.8 L532.7,323.2 L532.8,323 L533,322.8 L533.1,321.6 L533.3,321.1 L533.4,320.7 L533.5,320.8 L533.7,320.3 L533.8,319.4 L534,319.3 L534.1,318.3 L534.2,317.9 L534.4,317.4 L534.5,317.1 L534.7,316.4 L534.8,316.4 L535,315.7 L535.1,315.1 L535.3,314.8 L535.4,314.5 L535.6,314 L535.8,312.9 L535.9,312.5 L536.1,312.4 L536.2,311.5 L536.4,311 L536.5,310.8 L536.7,310.4 L536.9,309.6 L537,309.3 L537.2,308.6 L537.3,308.2 L537.5,307.8 L537.7,307.5 L537.8,306.8 L538,306.9 L538.1,306.2 L538.3,305.7 L538.6,305.2 L538.9,304.7 L539.1,304.1 L539.4,303.4 L539.7,302.7 L539.9,301.9 L540.2,301.7 L540.5,301.3 L540.8,300.6 L541.1,300.4 L541.4,300 L541.8,299.4 L542.3,299.5 L542.7,299.6 L543.2,299.8 L543.8,299.5 L544.3,299.7 L544.8,299.8 L545.4,300.4 L545.9,300.2 L546.5,300.7 L547,300.5 L547.5,300.7 L548.1,300.4 L548.6,300.7 L549.2,300.3 L549.8,300.4 L550.3,300.4 L550.8,300.4 L551.4,300.2 L551.8,300.2 L552.3,300.2 L552.8,300.8 L553.2,301 L553.6,300.6 L554,301.5 L554.3,301.5 L554.7,302.3 L555.1,302.8 L555.4,302.8 L555.8,303.8 L556.1,304.1 L556.4,304.7 L556.6,305.2 L556.9,305.3 L557.2,305.9 L557.4,306 L557.7,306.4 L558,307 L558.3,307.2 L558.6,308.1 L558.9,308.9 L559.3,309.3 L559.5,309.4 L559.7,310.3 L559.9,310.3 L560.1,310.9 L560.3,311.6 L560.6,311.5 L560.8,312.1 L561,312.5 L561.2,313.4 L561.5,313.6 L561.7,314.2 L562,314.5 L562.2,315.4 L562.4,315.5 L562.7,315.9 L562.9,316.5 L563.2,317.4 L563.4,317.7 L563.7,318 L563.9,318.4 L564.1,318.8 L564.4,319.4 L564.6,320 L564.9,320.8 L565.1,321.3 L565.4,321.5 L565.6,322.2 L565.9,322.5 L566.2,323 L566.4,323.4 L566.7,324.1 L566.9,324.4 L567.2,325.1 L567.5,325.6 L567.7,326.3 L568,326.8 L568.2,327 L568.5,327.6 L568.8,327.6 L569,327.7 L569.3,328.4 L569.5,328.4 L569.8,329 L570.1,329.7 L570.4,329.7 L570.7,330.5 L571,330.2 L571.4,330.6 L571.7,331 L572,331.7 L572.3,331.9 L572.6,332.5 L572.9,332.6 L573.2,333.2 L573.5,333.7 L573.9,333.7 L574.2,334 L574.5,334.6 L574.8,335 L575.1,334.9 L575.4,335.6 L575.7,336.1 L576,336.4 L576.3,336.3 L576.6,336.9 L576.9,337 L577.2,337.8 L577.5,338.3 L577.9,338.3 L578.2,339.2 L578.5,339.1 L578.8,339.9 L579.1,339.9 L579.4,340.6 L579.7,341 L580,341.5 L580.3,342.1 L580.6,342.7 L580.9,343.3 L581.2,343.7 L581.5,343.8 L581.9,344.2 L582.2,345.2 L582.5,345.5 L582.8,345.6 L583.1,346.5 L583.4,346.9 L583.7,347.1 L584,347.4 L584.4,348.1 L584.7,348.7 L585,348.7 L585.3,348.9 L585.6,349.9 L585.9,349.9 L586.2,350.8 L586.5,350.5 L586.8,351.3 L587.1,351.6 L587.4,351.9 L587.7,352.7 L588,353.2 L588.4,353.4 L588.7,353.9 L589,354.6 L589.3,355.1 L589.6,355.2 L589.9,356.1 L590.2,356.4 L590.5,357 L590.8,357.6 L591.1,357.4 L591.4,358.3 L591.7,358.3 L592,359.1 L592.4,359.4 L592.7,359.9 L593,360.4 L593.3,360.7 L593.6,360.9 L593.9,361.3 L594.2,361.4 L594.5,362.2 L594.9,362.1 L595.2,362.5 L595.5,362.8 L595.8,363.4 L596.1,363.6 L596.5,363.7 L596.9,364.2 L597.2,364.8 L597.6,365.5 L598,365.9 L598.4,365.7 L598.8,366.6 L599.1,366.3 L599.5,366.6 L599.9,366.9 L600.3,367.5 L600.6,368.1 L601,368.4 L601.4,368.2 L601.8,368.5 L602.1,368.8 L602.5,369.2 L602.8,369.5 L603.2,370 L603.5,370.3 L603.9,370.9 L604.3,371 L604.6,371.5 L605,372.3 L605.4,372.5 L605.8,372.5 L606.2,373.4 L606.6,373.5 L607,373.9 L607.4,374.4 L607.8,375.1 L608.2,375.2 L608.7,375.7 L609.1,375.9 L609.5,376.6 L610,376.7 L610.4,377.5 L610.9,377.8 L611.4,378.2 L611.8,378.7 L612.3,378.7 L612.7,379.5 L613.2,380.1 L613.6,380 L614.1,380.8 L614.6,380.8 L615.1,381.3 L615.5,381.8 L616,382.2 L616.5,382.1 L617,382.4 L617.4,382.9 L617.9,382.7 L618.4,382.6 L618.9,382.5 L619.5,382 L620,381.8 L620.6,382.4 L621,382 L621.3,382.5 L621.6,382.6 L621.8,382.7 L622,382.9 L622.2,382.7 L622.4,383.1 L622.6,382.8 L622.9,383.3 L623.2,383.2 L623.6,383.8 L624.1,384 L624.7,384.1 L625.4,384.2 L626.3,383.7 L627.3,383 L628.6,382.9 L630,382.4 L630.3,383 L630.6,383.2 L631,382.7 L631.3,382.9 L631.7,383.4 L632,383 L632.4,383.1 L632.8,382.6 L633.2,382.9 L633.7,382.3 L634.1,382.7 L634.5,381.9 L635,381.9 L635.4,381.7 L635.9,381.4 L636.4,381.8 L636.9,381.8 L637.4,381.3 L637.9,381 L638.4,380.7 L638.9,380.6 L639.5,380.5 L640,380.9 L640.5,380.6 L641.1,380.8 L641.7,380.8 L642.2,381.3 L642.8,381.5 L643.4,381.5 L643.9,381.4 L644.5,381.5 L645.1,381.1 L645.7,381.3 L646.3,381 L646.9,380.3 L647.5,379.9 L648.1,379.8 L648.7,380.1 L649.3,380.7 L649.9,380.8 L650.5,380.9 L651.1,381.4 L651.7,381.6 L652.4,381.8 L653,381.5 L653.6,381.8 L654.2,382.3 L654.8,382.4 L655.4,382.4 L656,382.4 L656.6,382.3 L657.2,382.2 L657.8,382.1 L658.4,382 L659,381.4 L659.6,381.8 L660.2,381.2 L660.8,381.5 L661.4,381 L662,380.7 L662.5,381.1 L663.1,381.2 L663.7,381.2 L664.2,381.7 L664.8,381.4 L665.3,381.3 L665.8,381.2 L666.4,381.6 L666.9,381.6 L667.4,381.5 L667.9,381.6 L668.4,381.9 L668.9,381.4 L669.3,381.8 L669.8,381.8 L670.3,382.5 L670.7,382.4 L671.2,382.5 L671.6,383.2 L672,382.8 L672.4,382.9 L672.8,383.3 L673.2,383 L673.5,383.5 L673.9,383.2 L674.2,382.8 L674.6,383.1 L674.9,382.9 L675.2,382.3 L675.5,382 L675.7,382 L676,382.2" fill="none" stroke="#555" stroke-width="1.1" stroke-linejoin="round" />
<path d="M485,381.5 L485.3,381.5 L485.6,381.5 L486,381.5 L486.4,381.5 L486.8,381.5 L487.3,381.5 L487.8,381.4 L488.3,381.4 L488.8,381.4 L489.4,381.4 L489.9,381.4 L490.5,381.4 L491.1,381.4 L491.7,381.4 L492.3,381.4 L492.8,381.3 L493.4,381.3 L494,381.3 L494.5,381.3 L495,381.3 L495.5,381.3 L496,381.3 L496.5,381.3 L497.1,381.3 L497.6,381.3 L498.1,381.3 L498.7,381.3 L499.2,381.3 L499.8,381.3 L500.3,381.4 L500.8,381.4 L501.3,381.4 L501.8,381.3 L502.3,381.3 L502.8,381.3 L503.3,381.3 L503.8,381.3 L504.2,381.2 L504.6,381.2 L505,381.1 L505.7,381 L506.3,380.8 L506.8,380.6 L507.3,380.4 L507.7,380.2 L508.2,379.9 L508.6,379.7 L509,379.4 L509.4,379.1 L509.8,378.8 L510.3,378.5 L510.7,378.2 L511.1,378 L511.5,377.7 L511.9,377.4 L512.3,377.1 L512.7,376.8 L513.1,376.5 L513.5,376.2 L513.9,375.8 L514.3,375.5 L514.7,375 L515.1,374.6 L515.5,374.1 L515.8,373.8 L516,373.4 L516.3,373 L516.6,372.6 L516.9,372.2 L517.1,371.8 L517.4,371.3 L517.7,370.9 L518,370.4 L518.3,370 L518.5,369.5 L518.8,369 L519.1,368.5 L519.3,368.1 L519.6,367.6 L519.9,367.1 L520.1,366.7 L520.3,366.2 L520.6,365.7 L520.8,365.3 L521,364.8 L521.3,364.4 L521.5,363.9 L521.7,363.5 L521.9,363 L522.1,362.6 L522.3,362.2 L522.5,361.7 L522.7,361.3 L522.8,360.8 L523,360.4 L523.2,359.9 L523.4,359.4 L523.6,358.9 L523.7,358.4 L523.9,357.8 L524.1,357.2 L524.3,356.6 L524.4,356.2 L524.5,355.8 L524.7,355.3 L524.8,354.9 L524.9,354.4 L525,354 L525.2,353.5 L525.3,353 L525.4,352.5 L525.5,352 L525.7,351.5 L525.8,351 L525.9,350.5 L526,349.9 L526.2,349.4 L526.3,348.9 L526.4,348.4 L526.5,347.8 L526.7,347.3 L526.8,346.8 L526.9,346.2 L527,345.7 L527.2,345.2 L527.3,344.7 L527.4,344.1 L527.5,343.6 L527.7,343.1 L527.8,342.6 L527.9,342.1 L528,341.6 L528.2,341.1 L528.3,340.6 L528.4,340.2 L528.5,339.7 L528.6,339.2 L528.8,338.7 L528.9,338.2 L529,337.7 L529.1,337.2 L529.2,336.7 L529.4,336.2 L529.5,335.7 L529.6,335.2 L529.7,334.7 L529.9,334.2 L530,333.7 L530.1,333.2 L530.2,332.7 L530.3,332.3 L530.5,331.8 L530.6,331.3 L530.7,330.8 L530.8,330.3 L530.9,329.9 L531.1,329.4 L531.2,329 L531.3,328.5 L531.4,328 L531.6,327.5 L531.7,326.9 L531.9,326.4 L532,325.9 L532.1,325.4 L532.3,324.9 L532.4,324.4 L532.6,323.9 L532.7,323.4 L532.8,322.9 L533,322.4 L533.1,321.9 L533.3,321.4 L533.4,321 L533.5,320.5 L533.7,320 L533.8,319.5 L534,319.1 L534.1,318.6 L534.2,318.1 L534.4,317.7 L534.5,317.2 L534.7,316.8 L534.8,316.3 L535,315.8 L535.1,315.3 L535.3,314.7 L535.4,314.2 L535.6,313.7 L535.8,313.2 L535.9,312.7 L536.1,312.1 L536.2,311.6 L536.4,311.1 L536.5,310.6 L536.7,310.1 L536.9,309.6 L537,309.2 L537.2,308.7 L537.3,308.2 L537.5,307.8 L537.7,307.4 L537.8,307 L538,306.6 L538.1,306.2 L538.3,305.8 L538.6,305.2 L538.9,304.6 L539.1,304 L539.4,303.5 L539.7,303 L539.9,302.5 L540.2,302.1 L540.5,301.7 L540.8,301.4 L541.1,301 L541.4,300.8 L541.8,300.5 L542.3,300.3 L542.7,300.1 L543.2,300 L543.8,300 L544.3,300 L544.8,300 L545.4,300.1 L545.9,300.1 L546.5,300.2 L547,300.2 L547.5,300.2 L548.1,300.2 L548.6,300.3 L549.2,300.3 L549.8,300.3 L550.3,300.4 L550.8,300.5 L551.4,300.6 L551.8,300.7 L552.3,300.9 L552.8,301.1 L553.2,301.4 L553.6,301.7 L554,302 L554.3,302.3 L554.7,302.7 L555.1,303.1 L555.4,303.5 L555.8,304 L556.1,304.3 L556.4,304.7 L556.6,305 L556.9,305.4 L557.2,305.8 L557.4,306.2 L557.7,306.6 L558,307.1 L558.3,307.6 L558.6,308.1 L558.9,308.7 L559.3,309.3 L559.5,309.7 L559.7,310 L559.9,310.4 L560.1,310.8 L560.3,311.3 L560.6,311.7 L560.8,312.2 L561,312.6 L561.2,313.1 L561.5,313.6 L561.7,314.1 L562,314.6 L562.2,315.1 L562.4,315.6 L562.7,316.1 L562.9,316.6 L563.2,317.1 L563.4,317.5 L563.7,318 L563.9,318.5 L564.1,318.9 L564.4,319.4 L564.6,319.8 L564.9,320.3 L565.1,320.8 L565.4,321.2 L565.6,321.7 L565.9,322.1 L566.2,322.6 L566.4,323 L566.7,323.5 L566.9,323.9 L567.2,324.4 L567.5,324.8 L567.7,325.2 L568,325.7 L568.2,326.1 L568.5,326.5 L568.8,326.9 L569,327.3 L569.3,327.7 L569.5,328.1 L569.8,328.5 L570.1,329 L570.4,329.4 L570.7,329.8 L571,330.3 L571.4,330.7 L571.7,331.1 L572,331.5 L572.3,331.9 L572.6,332.3 L572.9,332.7 L573.2,333.1 L573.5,333.5 L573.9,333.9 L574.2,334.3 L574.5,334.7 L574.8,335.1 L575.1,335.5 L575.4,335.9 L575.7,336.3 L576,336.7 L576.3,337.2 L576.6,337.6 L576.9,338 L577.2,338.4 L577.5,338.8 L577.9,339.3 L578.2,339.7 L578.5,340.1 L578.8,340.5 L579.1,340.9 L579.4,341.4 L579.7,341.8 L580,342.2 L580.3,342.6 L580.6,343 L580.9,343.4 L581.2,343.8 L581.5,344.3 L581.9,344.7 L582.2,345.1 L582.5,345.5 L582.8,345.9 L583.1,346.3 L583.4,346.7 L583.7,347.1 L584,347.5 L584.4,348 L584.7,348.4 L585,348.8 L585.3,349.2 L585.6,349.6 L585.9,350 L586.2,350.4 L586.5,350.8 L586.8,351.2 L587.1,351.7 L587.4,352.1 L587.7,352.5 L588,352.9 L588.4,353.3 L588.7,353.7 L589,354.1 L589.3,354.5 L589.6,355 L589.9,355.4 L590.2,355.8 L590.5,356.2 L590.8,356.6 L591.1,357 L591.4,357.4 L591.7,357.9 L592,358.3 L592.4,358.7 L592.7,359.1 L593,359.6 L593.3,360 L593.6,360.4 L593.9,360.8 L594.2,361.3 L594.5,361.7 L594.9,362.1 L595.2,362.5 L595.5,362.9 L595.8,363.2 L596.1,363.6 L596.5,364 L596.9,364.4 L597.2,364.8 L597.6,365.2 L598,365.6 L598.4,365.9 L598.8,366.3 L599.1,366.7 L599.5,367 L599.9,367.4 L600.3,367.7 L600.6,368.1 L601,368.4 L601.4,368.8 L601.8,369.2 L602.1,369.6 L602.5,369.9 L602.8,370.3 L603.2,370.7 L603.5,371.1 L603.9,371.5 L604.3,371.9 L604.6,372.3 L605,372.6 L605.4,373 L605.8,373.4 L606.2,373.7 L606.6,374.1 L607,374.4 L607.4,374.7 L607.8,375 L608.2,375.3 L608.7,375.6 L609.1,375.9 L609.5,376.2 L610,376.5 L610.4,376.7 L610.9,377 L611.4,377.3 L611.8,377.5 L612.3,377.8 L612.7,378 L613.2,378.3 L613.6,378.5 L614.1,378.7 L614.6,379 L615.1,379.2 L615.5,379.4 L616,379.7 L616.5,379.9 L617,380.1 L617.4,380.2 L617.9,380.4 L618.4,380.6 L618.9,380.7 L619.5,380.9 L620,381 L620.6,381.1 L621,381.2 L621.3,381.2 L621.6,381.3 L621.8,381.3 L622,381.4 L622.2,381.4 L622.4,381.4 L622.6,381.5 L622.9,381.5 L623.2,381.5 L623.6,381.5 L624.1,381.5 L624.7,381.5 L625.4,381.5 L626.3,381.5 L627.3,381.5 L628.6,381.5 L630,381.5 L630.3,381.5 L630.6,381.5 L631,381.5 L631.3,381.5 L631.7,381.5 L632,381.5 L632.4,381.5 L632.8,381.5 L633.2,381.5 L633.7,381.5 L634.1,381.5 L634.5,381.5 L635,381.5 L635.4,381.5 L635.9,381.5 L636.4,381.5 L636.9,381.5 L637.4,381.5 L637.9,381.5 L638.4,381.5 L638.9,381.5 L639.5,381.5 L640,381.5 L640.5,381.5 L641.1,381.5 L641.7,381.5 L642.2,381.5 L642.8,381.5 L643.4,381.5 L643.9,381.5 L644.5,381.5 L645.1,381.5 L645.7,381.5 L646.3,381.5 L646.9,381.5 L647.5,381.5 L648.1,381.5 L648.7,381.5 L649.3,381.5 L649.9,381.5 L650.5,381.5 L651.1,381.5 L651.7,381.5 L652.4,381.5 L653,381.5 L653.6,381.5 L654.2,381.5 L654.8,381.5 L655.4,381.5 L656,381.5 L656.6,381.5 L657.2,381.5 L657.8,381.5 L658.4,381.5 L659,381.5 L659.6,381.5 L660.2,381.5 L660.8,381.5 L661.4,381.5 L662,381.5 L662.5,381.5 L663.1,381.5 L663.7,381.5 L664.2,381.5 L664.8,381.5 L665.3,381.5 L665.8,381.5 L666.4,381.5 L666.9,381.5 L667.4,381.5 L667.9,381.5 L668.4,381.5 L668.9,381.5 L669.3,381.5 L669.8,381.5 L670.3,381.5 L670.7,381.5 L671.2,381.5 L671.6,381.5 L672,381.5 L672.4,381.5 L672.8,381.5 L673.2,381.5 L673.5,381.5 L673.9,381.5 L674.2,381.5 L674.6,381.5 L674.9,381.5 L675.2,381.5 L675.5,381.5 L675.7,381.5 L676,381.5" fill="none" stroke="#f2cc30" stroke-width="1.3" stroke-linejoin="round" stroke-dasharray="3.3,2.2"/>
<rect x="484.4" y="243.4" width="192" height="153.7" fill="none" stroke="#1a1a1a" stroke-width="1.3" />
<line x1="485.3" y1="397.1" x2="485.3" y2="395.1" stroke="#1a1a1a" stroke-width="1" />
<line x1="498.9" y1="397.1" x2="498.9" y2="395.9" stroke="#1a1a1a" stroke-width="1" />
<text x="485.3" y="407.5" font-size="9.7" text-anchor="middle" font-weight="bold" fill="#000" font-family="Liberation Serif" >5</text>
<line x1="512.6" y1="397.1" x2="512.6" y2="395.1" stroke="#1a1a1a" stroke-width="1" />
<line x1="526.2" y1="397.1" x2="526.2" y2="395.9" stroke="#1a1a1a" stroke-width="1" />
<text x="512.6" y="407.5" font-size="9.7" text-anchor="middle" font-weight="bold" fill="#000" font-family="Liberation Serif" >10</text>
<line x1="539.9" y1="397.1" x2="539.9" y2="395.1" stroke="#1a1a1a" stroke-width="1" />
<line x1="553.5" y1="397.1" x2="553.5" y2="395.9" stroke="#1a1a1a" stroke-width="1" />
<text x="539.9" y="407.5" font-size="9.7" text-anchor="middle" font-weight="bold" fill="#000" font-family="Liberation Serif" >15</text>
<line x1="567.2" y1="397.1" x2="567.2" y2="395.1" stroke="#1a1a1a" stroke-width="1" />
<line x1="580.9" y1="397.1" x2="580.9" y2="395.9" stroke="#1a1a1a" stroke-width="1" />
<text x="567.2" y="407.5" font-size="9.7" text-anchor="middle" font-weight="bold" fill="#000" font-family="Liberation Serif" >20</text>
<line x1="594.5" y1="397.1" x2="594.5" y2="395.1" stroke="#1a1a1a" stroke-width="1" />
<line x1="608.1" y1="397.1" x2="608.1" y2="395.9" stroke="#1a1a1a" stroke-width="1" />
<text x="594.5" y="407.5" font-size="9.7" text-anchor="middle" font-weight="bold" fill="#000" font-family="Liberation Serif" >25</text>
<line x1="621.8" y1="397.1" x2="621.8" y2="395.1" stroke="#1a1a1a" stroke-width="1" />
<line x1="635.5" y1="397.1" x2="635.5" y2="395.9" stroke="#1a1a1a" stroke-width="1" />
<text x="621.8" y="407.5" font-size="9.7" text-anchor="middle" font-weight="bold" fill="#000" font-family="Liberation Serif" >30</text>
<line x1="649.1" y1="397.1" x2="649.1" y2="395.1" stroke="#1a1a1a" stroke-width="1" />
<line x1="662.8" y1="397.1" x2="662.8" y2="395.9" stroke="#1a1a1a" stroke-width="1" />
<text x="649.1" y="407.5" font-size="9.7" text-anchor="middle" font-weight="bold" fill="#000" font-family="Liberation Serif" >35</text>
<line x1="676.4" y1="397.1" x2="676.4" y2="395.1" stroke="#1a1a1a" stroke-width="1" />
<line x1="690" y1="397.1" x2="690" y2="395.9" stroke="#1a1a1a" stroke-width="1" />
<text x="676.4" y="407.5" font-size="9.7" text-anchor="middle" font-weight="bold" fill="#000" font-family="Liberation Serif" >40</text>
<text x="580.6" y="425.9" font-size="12.8" text-anchor="middle" font-weight="bold" fill="#000" font-family="Liberation Serif" >2θ (degree)</text>
<text transform="translate(477,320) rotate(-90)" font-size="12.9" text-anchor="middle" font-weight="bold" fill="#000" font-family="Liberation Serif">Intensity</text>
<line x1="490.1" y1="248.6" x2="506.7" y2="248.6" stroke="#555" stroke-width="1.4" />
<text x="511.6" y="251.7" font-size="9.5" text-anchor="start" font-weight="bold" fill="#000" font-family="Liberation Serif" >Experimental data</text>
<line x1="490.1" y1="259.9" x2="506.7" y2="259.9" stroke="#f2cc30" stroke-width="1.6" stroke-dasharray="3.3,2.6"/>
<text x="511.6" y="263" font-size="9.5" text-anchor="start" font-weight="bold" fill="#000" font-family="Liberation Serif" >Fitting curve</text>
<linearGradient id="lg338813258" x1="0" y1="0" x2="0" y2="1"><stop offset="0" stop-color="#f4bcc6"/><stop offset="1" stop-color="#fff"/></linearGradient>
<rect x="490.1" y="267.2" width="16.6" height="7.9" fill="url(#lg338813258)" stroke="#f28a94" stroke-width="0.9" />
<text x="511.6" y="274.2" font-size="9.5" text-anchor="start" font-weight="bold" fill="#000" font-family="Liberation Serif" >π-stack</text>
<linearGradient id="lg347100717" x1="0" y1="0" x2="0" y2="1"><stop offset="0" stop-color="#b8f0c8"/><stop offset="1" stop-color="#fff"/></linearGradient>
<rect x="490.1" y="278.5" width="16.6" height="7.9" fill="url(#lg347100717)" stroke="#7ee09c" stroke-width="0.9" />
<text x="511.6" y="285.5" font-size="9.5" text-anchor="start" font-weight="bold" fill="#000" font-family="Liberation Serif" >ch-pack</text>
<linearGradient id="lg451558524" x1="0" y1="0" x2="0" y2="1"><stop offset="0" stop-color="#c4daf0"/><stop offset="1" stop-color="#fff"/></linearGradient>
<rect x="490.1" y="289.7" width="16.6" height="7.9" fill="url(#lg451558524)" stroke="#90b8e0" stroke-width="0.9" />
<text x="511.6" y="296.7" font-size="9.5" text-anchor="start" font-weight="bold" fill="#000" font-family="Liberation Serif" >amorphous</text>
<text x="647.8" y="261.6" font-size="13" text-anchor="middle" font-weight="bold" fill="#000" font-family="Liberation Serif" >TPEI</text>
<text x="625.8" y="283.7" font-size="9.4" text-anchor="middle" font-weight="bold" fill="#f22222" font-family="Liberation Serif" >2θ = 17.50 (°)</text>
<text x="628.1" y="296.1" font-size="9.4" text-anchor="middle" font-weight="bold" fill="#f22222" font-family="Liberation Serif" ><tspan font-style="italic">d</tspan>-spacing = 5.07 (Å)</text>
<text x="628.7" y="311.3" font-size="10.3" text-anchor="middle" font-weight="bold" fill="#000" font-family="Liberation Serif" >66.05%</text>
<text x="511.7" y="322" font-size="9.4" text-anchor="middle" font-weight="bold" fill="#f22222" font-family="Liberation Serif" >2θ = 14.49 (°)</text>
<text x="505.7" y="336.3" font-size="9.4" text-anchor="middle" font-weight="bold" fill="#f22222" font-family="Liberation Serif" ><tspan font-style="italic">d</tspan>-spacing</text>
<text x="506.3" y="347.9" font-size="9.4" text-anchor="middle" font-weight="bold" fill="#f22222" font-family="Liberation Serif" >= 6.11 (Å)</text>
<text x="501.9" y="362" font-size="10.3" text-anchor="middle" font-weight="bold" fill="#000" font-family="Liberation Serif" >13.27%</text>
<text x="630.8" y="339" font-size="9.4" text-anchor="middle" font-weight="bold" fill="#f22222" font-family="Liberation Serif" >2θ = 23.34 (°)</text>
<text x="633.7" y="351.5" font-size="9.4" text-anchor="middle" font-weight="bold" fill="#f22222" font-family="Liberation Serif" ><tspan font-style="italic">d</tspan>-spacing = 3.81 (Å)</text>
<text x="634" y="366.5" font-size="10.3" text-anchor="middle" font-weight="bold" fill="#000" font-family="Liberation Serif" >20.68%</text>
<line x1="564.7" y1="330.9" x2="607.8" y2="307.7" stroke="#6adc8a" stroke-width="1.1" />
<line x1="607.8" y1="307.7" x2="603.8" y2="307.7" stroke="#6adc8a" stroke-width="1.1" />
<line x1="607.8" y1="307.7" x2="605.6" y2="311.1" stroke="#6adc8a" stroke-width="1.1" />
<line x1="599.1" y1="374" x2="614.1" y2="363.2" stroke="#f07078" stroke-width="1.1" />
<line x1="614.1" y1="363.2" x2="610.1" y2="363.7" stroke="#f07078" stroke-width="1.1" />
<line x1="614.1" y1="363.2" x2="612.4" y2="366.8" stroke="#f07078" stroke-width="1.1" />
<line x1="520.8" y1="375.2" x2="513" y2="366.5" stroke="#7aaee0" stroke-width="1.1" />
<line x1="513" y1="366.5" x2="513.9" y2="370.4" stroke="#7aaee0" stroke-width="1.1" />
<line x1="513" y1="366.5" x2="516.8" y2="367.8" stroke="#7aaee0" stroke-width="1.1" />
<text x="3.8" y="448" font-size="35" text-anchor="start" font-weight="bold" fill="#000" font-family="Liberation Serif" >g</text>
<rect x="56" y="458.7" width="59.7" height="146.8" fill="#e6f5fc" stroke="none" stroke-width="1" />
<path d="M32.4,555.3 L32.8,555.4 L33.4,555.1 L34,555.4 L34.7,555.5 L35.5,555.4 L36.3,555.3 L37.2,555.4 L38.1,554.9 L38.9,555.1 L39.8,555 L40.6,554.8 L41.3,554.8 L42,554.5 L42.8,554.8 L43.6,554.3 L44.3,554.3 L45,553.9 L45.7,554.2 L46.3,553.5 L47,553.5 L47.6,552.9 L48.3,552.7 L49,552.4 L49.6,551.9 L50.2,552.1 L50.8,551.6 L51.4,550.8 L52,550.7 L52.6,550 L53.2,549.8 L53.7,549.5 L54.3,548.7 L54.9,548.6 L55.5,548 L56,547.6 L56.5,547.3 L57.1,546.3 L57.6,546.1 L58.1,545.7 L58.6,544.9 L59.1,544.2 L59.6,544 L60.1,543.3 L60.6,542.5 L61.1,542.4 L61.5,541.4 L62,541.1 L62.4,540.3 L62.8,539.9 L63.2,539.3 L63.6,538.6 L64,538.2 L64.4,537.9 L64.8,536.9 L65.2,536.5 L65.6,536.1 L66,535 L66.4,534.9 L66.8,534.3 L67.2,533.6 L67.6,532.6 L68.1,532.2 L68.5,531.6 L69,531.2 L69.4,530.4 L69.9,530.2 L70.3,529.7 L70.8,528.6 L71.2,528.4 L71.7,527.6 L72.1,527.1 L72.6,526.5 L73,525.9 L73.5,525.4 L73.9,524.9 L74.4,524.1 L74.9,523.5 L75.4,523 L75.8,522.3 L76.3,522 L76.7,521.4 L77.2,521 L77.6,520.5 L78,520 L78.4,519.3 L79.1,518.7 L79.7,517.9 L80.3,517.8 L80.9,517.4 L81.4,516.8 L82,516.3 L82.7,515.7 L83.4,515.4 L84,515.2 L84.7,514.8 L85.5,514.8 L86.2,514.5 L86.9,514.8 L87.6,515.2 L88.4,515.8 L89.2,515.8 L90,516.3 L90.6,516.5 L91.3,516.7 L91.9,517.2 L92.6,517.9 L93.2,518.1 L93.9,518.6 L94.6,519.1 L95.3,519.6 L95.9,520 L96.5,520.5 L97.2,521 L97.8,521.3 L98.5,521.7 L99.1,522.4 L99.7,522.6 L100.4,523.1 L101,523.2 L101.6,524 L102.3,524.4 L102.9,525.1 L103.5,525 L104.1,525.5 L104.7,526.2 L105.3,526.7 L105.9,527 L106.5,527.1 L107.2,528.1 L107.8,528.3 L108.5,529 L109.1,529.5 L109.7,529.8 L110.3,530.2 L111,530.7 L111.6,530.7 L112.3,531.5 L112.9,532 L113.6,532.1 L114.2,532.5 L114.9,532.8 L115.6,532.9 L116.3,532.7 L117,533.1 L117.7,532.9 L118.4,532.4 L119,532.3 L119.8,531.7 L120.5,531.5 L121.2,531.2 L122,531 L122.6,530.9 L123.3,530.8 L124,530.4 L124.8,529.9 L125.5,529.6 L126.2,529.2 L126.9,529.2 L127.6,528.8 L128.3,528.7 L128.9,528.4 L129.7,528.2 L130.5,528 L131.2,527.6 L131.8,527.4 L132.5,527.3 L133.2,526.8 L134,526.9 L134.7,526.4 L135.4,526.4 L136.2,526.3 L136.9,526.2 L137.7,526 L138.5,526.1 L139.3,525.6 L140.1,525.8 L140.8,525.6 L141.6,525.2 L142.3,525.1 L143.1,525.3 L143.9,525.1 L144.7,525 L145.4,525 L146.2,524.5 L147,524.4 L147.7,524.8 L148.5,524.3 L149.2,524.3 L150,524 L150.7,523.8 L151.5,524.1 L152.2,524 L152.9,523.6 L153.5,523.5 L154.1,523.9 L155.1,523.6 L155.9,524.1 L156.6,524 L157.2,524.7 L158,524.5 L158.7,524.8 L159.4,525 L160.2,525.5 L160.9,525.9 L161.7,525.9 L162.5,526.5 L163.1,527.1 L163.7,527.1 L164.3,527.6 L164.9,528 L165.5,528.1 L166.1,528.8 L166.7,529.1 L167.4,529.3 L168,529.5 L168.6,529.8 L169.2,530.7 L169.9,530.9 L170.5,531.2 L171.1,531.5 L171.7,531.6 L172.4,532.1 L173,532.3 L173.7,533.1 L174.4,533.4 L175,533.4 L175.7,533.7 L176.4,533.9 L177.1,534.3 L177.8,534.5 L178.5,534.2 L179.2,534.9 L180,534.9 L180.7,534.9 L181.4,535.3 L182.1,535.1 L182.8,535.7 L183.6,535.9 L184.3,535.6 L185.1,535.9 L185.8,536.5 L186.5,536.7 L187.2,536.7 L187.8,537.1 L188.7,536.8 L189.5,537.3 L190.2,537.8 L190.9,537.6 L191.5,538.1 L192.2,538.2 L193,538.8 L193.7,539.2 L194.4,539.1 L195.1,539.5 L195.9,539.3 L196.6,539.7 L197.4,540.3 L198.2,540.5 L199,540.3 L199.7,540.5 L200.3,540.8 L201,541.4 L201.7,541.2 L202.3,541.5 L203.1,541.8 L203.8,542.2 L204.5,542.6 L205.2,542.7 L206,543.2 L206.7,543.2 L207.4,543.7 L208.2,543.7 L209,544.2 L209.8,544.3 L210.6,544.7 L211.4,544.8 L212.2,545.5 L212.9,545.4 L213.5,546 L214,546 L214.4,546.1" fill="none" stroke="#3d9af0" stroke-width="1.5" stroke-linejoin="round" />
<path d="M32.4,555.7 L32.8,556.1 L33.4,556.1 L34,555.9 L34.7,555.7 L35.5,556 L36.3,555.7 L37.2,556 L38.1,555.9 L38.9,555.4 L39.8,555.5 L40.6,555.8 L41.3,555.6 L42,555.1 L42.8,555.1 L43.6,555.2 L44.3,554.4 L45,554.3 L45.7,554.4 L46.3,553.9 L47,553.8 L47.6,553.3 L48.3,552.9 L49,552.6 L49.5,552.3 L50.1,551.5 L50.6,551.3 L51.2,551.1 L51.7,550.6 L52.3,549.6 L52.8,549.3 L53.4,548.6 L53.9,548.5 L54.5,547.6 L55,547.4 L55.5,546.6 L56,546.4 L56.5,545.3 L57,545.1 L57.5,544.6 L57.9,544 L58.4,543.4 L58.9,543.1 L59.3,542.2 L59.8,542.1 L60.2,541.5 L60.7,540.9 L61.1,540.3 L61.6,539.5 L62,539 L62.4,538.3 L62.8,537.7 L63.2,537.3 L63.6,536.4 L64,535.8 L64.4,535.5 L64.8,535.1 L65.2,534.3 L65.6,533.3 L66,532.6 L66.4,531.9 L66.8,531.5 L67.2,530.9 L67.5,530.1 L67.8,529.3 L68.1,529.2 L68.5,528.5 L68.8,527.5 L69.1,527.2 L69.4,526.6 L69.8,525.6 L70.1,525 L70.4,524 L70.7,523.5 L71.1,522.8 L71.4,522.5 L71.7,521.7 L72,520.8 L72.4,520.4 L72.7,519.4 L73,518.7 L73.3,518.3 L73.7,517.9 L74,517.2 L74.3,516.2 L74.6,515.5 L75,514.9 L75.3,514.2 L75.6,513.7 L75.9,512.9 L76.3,512.1 L76.6,511.5 L76.9,511 L77.2,510.1 L77.5,509.6 L77.8,509.1 L78.1,508.6 L78.4,508 L78.9,507.5 L79.5,506.9 L80,506 L80.5,505.9 L81,505 L81.4,504.7 L81.9,504.4 L82.5,504 L83,503.8 L83.6,502.8 L84.3,502.4 L85,502 L85.6,501.7 L86.3,501.6 L87,501.5 L87.7,501.4 L88.3,501.4 L89,501.3 L89.7,501.4 L90.3,501.5 L91,501.7 L91.6,502 L92.3,502.4 L93,502.6 L93.6,503.1 L94.2,503.2 L94.8,504 L95.5,503.9 L96.1,504.5 L96.8,504.5 L97.4,504.9 L98.1,505.4 L98.7,505.7 L99.4,506.3 L100,506.2 L100.7,506.4 L101.4,506.8 L102,507.6 L102.7,507.5 L103.4,508.4 L104,508.3 L104.6,509.2 L105.2,509.3 L105.9,510.1 L106.5,510.3 L107.1,510.7 L107.6,511 L108.2,511.7 L108.8,512.1 L109.3,512.8 L110.1,513 L110.8,513.5 L111.5,513.6 L112.1,514 L112.8,514.2 L113.5,514.1 L114.2,514.5 L114.9,514.7 L115.5,514.6 L116.2,514.5 L116.9,514.5 L117.7,514.7 L118.4,514.9 L119.1,514.5 L119.9,514.2 L120.6,514.1 L121.4,514.1 L122.2,514 L123,513.4 L123.7,513.5 L124.5,513.1 L125.2,513.2 L126,513.2 L126.7,512.9 L127.5,512.8 L128.2,513.2 L128.9,512.8 L129.7,513.2 L130.4,512.9 L131.1,513 L131.8,513.1 L132.5,513.6 L133.2,513.3 L134,513.4 L134.7,513.7 L135.5,513.7 L136.2,514 L137,513.7 L137.8,513.6 L138.6,514 L139.3,513.9 L140.1,513.9 L140.9,513.7 L141.6,514.1 L142.4,513.9 L143.1,513.5 L143.8,513.5 L144.6,513.2 L145.3,513.7 L146,513.1 L146.8,513.2 L147.6,513 L148.4,513.1 L149.2,513.1 L149.9,512.8 L150.6,513 L151.3,513.1 L152.1,512.9 L152.8,513.5 L153.5,513.3 L154.2,513.7 L155,514.3 L155.6,514.2 L156.2,514.3 L156.9,514.8 L157.5,515.1 L158.2,515.6 L158.9,516.5 L159.7,516.8 L160.3,516.8 L160.8,517.3 L161.4,517.7 L162,517.9 L162.7,518.3 L163.3,518.6 L164,519.5 L164.6,519.6 L165.3,520.1 L166,520.7 L166.6,520.9 L167.2,521.2 L167.9,521.8 L168.5,522.1 L169.2,522.3 L169.8,523 L170.5,523 L171.2,523.7 L171.8,523.8 L172.5,524.4 L173.1,524.6 L173.7,525.1 L174.5,525.4 L175.2,526 L175.8,526.1 L176.5,526.3 L177.2,526.9 L177.8,527.1 L178.5,527.5 L179.2,527.8 L180,527.7 L180.7,528.3 L181.4,528.2 L182.1,529 L182.8,529 L183.6,529.3 L184.3,529.4 L185.1,529.4 L185.8,529.8 L186.5,530.1 L187.2,530.3 L187.8,531 L188.6,530.9 L189.3,531.4 L189.9,531.6 L190.5,532.3 L191.1,532.2 L191.7,533.1 L192.3,532.9 L193,533.4 L193.6,533.8 L194.3,534 L194.9,534.2 L195.6,534.9 L196.2,534.8 L196.9,535.2 L197.6,535.4 L198.3,535.7 L199,536.2 L199.7,536.6 L200.3,536.5 L201,537.1 L201.7,537.3 L202.3,537.9 L203.1,538.2 L203.8,538.2 L204.5,538.5 L205.2,538.4 L206,539 L206.7,539.5 L207.4,539.8 L208.2,540 L209,540.4 L209.8,540.8 L210.6,540.9 L211.4,541 L212.2,541.6 L212.9,541.6 L213.5,542.3 L214,542.1 L214.4,542.4" fill="none" stroke="#ec5a64" stroke-width="1.5" stroke-linejoin="round" />
<line x1="79.3" y1="526.5" x2="88.3" y2="502.1" stroke="#3ce080" stroke-width="1.0" />
<line x1="88.3" y1="502.1" x2="85.7" y2="504.4" stroke="#3ce080" stroke-width="1.0" />
<line x1="88.3" y1="502.1" x2="88.8" y2="505.6" stroke="#3ce080" stroke-width="1.0" />
<rect x="32.4" y="458.7" width="182.5" height="146.8" fill="none" stroke="#1a1a1a" stroke-width="1.3" />
<line x1="32.1" y1="605.5" x2="32.1" y2="603.5" stroke="#1a1a1a" stroke-width="1" />
<line x1="55" y1="605.5" x2="55" y2="604.3" stroke="#1a1a1a" stroke-width="1" />
<line x1="77.8" y1="605.5" x2="77.8" y2="603.5" stroke="#1a1a1a" stroke-width="1" />
<line x1="100.7" y1="605.5" x2="100.7" y2="604.3" stroke="#1a1a1a" stroke-width="1" />
<line x1="123.5" y1="605.5" x2="123.5" y2="603.5" stroke="#1a1a1a" stroke-width="1" />
<line x1="146.3" y1="605.5" x2="146.3" y2="604.3" stroke="#1a1a1a" stroke-width="1" />
<line x1="169.2" y1="605.5" x2="169.2" y2="603.5" stroke="#1a1a1a" stroke-width="1" />
<line x1="192.1" y1="605.5" x2="192.1" y2="604.3" stroke="#1a1a1a" stroke-width="1" />
<line x1="214.9" y1="605.5" x2="214.9" y2="603.5" stroke="#1a1a1a" stroke-width="1" />
<text x="32.1" y="616.6" font-size="8.8" text-anchor="middle" font-weight="bold" fill="#000" font-family="Liberation Serif" >0.5</text>
<text x="77.8" y="616.6" font-size="8.8" text-anchor="middle" font-weight="bold" fill="#000" font-family="Liberation Serif" >1.0</text>
<text x="123.5" y="616.6" font-size="8.8" text-anchor="middle" font-weight="bold" fill="#000" font-family="Liberation Serif" >1.5</text>
<text x="169.2" y="616.6" font-size="8.8" text-anchor="middle" font-weight="bold" fill="#000" font-family="Liberation Serif" >2.0</text>
<text x="214.9" y="616.6" font-size="8.8" text-anchor="middle" font-weight="bold" fill="#000" font-family="Liberation Serif" >2.5</text>
<text x="124.2" y="632.6" font-size="12" text-anchor="middle" font-weight="bold" fill="#000" font-family="Liberation Serif" >q (Å<tspan font-size="8.5" dy="-5">-1</tspan><tspan dy="5">)</tspan></text>
<text transform="translate(25.3,532.3) rotate(-90)" font-size="12.6" text-anchor="middle" font-weight="bold" fill="#000" font-family="Liberation Serif">Intensity</text>
<text x="85.9" y="491.6" font-size="12.4" text-anchor="middle" font-weight="bold" fill="#000" font-family="Liberation Serif" >ch-pack</text>
<line x1="162" y1="469.6" x2="173.7" y2="469.6" stroke="#ec5a64" stroke-width="1.6" />
<text x="178.5" y="472.8" font-size="9.3" text-anchor="start" font-weight="bold" fill="#000" font-family="Liberation Serif" >TPEI</text>
<line x1="162" y1="482.2" x2="173.7" y2="482.2" stroke="#3d9af0" stroke-width="1.6" />
<text x="178.5" y="485.4" font-size="9.3" text-anchor="start" font-weight="bold" fill="#000" font-family="Liberation Serif" >TPEI<tspan font-size="7" dy="2">u</tspan></text>
<text x="239.5" y="450.6" font-size="35" text-anchor="start" font-weight="bold" fill="#000" font-family="Liberation Serif" >h</text>
<defs><clipPath id="ch"><rect x="271.2" y="457.6" width="174.2" height="147.4"/></clipPath><radialGradient id="rgh" gradientUnits="userSpaceOnUse" cx="358.6" cy="609.8" r="110" gradientTransform="translate(358.6,609.8) scale(1,1.04) translate(-358.6,-609.8)"><stop offset="0.0000" stop-color="#a8f070"/><stop offset="0.1182" stop-color="#90f0b0"/><stop offset="0.1818" stop-color="#80f0e0"/><stop offset="0.2455" stop-color="#7cf0fa"/><stop offset="0.3273" stop-color="#76e4fc"/><stop offset="0.4000" stop-color="#6ed4fc"/><stop offset="0.4636" stop-color="#66c4fc"/><stop offset="0.5000" stop-color="#5aa8fc"/><stop offset="0.5273" stop-color="#4880fc"/><stop offset="0.5545" stop-color="#3448fc"/><stop offset="0.5818" stop-color="#2c2cf6"/><stop offset="0.6091" stop-color="#2a22ee"/><stop offset="0.6364" stop-color="#1e12c8"/><stop offset="0.6636" stop-color="#1a0cbc"/><stop offset="0.6909" stop-color="#2414dc"/><stop offset="0.7182" stop-color="#2a18f4"/><stop offset="1.0000" stop-color="#2c18fa"/></radialGradient><radialGradient id="yb" cx="0.5" cy="0.5" r="0.5"><stop offset="0" stop-color="#dcf034"/><stop offset="0.3" stop-color="#c8f040" stop-opacity="0.95"/><stop offset="0.62" stop-color="#98f09c" stop-opacity="0.6"/><stop offset="1" stop-color="#80f0d8" stop-opacity="0"/></radialGradient></defs>
<g clip-path="url(#ch)">
<rect x="271.2" y="457.6" width="174.2" height="147.4" fill="#13018f" stroke="none" stroke-width="1" />
<path d="M271.2,606 L271.2,522.9 L290,519.5 L310,516.5 L330.6,514.3 L386.6,514.3 L386,514.3 L406.6,516.5 L426.6,519.5 L445.4,522.9 L445.4,606 Z" fill="url(#rgh)"/>
<ellipse cx="345.2" cy="603" rx="16" ry="30" fill="url(#yb)"/>
<ellipse cx="372" cy="603" rx="16" ry="30" fill="url(#yb)"/>
<path d="M257.6,440 L257.6,449.8 L260,451.3 L262.5,452.8 L264.9,454.3 L267.4,455.8 L269.8,457.3 L272.2,458.8 L274.6,460.3 L277,461.8 L279.4,463.3 L281.7,464.8 L284,466.3 L286.2,467.8 L288.4,469.3 L290.5,470.8 L292.6,472.3 L294.5,473.8 L296.3,475.3 L298.1,476.8 L299.8,478.3 L301.4,479.8 L303,481.3 L304.6,482.8 L306.1,484.3 L307.6,485.8 L309.2,487.3 L310.7,488.8 L312.1,490.3 L313.6,491.8 L314.9,493.3 L316.3,494.8 L317.6,496.3 L318.9,497.8 L320.1,499.3 L321.2,500.8 L322.3,502.3 L323.4,503.8 L324.4,505.3 L325.5,506.8 L326.5,508.3 L327.5,509.8 L328.5,511.3 L329.4,512.8 L330.3,514.3 L331.3,515.8 L332.2,517.3 L333.1,518.8 L333.9,520.3 L334.8,521.8 L335.7,523.3 L336.5,524.8 L337.3,526.3 L338.1,527.8 L338.9,529.3 L339.7,530.8 L340.5,532.3 L341.4,533.8 L342.2,535.3 L343.1,536.8 L343.9,538.3 L344.7,539.8 L345.5,541.3 L346.2,542.8 L347,544.3 L347.6,545.8 L348.3,547.3 L348.9,548.8 L349.5,550.3 L350.1,551.8 L350.6,553.3 L351.2,554.8 L351.6,556.3 L352.1,557.8 L352.5,559.3 L352.8,560.8 L353.2,562.3 L353.5,563.8 L353.9,565.3 L354.2,566.8 L354.5,568.3 L354.8,569.8 L355.1,571.3 L355.4,572.8 L355.7,574.3 L355.9,575.8 L356.2,577.3 L356.5,578.8 L356.8,580.3 L357.1,581.8 L357.3,583.3 L357.6,584.8 L357.8,586.3 L358,587.8 L358.2,589.3 L358.3,590.8 L358.5,592.3 L358.6,593.8 L358.6,593.8 L358.7,592.3 L358.9,590.8 L359,589.3 L359.2,587.8 L359.4,586.3 L359.6,584.8 L359.9,583.3 L360.1,581.8 L360.4,580.3 L360.7,578.8 L361,577.3 L361.3,575.8 L361.5,574.3 L361.8,572.8 L362.1,571.3 L362.4,569.8 L362.7,568.3 L363,566.8 L363.3,565.3 L363.7,563.8 L364,562.3 L364.4,560.8 L364.7,559.3 L365.1,557.8 L365.6,556.3 L366.1,554.8 L366.6,553.3 L367.1,551.8 L367.7,550.3 L368.3,548.8 L368.9,547.3 L369.6,545.8 L370.2,544.3 L371,542.8 L371.7,541.3 L372.5,539.8 L373.3,538.3 L374.1,536.8 L375,535.3 L375.8,533.8 L376.7,532.3 L377.5,530.8 L378.3,529.3 L379.1,527.8 L379.9,526.3 L380.7,524.8 L381.5,523.3 L382.4,521.8 L383.3,520.3 L384.1,518.8 L385,517.3 L385.9,515.8 L386.9,514.3 L387.8,512.8 L388.7,511.3 L389.7,509.8 L390.7,508.3 L391.7,506.8 L392.8,505.3 L393.8,503.8 L394.9,502.3 L396,500.8 L397.1,499.3 L398.3,497.8 L399.6,496.3 L400.9,494.8 L402.3,493.3 L403.6,491.8 L405.1,490.3 L406.5,488.8 L408,487.3 L409.6,485.8 L411.1,484.3 L412.6,482.8 L414.2,481.3 L415.8,479.8 L417.4,478.3 L419.1,476.8 L420.9,475.3 L422.7,473.8 L424.6,472.3 L426.7,470.8 L428.8,469.3 L431,467.8 L433.2,466.3 L435.5,464.8 L437.8,463.3 L440.2,461.8 L442.6,460.3 L445,458.8 L447.4,457.3 L449.8,455.8 L452.3,454.3 L454.7,452.8 L457.2,451.3 L459.6,449.8 L459.6,440 Z" fill="#13018f"/>
<filter id="bl2" x="-50%" y="-50%" width="200%" height="200%"><feGaussianBlur stdDeviation="1.2"/></filter>
<rect x="353.8" y="588.5" width="9.6" height="6" fill="#3a58f4" stroke="none" stroke-width="1" filter="url(#bl2)"/>
<rect x="354.6" y="593.6" width="8.2" height="13" fill="#13018f" stroke="none" stroke-width="1" />
</g>
<rect x="271.2" y="457.6" width="174.2" height="147.4" fill="none" stroke="#000" stroke-width="1.4" />
<line x1="271.6" y1="605" x2="271.6" y2="611.2" stroke="#000" stroke-width="1.2" />
<line x1="280.3" y1="605" x2="280.3" y2="608.5" stroke="#000" stroke-width="1.2" />
<line x1="289" y1="605" x2="289" y2="608.5" stroke="#000" stroke-width="1.2" />
<line x1="297.7" y1="605" x2="297.7" y2="608.5" stroke="#000" stroke-width="1.2" />
<line x1="306.4" y1="605" x2="306.4" y2="608.5" stroke="#000" stroke-width="1.2" />
<line x1="315.1" y1="605" x2="315.1" y2="611.2" stroke="#000" stroke-width="1.2" />
<line x1="323.8" y1="605" x2="323.8" y2="608.5" stroke="#000" stroke-width="1.2" />
<line x1="332.5" y1="605" x2="332.5" y2="608.5" stroke="#000" stroke-width="1.2" />
<line x1="341.2" y1="605" x2="341.2" y2="608.5" stroke="#000" stroke-width="1.2" />
<line x1="349.9" y1="605" x2="349.9" y2="608.5" stroke="#000" stroke-width="1.2" />
<line x1="358.6" y1="605" x2="358.6" y2="611.2" stroke="#000" stroke-width="1.2" />
<line x1="367.3" y1="605" x2="367.3" y2="608.5" stroke="#000" stroke-width="1.2" />
<line x1="376" y1="605" x2="376" y2="608.5" stroke="#000" stroke-width="1.2" />
<line x1="384.7" y1="605" x2="384.7" y2="608.5" stroke="#000" stroke-width="1.2" />
<line x1="393.4" y1="605" x2="393.4" y2="608.5" stroke="#000" stroke-width="1.2" />
<line x1="402.1" y1="605" x2="402.1" y2="611.2" stroke="#000" stroke-width="1.2" />
<line x1="410.8" y1="605" x2="410.8" y2="608.5" stroke="#000" stroke-width="1.2" />
<line x1="419.5" y1="605" x2="419.5" y2="608.5" stroke="#000" stroke-width="1.2" />
<line x1="428.2" y1="605" x2="428.2" y2="608.5" stroke="#000" stroke-width="1.2" />
<line x1="436.9" y1="605" x2="436.9" y2="608.5" stroke="#000" stroke-width="1.2" />
<line x1="445.6" y1="605" x2="445.6" y2="611.2" stroke="#000" stroke-width="1.2" />
<text x="271.6" y="629.6" font-size="14.6" text-anchor="middle" font-weight="normal" fill="#000" font-family="Liberation Sans" >−2</text>
<text x="315.1" y="629.6" font-size="14.6" text-anchor="middle" font-weight="normal" fill="#000" font-family="Liberation Sans" >−1</text>
<text x="358.6" y="629.6" font-size="14.6" text-anchor="middle" font-weight="normal" fill="#000" font-family="Liberation Sans" >0</text>
<text x="402.1" y="629.6" font-size="14.6" text-anchor="middle" font-weight="normal" fill="#000" font-family="Liberation Sans" >1</text>
<text x="445.6" y="629.6" font-size="14.6" text-anchor="middle" font-weight="normal" fill="#000" font-family="Liberation Sans" >2</text>
<line x1="271.2" y1="601.1" x2="267.7" y2="601.1" stroke="#000" stroke-width="1.2" />
<line x1="271.2" y1="592.4" x2="267.7" y2="592.4" stroke="#000" stroke-width="1.2" />
<line x1="271.2" y1="583.7" x2="267.7" y2="583.7" stroke="#000" stroke-width="1.2" />
<line x1="271.2" y1="575" x2="267.7" y2="575" stroke="#000" stroke-width="1.2" />
<line x1="271.2" y1="566.3" x2="265" y2="566.3" stroke="#000" stroke-width="1.2" />
<line x1="271.2" y1="557.6" x2="267.7" y2="557.6" stroke="#000" stroke-width="1.2" />
<line x1="271.2" y1="548.9" x2="267.7" y2="548.9" stroke="#000" stroke-width="1.2" />
<line x1="271.2" y1="540.2" x2="267.7" y2="540.2" stroke="#000" stroke-width="1.2" />
<line x1="271.2" y1="531.5" x2="267.7" y2="531.5" stroke="#000" stroke-width="1.2" />
<line x1="271.2" y1="522.8" x2="265" y2="522.8" stroke="#000" stroke-width="1.2" />
<line x1="271.2" y1="514.1" x2="267.7" y2="514.1" stroke="#000" stroke-width="1.2" />
<line x1="271.2" y1="505.4" x2="267.7" y2="505.4" stroke="#000" stroke-width="1.2" />
<line x1="271.2" y1="496.7" x2="267.7" y2="496.7" stroke="#000" stroke-width="1.2" />
<line x1="271.2" y1="488" x2="267.7" y2="488" stroke="#000" stroke-width="1.2" />
<line x1="271.2" y1="479.3" x2="265" y2="479.3" stroke="#000" stroke-width="1.2" />
<line x1="271.2" y1="470.6" x2="267.7" y2="470.6" stroke="#000" stroke-width="1.2" />
<line x1="271.2" y1="461.9" x2="267.7" y2="461.9" stroke="#000" stroke-width="1.2" />
<text x="257.6" y="571.5" font-size="14.6" text-anchor="end" font-weight="normal" fill="#000" font-family="Liberation Sans" >1</text>
<text x="257.6" y="528" font-size="14.6" text-anchor="end" font-weight="normal" fill="#000" font-family="Liberation Sans" >2</text>
<text x="257.6" y="484.5" font-size="14.6" text-anchor="end" font-weight="normal" fill="#000" font-family="Liberation Sans" >3</text>
<text x="358" y="655.5" font-size="15" text-anchor="middle" font-family="Liberation Sans"><tspan font-style="italic">q</tspan><tspan font-size="10" dy="3.5">xy</tspan><tspan dy="-3.5"> (Å</tspan><tspan font-size="10" dy="-9.5" dx="1.5">−1</tspan><tspan dy="9.5" dx="1.5">)</tspan></text>
<text transform="translate(243,531)rotate(-90)" font-size="15" text-anchor="middle" font-family="Liberation Sans"><tspan font-style="italic">q</tspan><tspan font-size="10" dy="3.5">z</tspan><tspan dy="-3.5"> (Å</tspan><tspan font-size="10" dy="-9.5" dx="1.5">−1</tspan><tspan dy="9.5" dx="1.5">)</tspan></text>
<text x="460.6" y="452.4" font-size="35" text-anchor="start" font-weight="bold" fill="#000" font-family="Liberation Serif" >i</text>
<defs><clipPath id="ci"><rect x="499.6" y="457.6" width="174.4" height="147.4"/></clipPath><radialGradient id="rgi" gradientUnits="userSpaceOnUse" cx="586.8" cy="609.4" r="130" gradientTransform="translate(586.8,609.4) scale(1,1.1) translate(-586.8,-609.4)"><stop offset="0.0000" stop-color="#5ac0fa"/><stop offset="0.0923" stop-color="#60d4fa"/><stop offset="0.1692" stop-color="#6aecf4"/><stop offset="0.3077" stop-color="#70f4ec"/><stop offset="0.6462" stop-color="#70f2ec"/><stop offset="0.6769" stop-color="#5ee8f6"/><stop offset="0.7231" stop-color="#54c0fa"/><stop offset="0.8077" stop-color="#4c98fa"/><stop offset="1.0000" stop-color="#4884fa"/></radialGradient></defs>
<g clip-path="url(#ci)">
<rect x="499.6" y="457.6" width="174.4" height="147.4" fill="#3018f8" stroke="none" stroke-width="1" />
<path d="M499,491.3 L534.3,482.2 L640,482.2 L675,491.3 L675,458 L499,458 Z" fill="#2c10f4"/>
<path d="M499,505.2 L546.4,496.8 L627.2,496.8 L675,505.2 L675,606 L499,606 Z" fill="url(#rgi)"/>
<filter id="bl1" x="-20%" y="-20%" width="140%" height="140%"><feGaussianBlur stdDeviation="1.8"/></filter>
<path d="M501.7,627.5 L503.9,623.2 L503.3,619.5 L502.8,615.8 L502.4,612.1 L502.3,608.3 L502.3,604.5 L502.4,600.8 L502.8,597 L503.1,593.2 L503.1,589.3 L503.4,585.4 L503.8,581.5 L504.5,577.6 L505.5,573.7 L506.8,569.9 L508.1,566.2 L509.7,562.4 L511.5,558.8 L513.8,555.4 L516.5,552.5 L519.4,549.6 L522.3,546.9 L525.4,544.4 L528.6,541.9 L531.8,539.6 L535.1,537.5 L538.5,535.5 L542,533.6 L545.5,531.9 L549,530.2 L552.7,528.8 L556.3,527.5 L560.1,526.4 L563.8,525.5 L567.6,524.5 L571.4,523.8 L575.2,523.2 L579.1,522.7 L582.9,522.5 L586.8,522.4 L586.8,564.4 L586.8,564.4 L584.8,564.4 L582.8,564.6 L580.8,564.8 L578.8,565.2 L577,566 L575.2,567 L573.5,568.1 L571.8,569.1 L570.2,570.2 L568.6,571.3 L567.1,572.4 L565.6,573.6 L564.2,574.9 L562.9,576.1 L561.4,577.1 L559.9,578.2 L558.5,579.4 L557.1,580.6 L555.8,581.9 L554.5,583.2 L553.1,584.5 L551.8,585.9 L550.6,587.4 L549.5,588.9 L548.3,590.4 L547.5,592.2 L547.1,594 L546.7,595.9 L546.3,597.8 L546.1,599.6 L546,601.5 L545.8,603.3 L545.6,605.2 L545.5,607 L545.5,608.9 L545.6,610.7 L545.8,612.5 L546,614.3 L546.3,616.1 L542.8,618.8 L542.8,618.8 L543.2,624.2 L542.2,629.6 L539.9,634.6 L536.3,638.7 L531.8,641.8 L526.6,643.7 L521.1,644.1 L515.8,643.1 L510.8,640.7 L506.6,637.2 L503.5,632.7 L501.7,627.5 Z M671.9,627.5 L669.7,623.2 L670.3,619.5 L670.8,615.8 L671.2,612.1 L671.3,608.3 L671.3,604.5 L671.2,600.8 L670.8,597 L670.5,593.2 L670.5,589.3 L670.2,585.4 L669.8,581.5 L669.1,577.6 L668.1,573.7 L666.8,569.9 L665.5,566.2 L663.9,562.4 L662.1,558.8 L659.8,555.4 L657.1,552.5 L654.2,549.6 L651.3,546.9 L648.2,544.4 L645,541.9 L641.8,539.6 L638.5,537.5 L635.1,535.5 L631.6,533.6 L628.1,531.9 L624.6,530.2 L620.9,528.8 L617.3,527.5 L613.5,526.4 L609.8,525.5 L606,524.5 L602.2,523.8 L598.4,523.2 L594.5,522.7 L590.7,522.5 L586.8,522.4 L586.8,564.4 L586.8,564.4 L588.8,564.4 L590.8,564.6 L592.8,564.8 L594.8,565.2 L596.6,566 L598.4,567 L600.1,568.1 L601.8,569.1 L603.4,570.2 L605,571.3 L606.5,572.4 L608,573.6 L609.4,574.9 L610.7,576.1 L612.2,577.1 L613.7,578.2 L615.1,579.4 L616.5,580.6 L617.8,581.9 L619.1,583.2 L620.5,584.5 L621.8,585.9 L623,587.4 L624.1,588.9 L625.3,590.4 L626.1,592.2 L626.5,594 L626.9,595.9 L627.3,597.8 L627.5,599.6 L627.6,601.5 L627.8,603.3 L628,605.2 L628.1,607 L628.1,608.9 L628,610.7 L627.8,612.5 L627.6,614.3 L627.3,616.1 L630.8,618.8 L630.8,618.8 L630.4,624.2 L631.4,629.6 L633.7,634.6 L637.3,638.7 L641.8,641.8 L647,643.7 L652.5,644.1 L657.8,643.1 L662.8,640.7 L667,637.2 L670.1,632.7 L671.9,627.5 Z " fill="#7cf8c8" filter="url(#bl1)"/>
<path d="M504.1,627 L506.4,622.8 L505.7,619.2 L505.3,615.6 L504.9,612 L504.8,608.3 L504.8,604.7 L504.9,601 L505.3,597.4 L505.5,593.7 L505.6,589.9 L505.8,586.1 L506.2,582.3 L506.8,578.5 L507.8,574.7 L509,571 L510.3,567.4 L511.8,563.7 L513.5,560.2 L515.8,556.9 L518.4,554 L521.2,551.3 L524.1,548.7 L527.1,546.2 L530.2,543.8 L533.4,541.6 L536.6,539.5 L539.9,537.6 L543.2,535.8 L546.7,534.1 L550.1,532.5 L553.6,531.1 L557.2,529.9 L560.8,528.8 L564.5,527.9 L568.2,527 L571.8,526.2 L575.6,525.7 L579.3,525.2 L583,525 L586.8,524.9 L586.8,561.9 L586.8,561.9 L584.7,561.9 L582.6,562.1 L580.5,562.3 L578.4,562.7 L576.4,563.6 L574.5,564.6 L572.7,565.7 L571,566.8 L569.2,567.9 L567.5,569 L565.9,570.2 L564.4,571.5 L562.9,572.8 L561.4,574.1 L559.8,575.2 L558.2,576.3 L556.7,577.6 L555.3,578.9 L553.9,580.3 L552.5,581.6 L551.1,583 L549.8,584.5 L548.5,586.1 L547.3,587.7 L546.1,589.3 L545.3,591.2 L544.7,593.1 L544.3,595.1 L543.9,597.1 L543.7,599 L543.5,601 L543.3,603 L543.1,604.9 L543,606.9 L543,608.8 L543.1,610.8 L543.3,612.7 L543.5,614.6 L543.9,616.5 L540.3,619.3 L540.3,619.3 L540.7,624.1 L539.8,628.8 L537.8,633.2 L534.6,636.9 L530.6,639.6 L526.1,641.2 L521.3,641.6 L516.5,640.7 L512.2,638.6 L508.5,635.5 L505.8,631.5 L504.1,627 Z M669.5,627 L667.2,622.8 L667.9,619.2 L668.3,615.6 L668.7,612 L668.8,608.3 L668.8,604.7 L668.7,601 L668.3,597.4 L668.1,593.7 L668,589.9 L667.8,586.1 L667.4,582.3 L666.8,578.5 L665.8,574.7 L664.6,571 L663.3,567.4 L661.8,563.7 L660.1,560.2 L657.8,556.9 L655.2,554 L652.4,551.3 L649.5,548.7 L646.5,546.2 L643.4,543.8 L640.2,541.6 L637,539.5 L633.7,537.6 L630.4,535.8 L626.9,534.1 L623.5,532.5 L620,531.1 L616.4,529.9 L612.8,528.8 L609.1,527.9 L605.4,527 L601.8,526.2 L598,525.7 L594.3,525.2 L590.6,525 L586.8,524.9 L586.8,561.9 L586.8,561.9 L588.9,561.9 L591,562.1 L593.1,562.3 L595.2,562.7 L597.2,563.6 L599.1,564.6 L600.9,565.7 L602.6,566.8 L604.4,567.9 L606.1,569 L607.7,570.2 L609.2,571.5 L610.7,572.8 L612.2,574.1 L613.8,575.2 L615.4,576.3 L616.9,577.6 L618.3,578.9 L619.7,580.3 L621.1,581.6 L622.5,583 L623.8,584.5 L625.1,586.1 L626.3,587.7 L627.5,589.3 L628.3,591.2 L628.9,593.1 L629.3,595.1 L629.7,597.1 L629.9,599 L630.1,601 L630.3,603 L630.5,604.9 L630.6,606.9 L630.6,608.8 L630.5,610.8 L630.3,612.7 L630.1,614.6 L629.7,616.5 L633.3,619.3 L633.3,619.3 L632.9,624.1 L633.8,628.8 L635.8,633.2 L639,636.9 L643,639.6 L647.5,641.2 L652.3,641.6 L657.1,640.7 L661.4,638.6 L665.1,635.5 L667.8,631.5 L669.5,627 Z " fill="#a8f880" filter="url(#bl1)"/>
<path d="M508,617.7 L507.6,614.2 L507.4,610.7 L507.3,607.2 L507.3,603.7 L507.5,600.2 L507.9,596.7 L508,593.1 L508,589.5 L508.3,585.8 L508.7,582.1 L509.4,578.5 L510.4,574.9 L511.5,571.3 L512.8,567.8 L514.3,564.3 L516,560.9 L518.3,557.9 L520.9,555.1 L523.6,552.5 L526.4,550 L529.3,547.6 L532.3,545.4 L535.3,543.3 L538.4,541.3 L541.6,539.4 L544.9,537.7 L548.2,536.1 L551.5,534.6 L554.9,533.3 L558.4,532.1 L561.8,531.1 L565.4,530.2 L568.9,529.4 L572.4,528.7 L576,528.1 L579.6,527.7 L583.2,527.5 L586.8,527.4 L586.8,559.4 L586.8,559.4 L584.6,559.4 L582.4,559.6 L580.2,559.8 L578,560.2 L576,561.1 L574,562.1 L572.1,563.2 L570.2,564.4 L568.4,565.5 L566.6,566.6 L564.9,567.9 L563.3,569.2 L561.7,570.5 L560.2,571.9 L558.5,573 L556.9,574.2 L555.3,575.5 L553.8,576.9 L552.3,578.3 L550.9,579.8 L549.4,581.3 L548,582.8 L546.6,584.4 L545.3,586.1 L544.1,587.8 L543.1,589.7 L542.5,591.7 L542,593.8 L541.6,595.8 L541.3,597.9 L541.1,599.9 L540.9,602 L540.7,604 L540.6,606.1 L540.5,608.1 L540.6,610.2 L540.7,612.2 L541,614.2 L541,614.2 L540.8,618.5 L539.6,622.7 L537.4,626.4 L534.2,629.3 L530.4,631.4 L526.2,632.4 L521.9,632.3 L517.8,631.1 L514.1,628.8 L511.1,625.7 L509,621.9 L508,617.7 Z M665.6,617.7 L666,614.2 L666.2,610.7 L666.3,607.2 L666.3,603.7 L666.1,600.2 L665.7,596.7 L665.6,593.1 L665.6,589.5 L665.3,585.8 L664.9,582.1 L664.2,578.5 L663.2,574.9 L662.1,571.3 L660.8,567.8 L659.3,564.3 L657.6,560.9 L655.3,557.9 L652.7,555.1 L650,552.5 L647.2,550 L644.3,547.6 L641.3,545.4 L638.3,543.3 L635.2,541.3 L632,539.4 L628.7,537.7 L625.4,536.1 L622.1,534.6 L618.7,533.3 L615.2,532.1 L611.8,531.1 L608.2,530.2 L604.7,529.4 L601.2,528.7 L597.6,528.1 L594,527.7 L590.4,527.5 L586.8,527.4 L586.8,559.4 L586.8,559.4 L589,559.4 L591.2,559.6 L593.4,559.8 L595.6,560.2 L597.6,561.1 L599.6,562.1 L601.5,563.2 L603.4,564.4 L605.2,565.5 L607,566.6 L608.7,567.9 L610.3,569.2 L611.9,570.5 L613.4,571.9 L615.1,573 L616.7,574.2 L618.3,575.5 L619.8,576.9 L621.3,578.3 L622.7,579.8 L624.2,581.3 L625.6,582.8 L627,584.4 L628.3,586.1 L629.5,587.8 L630.5,589.7 L631.1,591.7 L631.6,593.8 L632,595.8 L632.3,597.9 L632.5,599.9 L632.7,602 L632.9,604 L633,606.1 L633.1,608.1 L633,610.2 L632.9,612.2 L632.6,614.2 L632.6,614.2 L632.8,618.5 L634,622.7 L636.2,626.4 L639.4,629.3 L643.2,631.4 L647.4,632.4 L651.7,632.3 L655.8,631.1 L659.5,628.8 L662.5,625.7 L664.6,621.9 L665.6,617.7 Z " fill="#d4f444" filter="url(#bl1)"/>
<path d="M509.9,601.3 L510.2,597.9 L510.4,594.4 L510.4,590.9 L510.6,587.3 L510.9,583.7 L511.5,580.1 L512.5,576.6 L513.5,573.1 L514.8,569.6 L516.2,566.2 L517.7,562.8 L519.9,559.8 L522.4,557.1 L525.1,554.5 L527.8,552.1 L530.6,549.7 L533.6,547.6 L536.5,545.5 L539.6,543.5 L542.7,541.7 L545.9,540 L549.1,538.4 L552.3,537 L555.6,535.7 L559,534.5 L562.4,533.5 L565.9,532.7 L569.3,531.9 L572.7,531.2 L576.2,530.6 L579.7,530.2 L583.3,530 L586.8,529.9 L586.8,556.9 L586.8,556.9 L584.5,557 L582.1,557.1 L579.8,557.4 L577.5,557.8 L575.4,558.7 L573.2,559.8 L571.2,560.9 L569.2,562.1 L567.3,563.2 L565.4,564.5 L563.6,565.8 L561.8,567.1 L560.2,568.6 L558.5,570 L556.8,571.2 L555,572.5 L553.4,573.9 L551.8,575.3 L550.2,576.9 L548.7,578.4 L547.2,580 L545.7,581.7 L544.3,583.4 L542.9,585.2 L541.7,587 L540.7,589.1 L540.1,591.2 L539.6,593.4 L539.1,595.6 L538.8,597.8 L538.6,600 L538.4,602.1 L538.2,604.3 L538.2,604.3 L537.3,607.9 L535.5,611.2 L533,613.8 L529.8,615.8 L526.3,616.8 L522.6,616.9 L519,616.1 L515.7,614.3 L513,611.7 L511.1,608.6 L510,605 L509.9,601.3 Z M663.7,601.3 L663.4,597.9 L663.2,594.4 L663.2,590.9 L663,587.3 L662.7,583.7 L662.1,580.1 L661.1,576.6 L660.1,573.1 L658.8,569.6 L657.4,566.2 L655.9,562.8 L653.7,559.8 L651.2,557.1 L648.5,554.5 L645.8,552.1 L643,549.7 L640,547.6 L637.1,545.5 L634,543.5 L630.9,541.7 L627.7,540 L624.5,538.4 L621.3,537 L618,535.7 L614.6,534.5 L611.2,533.5 L607.7,532.7 L604.3,531.9 L600.9,531.2 L597.4,530.6 L593.9,530.2 L590.3,530 L586.8,529.9 L586.8,556.9 L586.8,556.9 L589.1,557 L591.5,557.1 L593.8,557.4 L596.1,557.8 L598.2,558.7 L600.4,559.8 L602.4,560.9 L604.4,562.1 L606.3,563.2 L608.2,564.5 L610,565.8 L611.8,567.1 L613.4,568.6 L615.1,570 L616.8,571.2 L618.6,572.5 L620.2,573.9 L621.8,575.3 L623.4,576.9 L624.9,578.4 L626.4,580 L627.9,581.7 L629.3,583.4 L630.7,585.2 L631.9,587 L632.9,589.1 L633.5,591.2 L634,593.4 L634.5,595.6 L634.8,597.8 L635,600 L635.2,602.1 L635.4,604.3 L635.4,604.3 L636.3,607.9 L638.1,611.2 L640.6,613.8 L643.8,615.8 L647.3,616.8 L651,616.9 L654.6,616.1 L657.9,614.3 L660.6,611.7 L662.5,608.6 L663.6,605 L663.7,601.3 Z " fill="#f4e626" filter="url(#bl1)"/>
<path d="M512.4,589.5 L512.7,585.9 L513.1,582.3 L513.9,578.8 L514.9,575.3 L516.1,571.9 L517.4,568.4 L518.9,565.1 L520.7,561.9 L523.2,559.1 L525.8,556.5 L528.5,554.1 L531.3,551.7 L534.2,549.6 L537.1,547.5 L540.1,545.5 L543.2,543.7 L546.4,542 L549.6,540.4 L552.8,539 L556.1,537.7 L559.4,536.5 L562.8,535.5 L562.8,535.5 L566,534.9 L569.2,535.2 L572.3,536.2 L574.9,538.1 L577,540.5 L578.4,543.5 L579,546.6 L578.8,549.9 L577.7,552.9 L575.8,555.6 L573.4,557.7 L570.5,559.1 L570.5,559.1 L568.4,560.3 L566.3,561.5 L564.3,562.8 L562.4,564.2 L560.5,565.6 L558.8,567.1 L557,568.6 L555.1,569.9 L553.3,571.3 L551.6,572.8 L549.9,574.4 L548.3,576 L546.7,577.7 L545.1,579.4 L543.5,581.1 L542.1,583 L540.7,584.9 L539.4,586.9 L538.6,589.2 L538,591.5 L537.5,593.8 L537.1,596.1 L537.1,596.1 L535.8,599.1 L533.8,601.8 L531.1,603.8 L528,605.1 L524.7,605.5 L521.4,605.1 L518.4,603.8 L515.7,601.8 L513.7,599.1 L512.4,596.1 L512,592.8 L512.4,589.5 Z M661.2,589.5 L660.9,585.9 L660.5,582.3 L659.7,578.8 L658.7,575.3 L657.5,571.9 L656.2,568.4 L654.7,565.1 L652.9,561.9 L650.4,559.1 L647.8,556.5 L645.1,554.1 L642.3,551.7 L639.4,549.6 L636.5,547.5 L633.5,545.5 L630.4,543.7 L627.2,542 L624,540.4 L620.8,539 L617.5,537.7 L614.2,536.5 L610.8,535.5 L610.8,535.5 L607.6,534.9 L604.4,535.2 L601.3,536.2 L598.7,538.1 L596.6,540.5 L595.2,543.5 L594.6,546.6 L594.8,549.9 L595.9,552.9 L597.8,555.6 L600.2,557.7 L603.1,559.1 L603.1,559.1 L605.2,560.3 L607.3,561.5 L609.3,562.8 L611.2,564.2 L613.1,565.6 L614.8,567.1 L616.6,568.6 L618.5,569.9 L620.3,571.3 L622,572.8 L623.7,574.4 L625.3,576 L626.9,577.7 L628.5,579.4 L630.1,581.1 L631.5,583 L632.9,584.9 L634.2,586.9 L635,589.2 L635.6,591.5 L636.1,593.8 L636.5,596.1 L636.5,596.1 L637.8,599.1 L639.8,601.8 L642.5,603.8 L645.6,605.1 L648.9,605.5 L652.2,605.1 L655.2,603.8 L657.9,601.8 L659.9,599.1 L661.2,596.1 L661.6,592.8 L661.2,589.5 Z " fill="#f6b830" filter="url(#bl1)"/>
<path d="M514.3,584.4 L514.9,581.1 L515.7,577.8 L516.7,574.5 L517.9,571.2 L519.2,568 L520.6,564.8 L522.7,561.9 L525,559.4 L527.5,557 L530.1,554.7 L532.8,552.5 L535.5,550.4 L538.3,548.5 L541.2,546.6 L544.1,544.9 L547.1,543.3 L550.1,541.8 L553.2,540.4 L553.2,540.4 L556.1,539.5 L559.1,539.3 L562.2,539.9 L564.9,541.3 L567.2,543.3 L568.9,545.9 L569.9,548.8 L570.1,551.8 L569.4,554.8 L568.1,557.6 L566,559.9 L563.5,561.6 L563.5,561.6 L561.6,562.9 L559.7,564.4 L558,565.9 L556.2,567.3 L554.4,568.6 L552.6,570 L550.8,571.5 L549.1,573 L547.5,574.6 L545.9,576.3 L544.3,578 L542.8,579.7 L541.3,581.5 L539.9,583.4 L538.6,585.4 L537.6,587.5 L536.9,589.7 L536.3,592 L536.3,592 L535,594.7 L532.9,597 L530.4,598.7 L527.5,599.7 L524.5,599.8 L521.5,599.2 L518.8,597.9 L516.5,595.9 L514.8,593.3 L513.9,590.4 L513.7,587.4 L514.3,584.4 Z M659.3,584.4 L658.7,581.1 L657.9,577.8 L656.9,574.5 L655.7,571.2 L654.4,568 L653,564.8 L650.9,561.9 L648.6,559.4 L646.1,557 L643.5,554.7 L640.8,552.5 L638.1,550.4 L635.3,548.5 L632.4,546.6 L629.5,544.9 L626.5,543.3 L623.5,541.8 L620.4,540.4 L620.4,540.4 L617.5,539.5 L614.5,539.3 L611.4,539.9 L608.7,541.3 L606.4,543.3 L604.7,545.9 L603.7,548.8 L603.5,551.8 L604.2,554.8 L605.5,557.6 L607.6,559.9 L610.1,561.6 L610.1,561.6 L612,562.9 L613.9,564.4 L615.6,565.9 L617.4,567.3 L619.2,568.6 L621,570 L622.8,571.5 L624.5,573 L626.1,574.6 L627.7,576.3 L629.3,578 L630.8,579.7 L632.3,581.5 L633.7,583.4 L635,585.4 L636,587.5 L636.7,589.7 L637.3,592 L637.3,592 L638.6,594.7 L640.7,597 L643.2,598.7 L646.1,599.7 L649.1,599.8 L652.1,599.2 L654.8,597.9 L657.1,595.9 L658.8,593.3 L659.7,590.4 L659.9,587.4 L659.3,584.4 Z " fill="#f2962e" filter="url(#bl1)"/>
<path d="M519.3,577.9 L520.3,574.8 L521.4,571.6 L522.7,568.6 L524.1,565.5 L526.4,563 L528.7,560.7 L531.1,558.4 L533.6,556.2 L536.2,554.2 L538.9,552.3 L541.6,550.5 L544.4,548.8 L544.4,548.8 L546.5,547.7 L548.9,547.1 L551.3,547.3 L553.6,548 L555.6,549.3 L557.2,551.1 L558.4,553.2 L558.9,555.6 L558.8,558 L558,560.3 L556.7,562.3 L555,563.9 L555,563.9 L553,565.3 L551,566.8 L549.1,568.3 L547.3,569.9 L545.6,571.6 L543.9,573.4 L542.2,575.2 L540.5,577 L538.9,578.9 L537.4,580.9 L536,583 L534.7,585.1 L534.7,585.1 L533.5,587 L531.9,588.5 L529.9,589.5 L527.7,590 L525.5,589.9 L523.4,589.2 L521.5,588 L520,586.4 L519,584.4 L518.5,582.2 L518.6,580 L519.3,577.9 Z M654.3,577.9 L653.3,574.8 L652.2,571.6 L650.9,568.6 L649.5,565.5 L647.2,563 L644.9,560.7 L642.5,558.4 L640,556.2 L637.4,554.2 L634.7,552.3 L632,550.5 L629.2,548.8 L629.2,548.8 L627.1,547.7 L624.7,547.1 L622.3,547.3 L620,548 L618,549.3 L616.4,551.1 L615.2,553.2 L614.7,555.6 L614.8,558 L615.6,560.3 L616.9,562.3 L618.6,563.9 L618.6,563.9 L620.6,565.3 L622.6,566.8 L624.5,568.3 L626.3,569.9 L628,571.6 L629.7,573.4 L631.4,575.2 L633.1,577 L634.7,578.9 L636.2,580.9 L637.6,583 L638.9,585.1 L638.9,585.1 L640.1,587 L641.7,588.5 L643.7,589.5 L645.9,590 L648.1,589.9 L650.2,589.2 L652.1,588 L653.6,586.4 L654.6,584.4 L655.1,582.2 L655,580 L654.3,577.9 Z " fill="#f0802c" filter="url(#bl1)" opacity="0.6"/>
<path d="M485.8,440 L485.8,449.4 L488.2,450.9 L490.7,452.4 L493.1,453.9 L495.6,455.4 L498,456.9 L500.4,458.4 L502.8,459.9 L505.2,461.4 L507.6,462.9 L509.9,464.4 L512.2,465.9 L514.4,467.4 L516.6,468.9 L518.7,470.4 L520.8,471.9 L522.7,473.4 L524.5,474.9 L526.3,476.4 L528,477.9 L529.6,479.4 L531.2,480.9 L532.8,482.4 L534.3,483.9 L535.8,485.4 L537.4,486.9 L538.9,488.4 L540.3,489.9 L541.8,491.4 L543.1,492.9 L544.5,494.4 L545.8,495.9 L547.1,497.4 L548.3,498.9 L549.4,500.4 L550.5,501.9 L551.6,503.4 L552.6,504.9 L553.7,506.4 L554.7,507.9 L555.7,509.4 L556.7,510.9 L557.6,512.4 L558.5,513.9 L559.5,515.4 L560.4,516.9 L561.3,518.4 L562.1,519.9 L563,521.4 L563.9,522.9 L564.7,524.4 L565.5,525.9 L566.3,527.4 L567.1,528.9 L567.9,530.4 L568.7,531.9 L569.6,533.4 L570.4,534.9 L571.3,536.4 L572.1,537.9 L572.9,539.4 L573.7,540.9 L574.4,542.4 L575.2,543.9 L575.8,545.4 L576.5,546.9 L577.1,548.4 L577.7,549.9 L578.3,551.4 L578.8,552.9 L579.3,554.4 L579.8,555.9 L580.3,557.4 L580.7,558.9 L581,560.4 L581.4,561.9 L581.7,563.4 L582.1,564.9 L582.4,566.4 L582.7,567.9 L583,569.4 L583.3,570.9 L583.6,572.4 L583.9,573.9 L584.1,575.4 L584.4,576.9 L584.7,578.4 L585,579.9 L585.3,581.4 L585.5,582.9 L585.8,584.4 L586,585.9 L586.2,587.4 L586.4,588.9 L586.5,590.4 L586.7,591.9 L586.8,593.4 L586.8,593.4 L586.9,591.9 L587.1,590.4 L587.2,588.9 L587.4,587.4 L587.6,585.9 L587.8,584.4 L588.1,582.9 L588.3,581.4 L588.6,579.9 L588.9,578.4 L589.2,576.9 L589.5,575.4 L589.7,573.9 L590,572.4 L590.3,570.9 L590.6,569.4 L590.9,567.9 L591.2,566.4 L591.5,564.9 L591.9,563.4 L592.2,561.9 L592.6,560.4 L592.9,558.9 L593.3,557.4 L593.8,555.9 L594.2,554.4 L594.8,552.9 L595.3,551.4 L595.9,549.9 L596.5,548.4 L597.1,546.9 L597.8,545.4 L598.4,543.9 L599.1,542.4 L599.9,540.9 L600.7,539.4 L601.5,537.9 L602.3,536.4 L603.2,534.9 L604,533.4 L604.9,531.9 L605.7,530.4 L606.5,528.9 L607.3,527.4 L608.1,525.9 L608.9,524.4 L609.7,522.9 L610.6,521.4 L611.5,519.9 L612.3,518.4 L613.2,516.9 L614.1,515.4 L615.1,513.9 L616,512.4 L616.9,510.9 L617.9,509.4 L618.9,507.9 L619.9,506.4 L621,504.9 L622,503.4 L623.1,501.9 L624.2,500.4 L625.3,498.9 L626.5,497.4 L627.8,495.9 L629.1,494.4 L630.5,492.9 L631.8,491.4 L633.3,489.9 L634.7,488.4 L636.2,486.9 L637.8,485.4 L639.3,483.9 L640.8,482.4 L642.4,480.9 L644,479.4 L645.6,477.9 L647.3,476.4 L649.1,474.9 L650.9,473.4 L652.8,471.9 L654.9,470.4 L657,468.9 L659.2,467.4 L661.4,465.9 L663.7,464.4 L666,462.9 L668.4,461.4 L670.8,459.9 L673.2,458.4 L675.6,456.9 L678,455.4 L680.5,453.9 L682.9,452.4 L685.4,450.9 L687.8,449.4 L687.8,440 Z" fill="#13018f"/>
<rect x="583.1" y="594.2" width="7.3" height="12" fill="#13018f" stroke="none" stroke-width="1" />
</g>
<rect x="499.6" y="457.6" width="174.4" height="147.4" fill="none" stroke="#000" stroke-width="1.4" />
<line x1="499.8" y1="605" x2="499.8" y2="611.2" stroke="#000" stroke-width="1.2" />
<line x1="508.5" y1="605" x2="508.5" y2="608.5" stroke="#000" stroke-width="1.2" />
<line x1="517.2" y1="605" x2="517.2" y2="608.5" stroke="#000" stroke-width="1.2" />
<line x1="525.9" y1="605" x2="525.9" y2="608.5" stroke="#000" stroke-width="1.2" />
<line x1="534.6" y1="605" x2="534.6" y2="608.5" stroke="#000" stroke-width="1.2" />
<line x1="543.3" y1="605" x2="543.3" y2="611.2" stroke="#000" stroke-width="1.2" />
<line x1="552" y1="605" x2="552" y2="608.5" stroke="#000" stroke-width="1.2" />
<line x1="560.7" y1="605" x2="560.7" y2="608.5" stroke="#000" stroke-width="1.2" />
<line x1="569.4" y1="605" x2="569.4" y2="608.5" stroke="#000" stroke-width="1.2" />
<line x1="578.1" y1="605" x2="578.1" y2="608.5" stroke="#000" stroke-width="1.2" />
<line x1="586.8" y1="605" x2="586.8" y2="611.2" stroke="#000" stroke-width="1.2" />
<line x1="595.5" y1="605" x2="595.5" y2="608.5" stroke="#000" stroke-width="1.2" />
<line x1="604.2" y1="605" x2="604.2" y2="608.5" stroke="#000" stroke-width="1.2" />
<line x1="612.9" y1="605" x2="612.9" y2="608.5" stroke="#000" stroke-width="1.2" />
<line x1="621.6" y1="605" x2="621.6" y2="608.5" stroke="#000" stroke-width="1.2" />
<line x1="630.3" y1="605" x2="630.3" y2="611.2" stroke="#000" stroke-width="1.2" />
<line x1="639" y1="605" x2="639" y2="608.5" stroke="#000" stroke-width="1.2" />
<line x1="647.7" y1="605" x2="647.7" y2="608.5" stroke="#000" stroke-width="1.2" />
<line x1="656.4" y1="605" x2="656.4" y2="608.5" stroke="#000" stroke-width="1.2" />
<line x1="665.1" y1="605" x2="665.1" y2="608.5" stroke="#000" stroke-width="1.2" />
<line x1="673.8" y1="605" x2="673.8" y2="611.2" stroke="#000" stroke-width="1.2" />
<text x="499.8" y="629.6" font-size="14.6" text-anchor="middle" font-weight="normal" fill="#000" font-family="Liberation Sans" >−2</text>
<text x="543.3" y="629.6" font-size="14.6" text-anchor="middle" font-weight="normal" fill="#000" font-family="Liberation Sans" >−1</text>
<text x="586.8" y="629.6" font-size="14.6" text-anchor="middle" font-weight="normal" fill="#000" font-family="Liberation Sans" >0</text>
<text x="630.3" y="629.6" font-size="14.6" text-anchor="middle" font-weight="normal" fill="#000" font-family="Liberation Sans" >1</text>
<text x="673.8" y="629.6" font-size="14.6" text-anchor="middle" font-weight="normal" fill="#000" font-family="Liberation Sans" >2</text>
<line x1="499.6" y1="600.7" x2="496.1" y2="600.7" stroke="#000" stroke-width="1.2" />
<line x1="499.6" y1="592" x2="496.1" y2="592" stroke="#000" stroke-width="1.2" />
<line x1="499.6" y1="583.3" x2="496.1" y2="583.3" stroke="#000" stroke-width="1.2" />
<line x1="499.6" y1="574.6" x2="496.1" y2="574.6" stroke="#000" stroke-width="1.2" />
<line x1="499.6" y1="565.9" x2="493.4" y2="565.9" stroke="#000" stroke-width="1.2" />
<line x1="499.6" y1="557.2" x2="496.1" y2="557.2" stroke="#000" stroke-width="1.2" />
<line x1="499.6" y1="548.5" x2="496.1" y2="548.5" stroke="#000" stroke-width="1.2" />
<line x1="499.6" y1="539.8" x2="496.1" y2="539.8" stroke="#000" stroke-width="1.2" />
<line x1="499.6" y1="531.1" x2="496.1" y2="531.1" stroke="#000" stroke-width="1.2" />
<line x1="499.6" y1="522.4" x2="493.4" y2="522.4" stroke="#000" stroke-width="1.2" />
<line x1="499.6" y1="513.7" x2="496.1" y2="513.7" stroke="#000" stroke-width="1.2" />
<line x1="499.6" y1="505" x2="496.1" y2="505" stroke="#000" stroke-width="1.2" />
<line x1="499.6" y1="496.3" x2="496.1" y2="496.3" stroke="#000" stroke-width="1.2" />
<line x1="499.6" y1="487.6" x2="496.1" y2="487.6" stroke="#000" stroke-width="1.2" />
<line x1="499.6" y1="478.9" x2="493.4" y2="478.9" stroke="#000" stroke-width="1.2" />
<line x1="499.6" y1="470.2" x2="496.1" y2="470.2" stroke="#000" stroke-width="1.2" />
<line x1="499.6" y1="461.5" x2="496.1" y2="461.5" stroke="#000" stroke-width="1.2" />
<text x="486" y="571.1" font-size="14.6" text-anchor="end" font-weight="normal" fill="#000" font-family="Liberation Sans" >1</text>
<text x="486" y="527.6" font-size="14.6" text-anchor="end" font-weight="normal" fill="#000" font-family="Liberation Sans" >2</text>
<text x="486" y="484.1" font-size="14.6" text-anchor="end" font-weight="normal" fill="#000" font-family="Liberation Sans" >3</text>
<text x="587" y="655.5" font-size="15" text-anchor="middle" font-family="Liberation Sans"><tspan font-style="italic">q</tspan><tspan font-size="10" dy="3.5">xy</tspan><tspan dy="-3.5"> (Å</tspan><tspan font-size="10" dy="-9.5" dx="1.5">−1</tspan><tspan dy="9.5" dx="1.5">)</tspan></text>
<text transform="translate(469.5,531)rotate(-90)" font-size="15" text-anchor="middle" font-family="Liberation Sans"><tspan font-style="italic">q</tspan><tspan font-size="10" dy="3.5">z</tspan><tspan dy="-3.5"> (Å</tspan><tspan font-size="10" dy="-9.5" dx="1.5">−1</tspan><tspan dy="9.5" dx="1.5">)</tspan></text>
</svg></body></html>
